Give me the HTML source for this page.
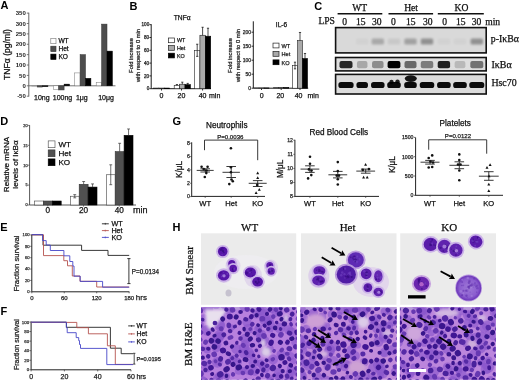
<!DOCTYPE html>
<html><head><meta charset="utf-8"><style>
html,body{margin:0;padding:0;background:#fff;overflow:hidden;}
svg{display:block;will-change:transform;filter:blur(0.3px);}
</style></head><body>
<svg width="520" height="381" viewBox="0 0 520 381" style="font-family:'Liberation Sans',sans-serif">
<rect width="520" height="381" fill="#fff"/>
<text x="0.60" y="9.20" font-size="11" text-anchor="start" font-weight="bold" font-family='"Liberation Sans", sans-serif' fill="#000">A</text>
<text x="129.60" y="10.10" font-size="11" text-anchor="start" font-weight="bold" font-family='"Liberation Sans", sans-serif' fill="#000">B</text>
<text x="314.30" y="9.60" font-size="11" text-anchor="start" font-weight="bold" font-family='"Liberation Sans", sans-serif' fill="#000">C</text>
<text x="0.30" y="125.20" font-size="11" text-anchor="start" font-weight="bold" font-family='"Liberation Sans", sans-serif' fill="#000">D</text>
<text x="0.30" y="230.50" font-size="11" text-anchor="start" font-weight="bold" font-family='"Liberation Sans", sans-serif' fill="#000">E</text>
<text x="0.50" y="315.00" font-size="11" text-anchor="start" font-weight="bold" font-family='"Liberation Sans", sans-serif' fill="#000">F</text>
<text x="172.60" y="124.90" font-size="11" text-anchor="start" font-weight="bold" font-family='"Liberation Sans", sans-serif' fill="#000">G</text>
<text x="172.40" y="231.20" font-size="11" text-anchor="start" font-weight="bold" font-family='"Liberation Sans", sans-serif' fill="#000">H</text>
<line x1="28.80" y1="12.71" x2="28.80" y2="96.59" stroke="#555" stroke-width="0.9"/>
<line x1="26.80" y1="96.19" x2="28.80" y2="96.19" stroke="#555" stroke-width="0.8"/>
<text x="25.80" y="98.39" font-size="6.0" text-anchor="end" font-weight="bold" font-family='"Liberation Sans", sans-serif' fill="#222">-50</text>
<line x1="26.80" y1="85.80" x2="28.80" y2="85.80" stroke="#555" stroke-width="0.8"/>
<text x="25.80" y="88.00" font-size="6.0" text-anchor="end" font-weight="bold" font-family='"Liberation Sans", sans-serif' fill="#222">0</text>
<line x1="26.80" y1="75.41" x2="28.80" y2="75.41" stroke="#555" stroke-width="0.8"/>
<text x="25.80" y="77.61" font-size="6.0" text-anchor="end" font-weight="bold" font-family='"Liberation Sans", sans-serif' fill="#222">50</text>
<line x1="26.80" y1="65.03" x2="28.80" y2="65.03" stroke="#555" stroke-width="0.8"/>
<text x="25.80" y="67.23" font-size="6.0" text-anchor="end" font-weight="bold" font-family='"Liberation Sans", sans-serif' fill="#222">100</text>
<line x1="26.80" y1="54.64" x2="28.80" y2="54.64" stroke="#555" stroke-width="0.8"/>
<text x="25.80" y="56.84" font-size="6.0" text-anchor="end" font-weight="bold" font-family='"Liberation Sans", sans-serif' fill="#222">150</text>
<line x1="26.80" y1="44.26" x2="28.80" y2="44.26" stroke="#555" stroke-width="0.8"/>
<text x="25.80" y="46.46" font-size="6.0" text-anchor="end" font-weight="bold" font-family='"Liberation Sans", sans-serif' fill="#222">200</text>
<line x1="26.80" y1="33.88" x2="28.80" y2="33.88" stroke="#555" stroke-width="0.8"/>
<text x="25.80" y="36.08" font-size="6.0" text-anchor="end" font-weight="bold" font-family='"Liberation Sans", sans-serif' fill="#222">250</text>
<line x1="26.80" y1="23.49" x2="28.80" y2="23.49" stroke="#555" stroke-width="0.8"/>
<text x="25.80" y="25.69" font-size="6.0" text-anchor="end" font-weight="bold" font-family='"Liberation Sans", sans-serif' fill="#222">300</text>
<line x1="26.80" y1="13.11" x2="28.80" y2="13.11" stroke="#555" stroke-width="0.8"/>
<text x="25.80" y="15.31" font-size="6.0" text-anchor="end" font-weight="bold" font-family='"Liberation Sans", sans-serif' fill="#222">350</text>
<line x1="28.80" y1="85.80" x2="115.50" y2="85.80" stroke="#666" stroke-width="0.9"/>
<text x="9.80" y="54.50" font-size="8.6" text-anchor="middle" font-weight="normal" font-family='"Liberation Sans", sans-serif' fill="#111" stroke="#111" stroke-width="0.25" transform="rotate(-90 9.8 54.5)">TNF&#945; (pg/ml)</text>
<rect x="31.80" y="85.80" width="5.40" height="0.21" fill="#fff" stroke="#777" stroke-width="0.5"/>
<rect x="37.20" y="85.80" width="5.40" height="1.25" fill="#4d4d4d" stroke="#333" stroke-width="0.5"/>
<rect x="42.60" y="85.80" width="5.40" height="0.83" fill="#000" stroke="#000" stroke-width="0.5"/>
<rect x="53.30" y="85.80" width="5.40" height="3.53" fill="#fff" stroke="#777" stroke-width="0.5"/>
<rect x="58.70" y="85.80" width="5.40" height="4.15" fill="#4d4d4d" stroke="#333" stroke-width="0.5"/>
<rect x="64.10" y="84.14" width="5.40" height="1.66" fill="#000" stroke="#000" stroke-width="0.5"/>
<rect x="74.70" y="72.92" width="5.40" height="12.88" fill="#fff" stroke="#777" stroke-width="0.5"/>
<rect x="80.10" y="54.64" width="5.40" height="31.16" fill="#4d4d4d" stroke="#333" stroke-width="0.5"/>
<rect x="85.50" y="78.32" width="5.40" height="7.48" fill="#000" stroke="#000" stroke-width="0.5"/>
<rect x="96.20" y="82.27" width="5.40" height="3.53" fill="#fff" stroke="#777" stroke-width="0.5"/>
<rect x="101.60" y="24.11" width="5.40" height="61.69" fill="#4d4d4d" stroke="#333" stroke-width="0.5"/>
<rect x="107.00" y="51.11" width="5.40" height="34.69" fill="#000" stroke="#000" stroke-width="0.5"/>
<rect x="50.80" y="38.30" width="5.20" height="5.40" fill="#fff" stroke="#777" stroke-width="0.6"/>
<text x="58.40" y="43.30" font-size="6.6" text-anchor="start" font-weight="normal" font-family='"Liberation Sans", sans-serif' fill="#111" stroke="#111" stroke-width="0.25">WT</text>
<rect x="50.80" y="46.20" width="5.20" height="5.40" fill="#4d4d4d" stroke="#333" stroke-width="0.6"/>
<text x="58.40" y="51.20" font-size="6.6" text-anchor="start" font-weight="normal" font-family='"Liberation Sans", sans-serif' fill="#111" stroke="#111" stroke-width="0.25">Het</text>
<rect x="50.80" y="54.10" width="5.20" height="5.40" fill="#000" stroke="#000" stroke-width="0.6"/>
<text x="58.40" y="59.10" font-size="6.6" text-anchor="start" font-weight="normal" font-family='"Liberation Sans", sans-serif' fill="#111" stroke="#111" stroke-width="0.25">KO</text>
<text x="41.80" y="100.40" font-size="7.0" text-anchor="middle" font-weight="normal" font-family='"Liberation Sans", sans-serif' fill="#111" stroke="#111" stroke-width="0.25">10ng</text>
<text x="62.50" y="100.40" font-size="7.0" text-anchor="middle" font-weight="normal" font-family='"Liberation Sans", sans-serif' fill="#111" stroke="#111" stroke-width="0.25">100ng</text>
<text x="81.80" y="100.40" font-size="7.0" text-anchor="middle" font-weight="normal" font-family='"Liberation Sans", sans-serif' fill="#111" stroke="#111" stroke-width="0.25">1&#956;g</text>
<text x="106.00" y="100.40" font-size="7.0" text-anchor="middle" font-weight="normal" font-family='"Liberation Sans", sans-serif' fill="#111" stroke="#111" stroke-width="0.25">10&#956;g</text>
<line x1="151.20" y1="24.20" x2="151.20" y2="88.70" stroke="#000" stroke-width="0.9"/>
<line x1="149.40" y1="88.70" x2="151.20" y2="88.70" stroke="#000" stroke-width="0.8"/>
<text x="149.20" y="90.30" font-size="4.6" text-anchor="end" font-weight="normal" font-family='"Liberation Sans", sans-serif' fill="#222" stroke="#222" stroke-width="0.25">0</text>
<line x1="149.40" y1="75.90" x2="151.20" y2="75.90" stroke="#000" stroke-width="0.8"/>
<text x="149.20" y="77.50" font-size="4.6" text-anchor="end" font-weight="normal" font-family='"Liberation Sans", sans-serif' fill="#222" stroke="#222" stroke-width="0.25">20</text>
<line x1="149.40" y1="63.10" x2="151.20" y2="63.10" stroke="#000" stroke-width="0.8"/>
<text x="149.20" y="64.70" font-size="4.6" text-anchor="end" font-weight="normal" font-family='"Liberation Sans", sans-serif' fill="#222" stroke="#222" stroke-width="0.25">40</text>
<line x1="149.40" y1="50.30" x2="151.20" y2="50.30" stroke="#000" stroke-width="0.8"/>
<text x="149.20" y="51.90" font-size="4.6" text-anchor="end" font-weight="normal" font-family='"Liberation Sans", sans-serif' fill="#222" stroke="#222" stroke-width="0.25">60</text>
<line x1="149.40" y1="37.50" x2="151.20" y2="37.50" stroke="#000" stroke-width="0.8"/>
<text x="149.20" y="39.10" font-size="4.6" text-anchor="end" font-weight="normal" font-family='"Liberation Sans", sans-serif' fill="#222" stroke="#222" stroke-width="0.25">80</text>
<line x1="149.40" y1="24.70" x2="151.20" y2="24.70" stroke="#000" stroke-width="0.8"/>
<text x="149.20" y="26.30" font-size="4.6" text-anchor="end" font-weight="normal" font-family='"Liberation Sans", sans-serif' fill="#222" stroke="#222" stroke-width="0.25">100</text>
<line x1="151.20" y1="88.70" x2="211.00" y2="88.70" stroke="#000" stroke-width="0.9"/>
<line x1="161.50" y1="88.70" x2="161.50" y2="90.50" stroke="#000" stroke-width="0.8"/>
<text x="161.50" y="97.70" font-size="7.0" text-anchor="middle" font-weight="normal" font-family='"Liberation Sans", sans-serif' fill="#111" stroke="#111" stroke-width="0.25">0</text>
<line x1="181.50" y1="88.70" x2="181.50" y2="90.50" stroke="#000" stroke-width="0.8"/>
<text x="181.50" y="97.70" font-size="7.0" text-anchor="middle" font-weight="normal" font-family='"Liberation Sans", sans-serif' fill="#111" stroke="#111" stroke-width="0.25">20</text>
<line x1="202.60" y1="88.70" x2="202.60" y2="90.50" stroke="#000" stroke-width="0.8"/>
<text x="202.60" y="97.70" font-size="7.0" text-anchor="middle" font-weight="normal" font-family='"Liberation Sans", sans-serif' fill="#111" stroke="#111" stroke-width="0.25">40</text>
<text x="209.00" y="97.70" font-size="7.0" text-anchor="start" font-weight="normal" font-family='"Liberation Sans", sans-serif' fill="#111" stroke="#111" stroke-width="0.25">min</text>
<text x="132.50" y="55.50" font-size="5.8" text-anchor="middle" font-weight="normal" font-family='"Liberation Sans", sans-serif' fill="#222" stroke="#222" stroke-width="0.25" transform="rotate(-90 132.5 55.5)">Fold increase</text>
<text x="140.30" y="55.50" font-size="5.8" text-anchor="middle" font-weight="normal" font-family='"Liberation Sans", sans-serif' fill="#222" stroke="#222" stroke-width="0.25" transform="rotate(-90 140.3 55.5)">with respect to 0 min</text>
<text x="182.20" y="20.00" font-size="6.7" text-anchor="middle" font-weight="normal" font-family='"Liberation Sans", sans-serif' fill="#111" stroke="#111" stroke-width="0.25">TNF&#945;</text>
<rect x="153.40" y="88.06" width="5.40" height="0.64" fill="#fff" stroke="#222" stroke-width="0.6"/>
<rect x="158.80" y="88.06" width="5.40" height="0.64" fill="#aaa" stroke="#222" stroke-width="0.6"/>
<rect x="164.20" y="88.06" width="5.40" height="0.64" fill="#000" stroke="#000" stroke-width="0.6"/>
<rect x="174.20" y="85.50" width="5.40" height="3.20" fill="#fff" stroke="#222" stroke-width="0.6"/>
<line x1="176.90" y1="84.54" x2="176.90" y2="85.50" stroke="#000" stroke-width="0.7"/>
<line x1="175.80" y1="84.54" x2="178.00" y2="84.54" stroke="#000" stroke-width="0.7"/>
<rect x="179.60" y="84.22" width="5.40" height="4.48" fill="#aaa" stroke="#222" stroke-width="0.6"/>
<line x1="182.30" y1="82.17" x2="182.30" y2="84.22" stroke="#000" stroke-width="0.7"/>
<line x1="181.20" y1="82.17" x2="183.40" y2="82.17" stroke="#000" stroke-width="0.7"/>
<rect x="185.00" y="84.67" width="5.40" height="4.03" fill="#000" stroke="#000" stroke-width="0.6"/>
<line x1="187.70" y1="83.39" x2="187.70" y2="84.67" stroke="#000" stroke-width="0.7"/>
<line x1="186.60" y1="83.39" x2="188.80" y2="83.39" stroke="#000" stroke-width="0.7"/>
<rect x="194.50" y="50.30" width="5.40" height="38.40" fill="#fff" stroke="#222" stroke-width="0.6"/>
<line x1="197.20" y1="44.22" x2="197.20" y2="50.30" stroke="#000" stroke-width="0.7"/>
<line x1="196.10" y1="44.22" x2="198.30" y2="44.22" stroke="#000" stroke-width="0.7"/>
<line x1="197.20" y1="50.30" x2="197.20" y2="56.38" stroke="#000" stroke-width="0.7"/>
<line x1="196.10" y1="56.38" x2="198.30" y2="56.38" stroke="#000" stroke-width="0.7"/>
<rect x="199.90" y="35.26" width="5.40" height="53.44" fill="#aaa" stroke="#222" stroke-width="0.6"/>
<line x1="202.60" y1="27.26" x2="202.60" y2="35.26" stroke="#000" stroke-width="0.7"/>
<line x1="201.50" y1="27.26" x2="203.70" y2="27.26" stroke="#000" stroke-width="0.7"/>
<rect x="205.30" y="36.22" width="5.40" height="52.48" fill="#000" stroke="#000" stroke-width="0.6"/>
<line x1="208.00" y1="28.22" x2="208.00" y2="36.22" stroke="#000" stroke-width="0.7"/>
<line x1="206.90" y1="28.22" x2="209.10" y2="28.22" stroke="#000" stroke-width="0.7"/>
<rect x="168.40" y="38.00" width="6.00" height="4.70" fill="#fff" stroke="#222" stroke-width="0.7"/>
<text x="176.90" y="42.40" font-size="5.4" text-anchor="start" font-weight="normal" font-family='"Liberation Sans", sans-serif' fill="#222" stroke="#222" stroke-width="0.25">WT</text>
<rect x="168.40" y="45.60" width="6.00" height="4.70" fill="#aaa" stroke="#222" stroke-width="0.7"/>
<text x="176.90" y="50.00" font-size="5.4" text-anchor="start" font-weight="normal" font-family='"Liberation Sans", sans-serif' fill="#222" stroke="#222" stroke-width="0.25">Het</text>
<rect x="168.40" y="53.20" width="6.00" height="4.70" fill="#000" stroke="#000" stroke-width="0.7"/>
<text x="176.90" y="57.60" font-size="5.4" text-anchor="start" font-weight="normal" font-family='"Liberation Sans", sans-serif' fill="#222" stroke="#222" stroke-width="0.25">KO</text>
<line x1="253.30" y1="21.30" x2="253.30" y2="88.20" stroke="#000" stroke-width="0.9"/>
<line x1="251.50" y1="88.20" x2="253.30" y2="88.20" stroke="#000" stroke-width="0.8"/>
<text x="251.00" y="89.90" font-size="5.0" text-anchor="end" font-weight="normal" font-family='"Liberation Sans", sans-serif' fill="#222" stroke="#222" stroke-width="0.25">0</text>
<line x1="251.50" y1="74.20" x2="253.30" y2="74.20" stroke="#000" stroke-width="0.8"/>
<text x="251.00" y="75.90" font-size="5.0" text-anchor="end" font-weight="normal" font-family='"Liberation Sans", sans-serif' fill="#222" stroke="#222" stroke-width="0.25">50</text>
<line x1="251.50" y1="60.20" x2="253.30" y2="60.20" stroke="#000" stroke-width="0.8"/>
<text x="251.00" y="61.90" font-size="5.0" text-anchor="end" font-weight="normal" font-family='"Liberation Sans", sans-serif' fill="#222" stroke="#222" stroke-width="0.25">100</text>
<line x1="251.50" y1="46.20" x2="253.30" y2="46.20" stroke="#000" stroke-width="0.8"/>
<text x="251.00" y="47.90" font-size="5.0" text-anchor="end" font-weight="normal" font-family='"Liberation Sans", sans-serif' fill="#222" stroke="#222" stroke-width="0.25">150</text>
<line x1="251.50" y1="32.20" x2="253.30" y2="32.20" stroke="#000" stroke-width="0.8"/>
<text x="251.00" y="33.90" font-size="5.0" text-anchor="end" font-weight="normal" font-family='"Liberation Sans", sans-serif' fill="#222" stroke="#222" stroke-width="0.25">200</text>
<line x1="253.30" y1="88.20" x2="308.20" y2="88.20" stroke="#000" stroke-width="0.9"/>
<line x1="261.50" y1="88.20" x2="261.50" y2="90.00" stroke="#000" stroke-width="0.8"/>
<text x="261.80" y="97.60" font-size="7.0" text-anchor="middle" font-weight="normal" font-family='"Liberation Sans", sans-serif' fill="#111" stroke="#111" stroke-width="0.25">0</text>
<line x1="281.20" y1="88.20" x2="281.20" y2="90.00" stroke="#000" stroke-width="0.8"/>
<text x="280.30" y="97.60" font-size="7.0" text-anchor="middle" font-weight="normal" font-family='"Liberation Sans", sans-serif' fill="#111" stroke="#111" stroke-width="0.25">20</text>
<line x1="300.00" y1="88.20" x2="300.00" y2="90.00" stroke="#000" stroke-width="0.8"/>
<text x="298.60" y="97.60" font-size="7.0" text-anchor="middle" font-weight="normal" font-family='"Liberation Sans", sans-serif' fill="#111" stroke="#111" stroke-width="0.25">40</text>
<text x="307.50" y="97.60" font-size="7.0" text-anchor="start" font-weight="normal" font-family='"Liberation Sans", sans-serif' fill="#111" stroke="#111" stroke-width="0.25">min</text>
<text x="231.90" y="55.50" font-size="5.8" text-anchor="middle" font-weight="normal" font-family='"Liberation Sans", sans-serif' fill="#222" stroke="#222" stroke-width="0.25" transform="rotate(-90 231.9 55.5)">Fold increase</text>
<text x="239.50" y="55.50" font-size="5.8" text-anchor="middle" font-weight="normal" font-family='"Liberation Sans", sans-serif' fill="#222" stroke="#222" stroke-width="0.25" transform="rotate(-90 239.5 55.5)">with respect to 0 min</text>
<text x="281.50" y="26.80" font-size="6.6" text-anchor="middle" font-weight="normal" font-family='"Liberation Sans", sans-serif' fill="#111" stroke="#111" stroke-width="0.25">IL-6</text>
<rect x="254.00" y="87.92" width="5.00" height="0.28" fill="#fff" stroke="#222" stroke-width="0.6"/>
<rect x="259.00" y="87.92" width="5.00" height="0.28" fill="#aaa" stroke="#222" stroke-width="0.6"/>
<rect x="264.00" y="87.92" width="5.00" height="0.28" fill="#000" stroke="#000" stroke-width="0.6"/>
<rect x="273.70" y="87.64" width="5.00" height="0.56" fill="#fff" stroke="#222" stroke-width="0.6"/>
<rect x="278.70" y="87.36" width="5.00" height="0.84" fill="#aaa" stroke="#222" stroke-width="0.6"/>
<rect x="283.70" y="87.64" width="5.00" height="0.56" fill="#000" stroke="#000" stroke-width="0.6"/>
<rect x="292.50" y="65.52" width="5.00" height="22.68" fill="#fff" stroke="#222" stroke-width="0.6"/>
<line x1="295.00" y1="62.16" x2="295.00" y2="65.52" stroke="#000" stroke-width="0.7"/>
<line x1="293.90" y1="62.16" x2="296.10" y2="62.16" stroke="#000" stroke-width="0.7"/>
<line x1="295.00" y1="65.52" x2="295.00" y2="68.88" stroke="#000" stroke-width="0.7"/>
<line x1="293.90" y1="68.88" x2="296.10" y2="68.88" stroke="#000" stroke-width="0.7"/>
<rect x="297.50" y="40.60" width="5.00" height="47.60" fill="#aaa" stroke="#222" stroke-width="0.6"/>
<line x1="300.00" y1="32.48" x2="300.00" y2="40.60" stroke="#000" stroke-width="0.7"/>
<line x1="298.90" y1="32.48" x2="301.10" y2="32.48" stroke="#000" stroke-width="0.7"/>
<rect x="302.50" y="58.52" width="5.00" height="29.68" fill="#000" stroke="#000" stroke-width="0.6"/>
<line x1="305.00" y1="53.48" x2="305.00" y2="58.52" stroke="#000" stroke-width="0.7"/>
<line x1="303.90" y1="53.48" x2="306.10" y2="53.48" stroke="#000" stroke-width="0.7"/>
<rect x="273.00" y="43.10" width="6.00" height="4.80" fill="#fff" stroke="#222" stroke-width="0.7"/>
<text x="281.50" y="47.70" font-size="5.6" text-anchor="start" font-weight="normal" font-family='"Liberation Sans", sans-serif' fill="#222" stroke="#222" stroke-width="0.25">WT</text>
<rect x="273.00" y="51.50" width="6.00" height="4.80" fill="#aaa" stroke="#222" stroke-width="0.7"/>
<text x="281.50" y="56.10" font-size="5.6" text-anchor="start" font-weight="normal" font-family='"Liberation Sans", sans-serif' fill="#222" stroke="#222" stroke-width="0.25">Het</text>
<rect x="273.00" y="59.90" width="6.00" height="4.80" fill="#000" stroke="#000" stroke-width="0.7"/>
<text x="281.50" y="64.50" font-size="5.6" text-anchor="start" font-weight="normal" font-family='"Liberation Sans", sans-serif' fill="#222" stroke="#222" stroke-width="0.25">KO</text>
<text x="359.60" y="11.00" font-size="9.6" text-anchor="middle" font-weight="normal" font-family='"Liberation Serif", serif' fill="#111" stroke="#111" stroke-width="0.25">WT</text>
<text x="411.10" y="11.00" font-size="9.6" text-anchor="middle" font-weight="normal" font-family='"Liberation Serif", serif' fill="#111" stroke="#111" stroke-width="0.25">Het</text>
<text x="461.50" y="11.00" font-size="9.6" text-anchor="middle" font-weight="normal" font-family='"Liberation Serif", serif' fill="#111" stroke="#111" stroke-width="0.25">KO</text>
<line x1="337.60" y1="13.80" x2="382.30" y2="13.80" stroke="#111" stroke-width="1.4"/>
<line x1="388.50" y1="13.80" x2="433.10" y2="13.80" stroke="#111" stroke-width="1.4"/>
<line x1="437.80" y1="13.80" x2="483.80" y2="13.80" stroke="#111" stroke-width="1.4"/>
<text x="318.40" y="24.30" font-size="9.6" text-anchor="start" font-weight="normal" font-family='"Liberation Serif", serif' fill="#111" stroke="#111" stroke-width="0.25">LPS</text>
<text x="344.60" y="24.50" font-size="9.6" text-anchor="middle" font-weight="normal" font-family='"Liberation Serif", serif' fill="#111" stroke="#111" stroke-width="0.25">0</text>
<text x="360.80" y="24.50" font-size="9.6" text-anchor="middle" font-weight="normal" font-family='"Liberation Serif", serif' fill="#111" stroke="#111" stroke-width="0.25">15</text>
<text x="376.80" y="24.50" font-size="9.6" text-anchor="middle" font-weight="normal" font-family='"Liberation Serif", serif' fill="#111" stroke="#111" stroke-width="0.25">30</text>
<text x="393.50" y="24.50" font-size="9.6" text-anchor="middle" font-weight="normal" font-family='"Liberation Serif", serif' fill="#111" stroke="#111" stroke-width="0.25">0</text>
<text x="410.80" y="24.50" font-size="9.6" text-anchor="middle" font-weight="normal" font-family='"Liberation Serif", serif' fill="#111" stroke="#111" stroke-width="0.25">15</text>
<text x="427.70" y="24.50" font-size="9.6" text-anchor="middle" font-weight="normal" font-family='"Liberation Serif", serif' fill="#111" stroke="#111" stroke-width="0.25">30</text>
<text x="444.60" y="24.50" font-size="9.6" text-anchor="middle" font-weight="normal" font-family='"Liberation Serif", serif' fill="#111" stroke="#111" stroke-width="0.25">0</text>
<text x="460.80" y="24.50" font-size="9.6" text-anchor="middle" font-weight="normal" font-family='"Liberation Serif", serif' fill="#111" stroke="#111" stroke-width="0.25">15</text>
<text x="476.50" y="24.50" font-size="9.6" text-anchor="middle" font-weight="normal" font-family='"Liberation Serif", serif' fill="#111" stroke="#111" stroke-width="0.25">30</text>
<text x="485.20" y="24.50" font-size="9.6" text-anchor="start" font-weight="normal" font-family='"Liberation Serif", serif' fill="#111" stroke="#111" stroke-width="0.25">min</text>
<text x="490.80" y="41.60" font-size="9.8" text-anchor="start" font-weight="normal" font-family='"Liberation Serif", serif' fill="#111" stroke="#111" stroke-width="0.25">p-I&#954;B&#945;</text>
<text x="491.40" y="67.60" font-size="10.0" text-anchor="start" font-weight="normal" font-family='"Liberation Serif", serif' fill="#111" stroke="#111" stroke-width="0.25">I&#954;B&#945;</text>
<text x="491.40" y="85.70" font-size="9.9" text-anchor="start" font-weight="normal" font-family='"Liberation Serif", serif' fill="#111" stroke="#111" stroke-width="0.25">Hsc70</text>
<defs><filter id="bb" x="-20%" y="-50%" width="140%" height="200%"><feGaussianBlur stdDeviation="1.0"/></filter><filter id="bs" x="-20%" y="-30%" width="140%" height="160%"><feGaussianBlur stdDeviation="0.55"/></filter><filter id="bm" x="-5%" y="-5%" width="110%" height="110%"><feGaussianBlur stdDeviation="0.55"/></filter></defs>
<rect x="335.60" y="27.60" width="150.60" height="25.30" fill="#d9d9d9" stroke="#111" stroke-width="1.6"/>
<rect x="335.60" y="57.50" width="150.60" height="13.40" fill="#dedede" stroke="#111" stroke-width="1.6"/>
<rect x="335.60" y="74.40" width="150.60" height="19.60" fill="#dcdcdc" stroke="#111" stroke-width="1.6"/>
<rect x="356.00" y="38.6" width="12.4" height="6.0" rx="1.5" fill="#000" opacity="0.03" filter="url(#bb)"/>
<rect x="371.60" y="38.6" width="12.4" height="6.0" rx="1.5" fill="#000" opacity="0.22" filter="url(#bb)"/>
<rect x="387.80" y="38.6" width="12.4" height="6.0" rx="1.5" fill="#000" opacity="0.07" filter="url(#bb)"/>
<rect x="404.30" y="38.6" width="12.4" height="6.0" rx="1.5" fill="#000" opacity="0.25" filter="url(#bb)"/>
<rect x="420.80" y="38.6" width="12.4" height="6.0" rx="1.5" fill="#000" opacity="0.33" filter="url(#bb)"/>
<rect x="437.70" y="38.6" width="12.4" height="6.0" rx="1.5" fill="#000" opacity="0.03" filter="url(#bb)"/>
<rect x="453.80" y="38.6" width="12.4" height="6.0" rx="1.5" fill="#000" opacity="0.03" filter="url(#bb)"/>
<rect x="470.60" y="38.6" width="12.4" height="6.0" rx="1.5" fill="#000" opacity="0.33" filter="url(#bb)"/>
<rect x="339.50" y="61.0" width="13.00" height="7.2" rx="2" fill="#000" opacity="0.82" filter="url(#bs)"/>
<rect x="356.95" y="61.0" width="10.50" height="7.2" rx="2" fill="#000" opacity="0.24" filter="url(#bs)"/>
<rect x="372.05" y="61.0" width="11.50" height="7.2" rx="2" fill="#000" opacity="0.36" filter="url(#bs)"/>
<rect x="387.60" y="61.0" width="12.80" height="7.2" rx="2" fill="#000" opacity="1.00" filter="url(#bs)"/>
<rect x="404.50" y="61.0" width="12.00" height="7.2" rx="2" fill="#000" opacity="0.52" filter="url(#bs)"/>
<rect x="420.75" y="61.0" width="12.50" height="7.2" rx="2" fill="#000" opacity="0.44" filter="url(#bs)"/>
<rect x="437.70" y="61.0" width="12.40" height="7.2" rx="2" fill="#000" opacity="0.85" filter="url(#bs)"/>
<rect x="454.60" y="61.0" width="10.80" height="7.2" rx="2" fill="#000" opacity="0.16" filter="url(#bs)"/>
<rect x="470.30" y="61.0" width="13.00" height="7.2" rx="2" fill="#000" opacity="0.48" filter="url(#bs)"/>
<rect x="338.40" y="82.0" width="15.20" height="6.0" rx="2.6" fill="#000" opacity="0.95" filter="url(#bs)"/>
<rect x="356.45" y="82.0" width="11.50" height="6.0" rx="2.6" fill="#000" opacity="0.95" filter="url(#bs)"/>
<rect x="371.05" y="82.0" width="13.50" height="6.0" rx="2.6" fill="#000" opacity="0.95" filter="url(#bs)"/>
<rect x="387.25" y="82.0" width="13.50" height="6.0" rx="2.6" fill="#000" opacity="0.95" filter="url(#bs)"/>
<rect x="404.25" y="82.0" width="12.50" height="6.0" rx="2.6" fill="#000" opacity="0.95" filter="url(#bs)"/>
<rect x="419.75" y="82.0" width="14.50" height="6.0" rx="2.6" fill="#000" opacity="0.95" filter="url(#bs)"/>
<rect x="437.10" y="82.0" width="13.60" height="6.0" rx="2.6" fill="#000" opacity="0.95" filter="url(#bs)"/>
<rect x="453.20" y="82.0" width="13.60" height="6.0" rx="2.6" fill="#000" opacity="0.95" filter="url(#bs)"/>
<rect x="469.30" y="82.0" width="15.00" height="6.0" rx="2.6" fill="#000" opacity="0.95" filter="url(#bs)"/>
<ellipse cx="410.8" cy="78.6" rx="6" ry="3.4" fill="#000" opacity="0.9" filter="url(#bs)"/>
<ellipse cx="391.5" cy="82.0" rx="2.2" ry="2.2" fill="#000" opacity="0.85" filter="url(#bs)"/>
<ellipse cx="397.5" cy="81.5" rx="2.2" ry="2.0" fill="#000" opacity="0.85" filter="url(#bs)"/>
<line x1="29.60" y1="125.10" x2="29.60" y2="205.00" stroke="#444" stroke-width="0.9"/>
<line x1="28.00" y1="205.00" x2="29.60" y2="205.00" stroke="#444" stroke-width="0.7"/>
<text x="27.60" y="206.30" font-size="3.8" text-anchor="end" font-weight="normal" font-family='"Liberation Sans", sans-serif' fill="#333" stroke="#333" stroke-width="0.25">0</text>
<line x1="28.00" y1="185.10" x2="29.60" y2="185.10" stroke="#444" stroke-width="0.7"/>
<text x="27.60" y="186.40" font-size="3.8" text-anchor="end" font-weight="normal" font-family='"Liberation Sans", sans-serif' fill="#333" stroke="#333" stroke-width="0.25">5</text>
<line x1="28.00" y1="165.20" x2="29.60" y2="165.20" stroke="#444" stroke-width="0.7"/>
<text x="27.60" y="166.50" font-size="3.8" text-anchor="end" font-weight="normal" font-family='"Liberation Sans", sans-serif' fill="#333" stroke="#333" stroke-width="0.25">10</text>
<line x1="28.00" y1="145.30" x2="29.60" y2="145.30" stroke="#444" stroke-width="0.7"/>
<text x="27.60" y="146.60" font-size="3.8" text-anchor="end" font-weight="normal" font-family='"Liberation Sans", sans-serif' fill="#333" stroke="#333" stroke-width="0.25">15</text>
<line x1="28.00" y1="125.40" x2="29.60" y2="125.40" stroke="#444" stroke-width="0.7"/>
<text x="27.60" y="126.70" font-size="3.8" text-anchor="end" font-weight="normal" font-family='"Liberation Sans", sans-serif' fill="#333" stroke="#333" stroke-width="0.25">20</text>
<line x1="29.60" y1="205.00" x2="136.00" y2="205.00" stroke="#444" stroke-width="0.9"/>
<text x="9.00" y="164.50" font-size="8.1" text-anchor="middle" font-weight="normal" font-family='"Liberation Sans", sans-serif' fill="#111" stroke="#111" stroke-width="0.25" transform="rotate(-90 9.0 164.5)">Relative mRNA</text>
<text x="18.00" y="164.50" font-size="8.1" text-anchor="middle" font-weight="normal" font-family='"Liberation Sans", sans-serif' fill="#111" stroke="#111" stroke-width="0.25" transform="rotate(-90 18.0 164.5)">levels of I&#954;B&#945;</text>
<rect x="34.50" y="201.02" width="8.90" height="3.98" fill="#fff" stroke="#444" stroke-width="0.6"/>
<rect x="43.40" y="201.02" width="8.90" height="3.98" fill="#505050" stroke="#333" stroke-width="0.6"/>
<rect x="52.30" y="201.02" width="8.90" height="3.98" fill="#000" stroke="#000" stroke-width="0.6"/>
<rect x="70.30" y="196.24" width="8.90" height="8.76" fill="#fff" stroke="#444" stroke-width="0.6"/>
<line x1="74.75" y1="194.65" x2="74.75" y2="197.84" stroke="#333" stroke-width="0.7"/>
<line x1="73.30" y1="194.65" x2="76.20" y2="194.65" stroke="#333" stroke-width="0.7"/>
<line x1="73.30" y1="197.84" x2="76.20" y2="197.84" stroke="#333" stroke-width="0.7"/>
<rect x="79.20" y="184.30" width="8.90" height="20.70" fill="#505050" stroke="#333" stroke-width="0.6"/>
<line x1="83.65" y1="181.52" x2="83.65" y2="184.30" stroke="#333" stroke-width="0.7"/>
<line x1="82.20" y1="181.52" x2="85.10" y2="181.52" stroke="#333" stroke-width="0.7"/>
<rect x="88.10" y="187.09" width="8.90" height="17.91" fill="#000" stroke="#000" stroke-width="0.6"/>
<line x1="92.55" y1="183.91" x2="92.55" y2="187.09" stroke="#333" stroke-width="0.7"/>
<line x1="91.10" y1="183.91" x2="94.00" y2="183.91" stroke="#333" stroke-width="0.7"/>
<rect x="106.30" y="174.75" width="8.90" height="30.25" fill="#fff" stroke="#444" stroke-width="0.6"/>
<line x1="110.75" y1="164.80" x2="110.75" y2="184.70" stroke="#333" stroke-width="0.7"/>
<line x1="109.30" y1="164.80" x2="112.20" y2="164.80" stroke="#333" stroke-width="0.7"/>
<line x1="109.30" y1="184.70" x2="112.20" y2="184.70" stroke="#333" stroke-width="0.7"/>
<rect x="115.20" y="151.67" width="8.90" height="53.33" fill="#505050" stroke="#333" stroke-width="0.6"/>
<line x1="119.65" y1="143.31" x2="119.65" y2="151.67" stroke="#333" stroke-width="0.7"/>
<line x1="118.20" y1="143.31" x2="121.10" y2="143.31" stroke="#333" stroke-width="0.7"/>
<rect x="124.10" y="135.35" width="8.90" height="69.65" fill="#000" stroke="#000" stroke-width="0.6"/>
<line x1="128.55" y1="128.98" x2="128.55" y2="135.35" stroke="#333" stroke-width="0.7"/>
<line x1="127.10" y1="128.98" x2="130.00" y2="128.98" stroke="#333" stroke-width="0.7"/>
<rect x="48.20" y="140.90" width="6.80" height="6.80" fill="#fff" stroke="#444" stroke-width="0.6"/>
<text x="58.40" y="147.10" font-size="8.1" text-anchor="start" font-weight="normal" font-family='"Liberation Sans", sans-serif' fill="#111" stroke="#111" stroke-width="0.25">WT</text>
<rect x="48.20" y="149.90" width="6.80" height="6.80" fill="#505050" stroke="#333" stroke-width="0.6"/>
<text x="58.40" y="156.10" font-size="8.1" text-anchor="start" font-weight="normal" font-family='"Liberation Sans", sans-serif' fill="#111" stroke="#111" stroke-width="0.25">Het</text>
<rect x="48.20" y="158.90" width="6.80" height="6.80" fill="#000" stroke="#000" stroke-width="0.6"/>
<text x="58.40" y="165.10" font-size="8.1" text-anchor="start" font-weight="normal" font-family='"Liberation Sans", sans-serif' fill="#111" stroke="#111" stroke-width="0.25">KO</text>
<line x1="47.80" y1="205.00" x2="47.80" y2="206.60" stroke="#444" stroke-width="0.7"/>
<text x="47.80" y="213.30" font-size="8.2" text-anchor="middle" font-weight="normal" font-family='"Liberation Sans", sans-serif' fill="#111" stroke="#111" stroke-width="0.25">0</text>
<line x1="83.50" y1="205.00" x2="83.50" y2="206.60" stroke="#444" stroke-width="0.7"/>
<text x="83.50" y="213.30" font-size="8.2" text-anchor="middle" font-weight="normal" font-family='"Liberation Sans", sans-serif' fill="#111" stroke="#111" stroke-width="0.25">20</text>
<line x1="119.20" y1="205.00" x2="119.20" y2="206.60" stroke="#444" stroke-width="0.7"/>
<text x="119.20" y="213.30" font-size="8.2" text-anchor="middle" font-weight="normal" font-family='"Liberation Sans", sans-serif' fill="#111" stroke="#111" stroke-width="0.25">40</text>
<text x="133.00" y="213.30" font-size="9.0" text-anchor="start" font-weight="normal" font-family='"Liberation Sans", sans-serif' fill="#111" stroke="#111" stroke-width="0.25">min</text>
<line x1="31.80" y1="234.65" x2="31.80" y2="291.80" stroke="#222" stroke-width="1.0"/>
<line x1="30.20" y1="291.80" x2="31.80" y2="291.80" stroke="#333" stroke-width="0.7"/>
<text x="29.60" y="293.20" font-size="4.2" text-anchor="end" font-weight="normal" font-family='"Liberation Sans", sans-serif' fill="#333" stroke="#333" stroke-width="0.25">0</text>
<line x1="30.20" y1="280.43" x2="31.80" y2="280.43" stroke="#333" stroke-width="0.7"/>
<text x="29.60" y="281.83" font-size="4.2" text-anchor="end" font-weight="normal" font-family='"Liberation Sans", sans-serif' fill="#333" stroke="#333" stroke-width="0.25">20</text>
<line x1="30.20" y1="269.06" x2="31.80" y2="269.06" stroke="#333" stroke-width="0.7"/>
<text x="29.60" y="270.46" font-size="4.2" text-anchor="end" font-weight="normal" font-family='"Liberation Sans", sans-serif' fill="#333" stroke="#333" stroke-width="0.25">40</text>
<line x1="30.20" y1="257.69" x2="31.80" y2="257.69" stroke="#333" stroke-width="0.7"/>
<text x="29.60" y="259.09" font-size="4.2" text-anchor="end" font-weight="normal" font-family='"Liberation Sans", sans-serif' fill="#333" stroke="#333" stroke-width="0.25">60</text>
<line x1="30.20" y1="246.32" x2="31.80" y2="246.32" stroke="#333" stroke-width="0.7"/>
<text x="29.60" y="247.72" font-size="4.2" text-anchor="end" font-weight="normal" font-family='"Liberation Sans", sans-serif' fill="#333" stroke="#333" stroke-width="0.25">80</text>
<line x1="30.20" y1="234.95" x2="31.80" y2="234.95" stroke="#333" stroke-width="0.7"/>
<text x="29.60" y="236.35" font-size="4.2" text-anchor="end" font-weight="normal" font-family='"Liberation Sans", sans-serif' fill="#333" stroke="#333" stroke-width="0.25">100</text>
<line x1="31.80" y1="291.80" x2="129.40" y2="291.80" stroke="#222" stroke-width="1.0"/>
<line x1="31.80" y1="291.80" x2="31.80" y2="293.30" stroke="#333" stroke-width="0.7"/>
<text x="31.80" y="300.20" font-size="6.0" text-anchor="middle" font-weight="normal" font-family='"Liberation Sans", sans-serif' fill="#222" stroke="#222" stroke-width="0.25">0</text>
<line x1="64.25" y1="291.80" x2="64.25" y2="293.30" stroke="#333" stroke-width="0.7"/>
<text x="64.25" y="300.20" font-size="6.0" text-anchor="middle" font-weight="normal" font-family='"Liberation Sans", sans-serif' fill="#222" stroke="#222" stroke-width="0.25">60</text>
<line x1="96.70" y1="291.80" x2="96.70" y2="293.30" stroke="#333" stroke-width="0.7"/>
<text x="96.70" y="300.20" font-size="6.0" text-anchor="middle" font-weight="normal" font-family='"Liberation Sans", sans-serif' fill="#222" stroke="#222" stroke-width="0.25">120</text>
<line x1="129.14" y1="291.80" x2="129.14" y2="293.30" stroke="#333" stroke-width="0.7"/>
<text x="129.14" y="300.20" font-size="6.0" text-anchor="middle" font-weight="normal" font-family='"Liberation Sans", sans-serif' fill="#222" stroke="#222" stroke-width="0.25">180</text>
<text x="135.80" y="300.40" font-size="8.0" text-anchor="start" font-weight="normal" font-family='"Liberation Sans", sans-serif' fill="#222" stroke="#222" stroke-width="0.25">hrs</text>
<text x="19.20" y="263.40" font-size="7.7" text-anchor="middle" font-weight="normal" font-family='"Liberation Sans", sans-serif' fill="#222" stroke="#222" stroke-width="0.25" transform="rotate(-90 19.2 263.4)">Fraction survival</text>
<polyline points="31.80,234.80 43.00,234.80 43.00,245.20 81.60,245.20 81.60,250.40 108.00,250.40 108.00,255.40 129.20,255.40" fill="none" stroke="#222" stroke-width="0.9"/>
<polyline points="31.80,234.80 43.50,234.80 43.50,255.60 63.80,255.60 63.80,260.70 67.50,260.70 67.50,265.80 72.30,265.80 72.30,276.00 80.00,276.00 80.00,281.30 96.70,281.30 96.70,287.00 129.20,287.00" fill="none" stroke="#b5524f" stroke-width="0.9"/>
<polyline points="31.80,234.60 42.60,234.60 42.60,240.60 46.20,240.60 46.20,245.00 50.30,245.00 50.30,250.50 63.90,250.50 63.90,255.80 69.80,255.80 69.80,261.50 72.80,261.50 72.80,266.00 74.00,266.00 74.00,276.20 80.20,276.20 80.20,281.40 102.60,281.40 102.60,287.20 129.20,287.20" fill="none" stroke="#4646c8" stroke-width="0.9"/>
<line x1="128.90" y1="258.60" x2="128.90" y2="283.60" stroke="#222" stroke-width="0.9"/>
<line x1="127.30" y1="258.60" x2="130.50" y2="258.60" stroke="#222" stroke-width="0.9"/>
<line x1="127.30" y1="283.60" x2="130.50" y2="283.60" stroke="#222" stroke-width="0.9"/>
<text x="131.80" y="273.50" font-size="6.3" text-anchor="start" font-weight="normal" font-family='"Liberation Sans", sans-serif' fill="#222" stroke="#222" stroke-width="0.25">P=0.0134</text>
<line x1="101.90" y1="223.80" x2="108.80" y2="223.80" stroke="#222" stroke-width="0.9"/>
<line x1="105.30" y1="222.90" x2="105.30" y2="224.70" stroke="#222" stroke-width="0.7"/>
<text x="111.40" y="226.40" font-size="7.2" text-anchor="start" font-weight="normal" font-family='"Liberation Sans", sans-serif' fill="#111" stroke="#111" stroke-width="0.25">WT</text>
<line x1="101.90" y1="230.60" x2="108.80" y2="230.60" stroke="#b5524f" stroke-width="0.9"/>
<line x1="105.30" y1="229.70" x2="105.30" y2="231.50" stroke="#b5524f" stroke-width="0.7"/>
<text x="111.40" y="233.20" font-size="7.2" text-anchor="start" font-weight="normal" font-family='"Liberation Sans", sans-serif' fill="#111" stroke="#111" stroke-width="0.25">Het</text>
<line x1="101.90" y1="237.40" x2="108.80" y2="237.40" stroke="#4646c8" stroke-width="0.9"/>
<line x1="105.30" y1="236.50" x2="105.30" y2="238.30" stroke="#4646c8" stroke-width="0.7"/>
<text x="111.40" y="240.00" font-size="7.2" text-anchor="start" font-weight="normal" font-family='"Liberation Sans", sans-serif' fill="#111" stroke="#111" stroke-width="0.25">KO</text>
<line x1="31.10" y1="321.70" x2="31.10" y2="369.80" stroke="#222" stroke-width="1.0"/>
<line x1="29.50" y1="369.80" x2="31.10" y2="369.80" stroke="#333" stroke-width="0.7"/>
<text x="29.20" y="371.30" font-size="4.4" text-anchor="end" font-weight="normal" font-family='"Liberation Sans", sans-serif' fill="#333" stroke="#333" stroke-width="0.25">0</text>
<line x1="29.50" y1="360.24" x2="31.10" y2="360.24" stroke="#333" stroke-width="0.7"/>
<text x="29.20" y="361.74" font-size="4.4" text-anchor="end" font-weight="normal" font-family='"Liberation Sans", sans-serif' fill="#333" stroke="#333" stroke-width="0.25">20</text>
<line x1="29.50" y1="350.68" x2="31.10" y2="350.68" stroke="#333" stroke-width="0.7"/>
<text x="29.20" y="352.18" font-size="4.4" text-anchor="end" font-weight="normal" font-family='"Liberation Sans", sans-serif' fill="#333" stroke="#333" stroke-width="0.25">40</text>
<line x1="29.50" y1="341.12" x2="31.10" y2="341.12" stroke="#333" stroke-width="0.7"/>
<text x="29.20" y="342.62" font-size="4.4" text-anchor="end" font-weight="normal" font-family='"Liberation Sans", sans-serif' fill="#333" stroke="#333" stroke-width="0.25">60</text>
<line x1="29.50" y1="331.56" x2="31.10" y2="331.56" stroke="#333" stroke-width="0.7"/>
<text x="29.20" y="333.06" font-size="4.4" text-anchor="end" font-weight="normal" font-family='"Liberation Sans", sans-serif' fill="#333" stroke="#333" stroke-width="0.25">80</text>
<line x1="29.50" y1="322.00" x2="31.10" y2="322.00" stroke="#333" stroke-width="0.7"/>
<text x="29.20" y="323.50" font-size="4.4" text-anchor="end" font-weight="normal" font-family='"Liberation Sans", sans-serif' fill="#333" stroke="#333" stroke-width="0.25">100</text>
<line x1="31.10" y1="369.80" x2="131.00" y2="369.80" stroke="#222" stroke-width="1.0"/>
<line x1="31.10" y1="369.80" x2="31.10" y2="371.40" stroke="#333" stroke-width="0.7"/>
<text x="31.10" y="378.80" font-size="7.0" text-anchor="middle" font-weight="normal" font-family='"Liberation Sans", sans-serif' fill="#222" stroke="#222" stroke-width="0.25">0</text>
<line x1="64.40" y1="369.80" x2="64.40" y2="371.40" stroke="#333" stroke-width="0.7"/>
<text x="64.40" y="378.80" font-size="7.0" text-anchor="middle" font-weight="normal" font-family='"Liberation Sans", sans-serif' fill="#222" stroke="#222" stroke-width="0.25">20</text>
<line x1="97.70" y1="369.80" x2="97.70" y2="371.40" stroke="#333" stroke-width="0.7"/>
<text x="97.70" y="378.80" font-size="7.0" text-anchor="middle" font-weight="normal" font-family='"Liberation Sans", sans-serif' fill="#222" stroke="#222" stroke-width="0.25">40</text>
<line x1="131.00" y1="369.80" x2="131.00" y2="371.40" stroke="#333" stroke-width="0.7"/>
<text x="131.00" y="378.80" font-size="7.0" text-anchor="middle" font-weight="normal" font-family='"Liberation Sans", sans-serif' fill="#222" stroke="#222" stroke-width="0.25">60</text>
<text x="136.40" y="378.80" font-size="7.0" text-anchor="start" font-weight="normal" font-family='"Liberation Sans", sans-serif' fill="#222" stroke="#222" stroke-width="0.25">hrs</text>
<text x="19.00" y="344.60" font-size="7.0" text-anchor="middle" font-weight="normal" font-family='"Liberation Sans", sans-serif' fill="#222" stroke="#222" stroke-width="0.25" transform="rotate(-90 19.0 344.6)">Fraction survival</text>
<polyline points="31.10,322.20 66.40,322.20 66.40,327.30 110.40,327.30 110.40,348.20 121.20,348.20 121.20,353.70 133.00,353.70" fill="none" stroke="#222" stroke-width="0.9"/>
<polyline points="31.10,322.40 76.80,322.40 76.80,327.70 88.40,327.70 88.40,333.80 107.40,333.80 107.40,345.80 115.30,345.80 115.30,364.40 133.00,364.40" fill="none" stroke="#b5524f" stroke-width="0.9"/>
<polyline points="31.10,322.20 66.40,322.20 66.40,327.70 67.20,327.70 67.20,332.70 76.20,332.70 76.20,337.60 78.70,337.60 78.70,340.60 79.50,340.60 79.50,344.50 80.50,344.50 80.50,348.40 106.80,348.40 106.80,364.60 133.00,364.60" fill="none" stroke="#4646c8" stroke-width="0.9"/>
<line x1="134.20" y1="353.30" x2="134.20" y2="364.10" stroke="#222" stroke-width="0.8"/>
<line x1="133.00" y1="353.30" x2="135.40" y2="353.30" stroke="#222" stroke-width="0.8"/>
<line x1="133.00" y1="364.10" x2="135.40" y2="364.10" stroke="#222" stroke-width="0.8"/>
<text x="136.40" y="361.00" font-size="5.7" text-anchor="start" font-weight="normal" font-family='"Liberation Sans", sans-serif' fill="#222" stroke="#222" stroke-width="0.25">P=0.0195</text>
<line x1="128.20" y1="325.90" x2="134.80" y2="325.90" stroke="#222" stroke-width="0.9"/>
<line x1="131.50" y1="325.00" x2="131.50" y2="326.80" stroke="#222" stroke-width="0.7"/>
<text x="136.60" y="328.40" font-size="6.8" text-anchor="start" font-weight="normal" font-family='"Liberation Sans", sans-serif' fill="#111" stroke="#111" stroke-width="0.25">WT</text>
<line x1="128.20" y1="333.90" x2="134.80" y2="333.90" stroke="#b5524f" stroke-width="0.9"/>
<line x1="131.50" y1="333.00" x2="131.50" y2="334.80" stroke="#b5524f" stroke-width="0.7"/>
<text x="136.60" y="336.40" font-size="6.8" text-anchor="start" font-weight="normal" font-family='"Liberation Sans", sans-serif' fill="#111" stroke="#111" stroke-width="0.25">Het</text>
<line x1="128.20" y1="341.90" x2="134.80" y2="341.90" stroke="#4646c8" stroke-width="0.9"/>
<line x1="131.50" y1="341.00" x2="131.50" y2="342.80" stroke="#4646c8" stroke-width="0.7"/>
<text x="136.60" y="344.40" font-size="6.8" text-anchor="start" font-weight="normal" font-family='"Liberation Sans", sans-serif' fill="#111" stroke="#111" stroke-width="0.25">KO</text>
<line x1="191.70" y1="142.30" x2="191.70" y2="196.40" stroke="#222" stroke-width="1.0"/>
<line x1="191.20" y1="196.40" x2="265.00" y2="196.40" stroke="#222" stroke-width="1.0"/>
<line x1="190.10" y1="196.60" x2="191.70" y2="196.60" stroke="#333" stroke-width="0.7"/>
<text x="190.00" y="198.40" font-size="5.2" text-anchor="end" font-weight="normal" font-family='"Liberation Sans", sans-serif' fill="#222" stroke="#222" stroke-width="0.25">0</text>
<line x1="190.10" y1="183.26" x2="191.70" y2="183.26" stroke="#333" stroke-width="0.7"/>
<text x="190.00" y="185.06" font-size="5.2" text-anchor="end" font-weight="normal" font-family='"Liberation Sans", sans-serif' fill="#222" stroke="#222" stroke-width="0.25">2</text>
<line x1="190.10" y1="169.92" x2="191.70" y2="169.92" stroke="#333" stroke-width="0.7"/>
<text x="190.00" y="171.72" font-size="5.2" text-anchor="end" font-weight="normal" font-family='"Liberation Sans", sans-serif' fill="#222" stroke="#222" stroke-width="0.25">4</text>
<line x1="190.10" y1="156.58" x2="191.70" y2="156.58" stroke="#333" stroke-width="0.7"/>
<text x="190.00" y="158.38" font-size="5.2" text-anchor="end" font-weight="normal" font-family='"Liberation Sans", sans-serif' fill="#222" stroke="#222" stroke-width="0.25">6</text>
<line x1="190.10" y1="143.24" x2="191.70" y2="143.24" stroke="#333" stroke-width="0.7"/>
<text x="190.00" y="145.04" font-size="5.2" text-anchor="end" font-weight="normal" font-family='"Liberation Sans", sans-serif' fill="#222" stroke="#222" stroke-width="0.25">8</text>
<text x="226.80" y="127.60" font-size="8.2" text-anchor="middle" font-weight="normal" font-family='"Liberation Sans", sans-serif' fill="#111" stroke="#111" stroke-width="0.25">Neutrophils</text>
<text x="182.20" y="169.40" font-size="8.2" text-anchor="middle" font-weight="normal" font-family='"Liberation Sans", sans-serif' fill="#111" stroke="#111" stroke-width="0.25" transform="rotate(-90 182.2 169.4)">K/&#956;L</text>
<line x1="205.20" y1="196.40" x2="205.20" y2="197.90" stroke="#333" stroke-width="0.7"/>
<text x="205.20" y="205.70" font-size="7.6" text-anchor="middle" font-weight="normal" font-family='"Liberation Sans", sans-serif' fill="#111" stroke="#111" stroke-width="0.25">WT</text>
<line x1="196.70" y1="170.40" x2="213.70" y2="170.40" stroke="#222" stroke-width="0.9"/>
<line x1="200.40" y1="168.80" x2="210.00" y2="168.80" stroke="#222" stroke-width="0.9"/>
<line x1="200.40" y1="172.00" x2="210.00" y2="172.00" stroke="#222" stroke-width="0.9"/>
<line x1="205.20" y1="168.80" x2="205.20" y2="172.00" stroke="#222" stroke-width="0.9"/>
<circle cx="201.60" cy="166.80" r="1.3" fill="#111"/>
<circle cx="207.60" cy="166.80" r="1.3" fill="#111"/>
<circle cx="203.70" cy="169.10" r="1.3" fill="#111"/>
<circle cx="206.50" cy="170.50" r="1.3" fill="#111"/>
<circle cx="206.30" cy="173.10" r="1.3" fill="#111"/>
<circle cx="204.80" cy="177.00" r="1.3" fill="#111"/>
<line x1="231.20" y1="196.40" x2="231.20" y2="197.90" stroke="#333" stroke-width="0.7"/>
<text x="231.20" y="205.70" font-size="7.6" text-anchor="middle" font-weight="normal" font-family='"Liberation Sans", sans-serif' fill="#111" stroke="#111" stroke-width="0.25">Het</text>
<line x1="222.50" y1="172.30" x2="239.90" y2="172.30" stroke="#222" stroke-width="0.9"/>
<line x1="226.40" y1="166.50" x2="236.00" y2="166.50" stroke="#222" stroke-width="0.9"/>
<line x1="226.40" y1="177.50" x2="236.00" y2="177.50" stroke="#222" stroke-width="0.9"/>
<line x1="231.20" y1="166.50" x2="231.20" y2="177.50" stroke="#222" stroke-width="0.9"/>
<circle cx="230.90" cy="148.20" r="1.3" fill="#111"/>
<circle cx="230.90" cy="167.30" r="1.3" fill="#111"/>
<circle cx="230.90" cy="172.30" r="1.3" fill="#111"/>
<circle cx="232.80" cy="181.30" r="1.3" fill="#111"/>
<circle cx="229.30" cy="184.10" r="1.3" fill="#111"/>
<circle cx="231.50" cy="179.50" r="1.3" fill="#111"/>
<line x1="257.70" y1="196.40" x2="257.70" y2="197.90" stroke="#333" stroke-width="0.7"/>
<text x="257.70" y="205.70" font-size="7.6" text-anchor="middle" font-weight="normal" font-family='"Liberation Sans", sans-serif' fill="#111" stroke="#111" stroke-width="0.25">KO</text>
<line x1="248.70" y1="183.30" x2="266.70" y2="183.30" stroke="#222" stroke-width="0.9"/>
<line x1="252.90" y1="180.60" x2="262.50" y2="180.60" stroke="#222" stroke-width="0.9"/>
<line x1="252.90" y1="186.50" x2="262.50" y2="186.50" stroke="#222" stroke-width="0.9"/>
<line x1="257.70" y1="180.60" x2="257.70" y2="186.50" stroke="#222" stroke-width="0.9"/>
<polygon points="257.70,171.60 259.20,174.30 256.20,174.30" fill="#111"/>
<polygon points="257.70,176.30 259.20,179.00 256.20,179.00" fill="#111"/>
<circle cx="257.20" cy="184.90" r="1.3" fill="#111"/>
<polygon points="259.30,188.10 260.80,190.80 257.80,190.80" fill="#111"/>
<polygon points="256.10,191.30 257.60,194.00 254.60,194.00" fill="#111"/>
<line x1="204.50" y1="140.10" x2="257.70" y2="140.10" stroke="#222" stroke-width="0.9"/>
<line x1="204.50" y1="140.10" x2="204.50" y2="150.20" stroke="#222" stroke-width="0.9"/>
<line x1="257.70" y1="140.10" x2="257.70" y2="160.20" stroke="#222" stroke-width="0.9"/>
<text x="230.30" y="138.60" font-size="6.1" text-anchor="middle" font-weight="normal" font-family='"Liberation Sans", sans-serif' fill="#222" stroke="#222" stroke-width="0.25">P=0.0036</text>
<line x1="294.90" y1="139.80" x2="294.90" y2="196.40" stroke="#222" stroke-width="1.0"/>
<line x1="294.40" y1="196.40" x2="379.00" y2="196.40" stroke="#222" stroke-width="1.0"/>
<line x1="293.30" y1="196.60" x2="294.90" y2="196.60" stroke="#333" stroke-width="0.7"/>
<text x="293.00" y="198.40" font-size="5.2" text-anchor="end" font-weight="normal" font-family='"Liberation Sans", sans-serif' fill="#222" stroke="#222" stroke-width="0.25">8</text>
<line x1="293.30" y1="182.50" x2="294.90" y2="182.50" stroke="#333" stroke-width="0.7"/>
<text x="293.00" y="184.30" font-size="5.2" text-anchor="end" font-weight="normal" font-family='"Liberation Sans", sans-serif' fill="#222" stroke="#222" stroke-width="0.25">9</text>
<line x1="293.30" y1="168.40" x2="294.90" y2="168.40" stroke="#333" stroke-width="0.7"/>
<text x="293.00" y="170.20" font-size="5.2" text-anchor="end" font-weight="normal" font-family='"Liberation Sans", sans-serif' fill="#222" stroke="#222" stroke-width="0.25">10</text>
<line x1="293.30" y1="154.30" x2="294.90" y2="154.30" stroke="#333" stroke-width="0.7"/>
<text x="293.00" y="156.10" font-size="5.2" text-anchor="end" font-weight="normal" font-family='"Liberation Sans", sans-serif' fill="#222" stroke="#222" stroke-width="0.25">11</text>
<line x1="293.30" y1="140.20" x2="294.90" y2="140.20" stroke="#333" stroke-width="0.7"/>
<text x="293.00" y="142.00" font-size="5.2" text-anchor="end" font-weight="normal" font-family='"Liberation Sans", sans-serif' fill="#222" stroke="#222" stroke-width="0.25">12</text>
<text x="338.85" y="134.60" font-size="8.2" text-anchor="middle" font-weight="normal" font-family='"Liberation Sans", sans-serif' fill="#111" stroke="#111" stroke-width="0.25">Red Blood Cells</text>
<text x="283.20" y="168.80" font-size="8.2" text-anchor="middle" font-weight="normal" font-family='"Liberation Sans", sans-serif' fill="#111" stroke="#111" stroke-width="0.25" transform="rotate(-90 283.2 168.8)">M/&#956;L</text>
<line x1="309.90" y1="196.40" x2="309.90" y2="197.90" stroke="#333" stroke-width="0.7"/>
<text x="309.90" y="205.70" font-size="7.6" text-anchor="middle" font-weight="normal" font-family='"Liberation Sans", sans-serif' fill="#111" stroke="#111" stroke-width="0.25">WT</text>
<line x1="300.50" y1="169.10" x2="319.30" y2="169.10" stroke="#222" stroke-width="0.9"/>
<line x1="305.10" y1="165.80" x2="314.70" y2="165.80" stroke="#222" stroke-width="0.9"/>
<line x1="305.10" y1="172.40" x2="314.70" y2="172.40" stroke="#222" stroke-width="0.9"/>
<line x1="309.90" y1="165.80" x2="309.90" y2="172.40" stroke="#222" stroke-width="0.9"/>
<circle cx="310.00" cy="156.70" r="1.3" fill="#111"/>
<circle cx="310.00" cy="163.70" r="1.3" fill="#111"/>
<circle cx="308.90" cy="169.40" r="1.3" fill="#111"/>
<circle cx="311.50" cy="170.60" r="1.3" fill="#111"/>
<circle cx="311.30" cy="175.10" r="1.3" fill="#111"/>
<circle cx="308.10" cy="178.40" r="1.3" fill="#111"/>
<line x1="337.80" y1="196.40" x2="337.80" y2="197.90" stroke="#333" stroke-width="0.7"/>
<text x="337.80" y="205.70" font-size="7.6" text-anchor="middle" font-weight="normal" font-family='"Liberation Sans", sans-serif' fill="#111" stroke="#111" stroke-width="0.25">Het</text>
<line x1="328.40" y1="174.80" x2="347.20" y2="174.80" stroke="#222" stroke-width="0.9"/>
<line x1="333.00" y1="171.40" x2="342.60" y2="171.40" stroke="#222" stroke-width="0.9"/>
<line x1="333.00" y1="177.90" x2="342.60" y2="177.90" stroke="#222" stroke-width="0.9"/>
<line x1="337.80" y1="171.40" x2="337.80" y2="177.90" stroke="#222" stroke-width="0.9"/>
<circle cx="337.80" cy="162.10" r="1.3" fill="#111"/>
<circle cx="337.80" cy="171.10" r="1.3" fill="#111"/>
<circle cx="336.70" cy="175.60" r="1.3" fill="#111"/>
<circle cx="339.00" cy="175.60" r="1.3" fill="#111"/>
<circle cx="337.80" cy="179.20" r="1.3" fill="#111"/>
<circle cx="337.80" cy="184.50" r="1.3" fill="#111"/>
<line x1="365.70" y1="196.40" x2="365.70" y2="197.90" stroke="#333" stroke-width="0.7"/>
<text x="365.70" y="205.70" font-size="7.6" text-anchor="middle" font-weight="normal" font-family='"Liberation Sans", sans-serif' fill="#111" stroke="#111" stroke-width="0.25">KO</text>
<line x1="356.30" y1="171.10" x2="375.10" y2="171.10" stroke="#222" stroke-width="0.9"/>
<line x1="360.90" y1="169.10" x2="370.50" y2="169.10" stroke="#222" stroke-width="0.9"/>
<line x1="360.90" y1="173.20" x2="370.50" y2="173.20" stroke="#222" stroke-width="0.9"/>
<line x1="365.70" y1="169.10" x2="365.70" y2="173.20" stroke="#222" stroke-width="0.9"/>
<polygon points="365.60,163.00 367.10,165.70 364.10,165.70" fill="#111"/>
<circle cx="362.80" cy="169.90" r="1.3" fill="#111"/>
<circle cx="368.90" cy="169.10" r="1.3" fill="#111"/>
<polygon points="363.60,175.80 365.10,178.50 362.10,178.50" fill="#111"/>
<polygon points="367.20,175.80 368.70,178.50 365.70,178.50" fill="#111"/>
<line x1="415.60" y1="137.50" x2="415.60" y2="195.30" stroke="#222" stroke-width="1.0"/>
<line x1="415.10" y1="195.30" x2="503.00" y2="195.30" stroke="#222" stroke-width="1.0"/>
<line x1="414.00" y1="195.30" x2="415.60" y2="195.30" stroke="#333" stroke-width="0.7"/>
<text x="413.50" y="197.10" font-size="5.2" text-anchor="end" font-weight="normal" font-family='"Liberation Sans", sans-serif' fill="#222" stroke="#222" stroke-width="0.25">0</text>
<line x1="414.00" y1="176.00" x2="415.60" y2="176.00" stroke="#333" stroke-width="0.7"/>
<text x="413.50" y="177.80" font-size="5.2" text-anchor="end" font-weight="normal" font-family='"Liberation Sans", sans-serif' fill="#222" stroke="#222" stroke-width="0.25">500</text>
<line x1="414.00" y1="156.70" x2="415.60" y2="156.70" stroke="#333" stroke-width="0.7"/>
<text x="413.50" y="158.50" font-size="5.2" text-anchor="end" font-weight="normal" font-family='"Liberation Sans", sans-serif' fill="#222" stroke="#222" stroke-width="0.25">1000</text>
<line x1="414.00" y1="137.40" x2="415.60" y2="137.40" stroke="#333" stroke-width="0.7"/>
<text x="413.50" y="139.20" font-size="5.2" text-anchor="end" font-weight="normal" font-family='"Liberation Sans", sans-serif' fill="#222" stroke="#222" stroke-width="0.25">1500</text>
<text x="455.25" y="126.20" font-size="8.2" text-anchor="middle" font-weight="normal" font-family='"Liberation Sans", sans-serif' fill="#111" stroke="#111" stroke-width="0.25">Platelets</text>
<text x="395.20" y="164.60" font-size="8.2" text-anchor="middle" font-weight="normal" font-family='"Liberation Sans", sans-serif' fill="#111" stroke="#111" stroke-width="0.25" transform="rotate(-90 395.2 164.6)">K/&#956;L</text>
<line x1="430.00" y1="195.30" x2="430.00" y2="196.80" stroke="#333" stroke-width="0.7"/>
<text x="430.00" y="205.70" font-size="7.6" text-anchor="middle" font-weight="normal" font-family='"Liberation Sans", sans-serif' fill="#111" stroke="#111" stroke-width="0.25">WT</text>
<line x1="420.50" y1="162.20" x2="439.50" y2="162.20" stroke="#222" stroke-width="0.9"/>
<line x1="425.20" y1="160.40" x2="434.80" y2="160.40" stroke="#222" stroke-width="0.9"/>
<line x1="425.20" y1="164.10" x2="434.80" y2="164.10" stroke="#222" stroke-width="0.9"/>
<line x1="430.00" y1="160.40" x2="430.00" y2="164.10" stroke="#222" stroke-width="0.9"/>
<circle cx="432.20" cy="155.40" r="1.3" fill="#111"/>
<circle cx="428.70" cy="158.00" r="1.3" fill="#111"/>
<circle cx="430.50" cy="161.50" r="1.3" fill="#111"/>
<circle cx="433.00" cy="162.50" r="1.3" fill="#111"/>
<circle cx="428.70" cy="167.50" r="1.3" fill="#111"/>
<circle cx="432.20" cy="167.00" r="1.3" fill="#111"/>
<line x1="459.30" y1="195.30" x2="459.30" y2="196.80" stroke="#333" stroke-width="0.7"/>
<text x="459.30" y="205.70" font-size="7.6" text-anchor="middle" font-weight="normal" font-family='"Liberation Sans", sans-serif' fill="#111" stroke="#111" stroke-width="0.25">Het</text>
<line x1="449.40" y1="165.30" x2="469.20" y2="165.30" stroke="#222" stroke-width="0.9"/>
<line x1="454.50" y1="161.80" x2="464.10" y2="161.80" stroke="#222" stroke-width="0.9"/>
<line x1="454.50" y1="168.70" x2="464.10" y2="168.70" stroke="#222" stroke-width="0.9"/>
<line x1="459.30" y1="161.80" x2="459.30" y2="168.70" stroke="#222" stroke-width="0.9"/>
<circle cx="459.30" cy="154.40" r="1.3" fill="#111"/>
<circle cx="459.30" cy="160.10" r="1.3" fill="#111"/>
<circle cx="458.00" cy="164.50" r="1.3" fill="#111"/>
<circle cx="460.50" cy="164.50" r="1.3" fill="#111"/>
<circle cx="459.30" cy="170.50" r="1.3" fill="#111"/>
<circle cx="459.30" cy="180.30" r="1.3" fill="#111"/>
<line x1="488.80" y1="195.30" x2="488.80" y2="196.80" stroke="#333" stroke-width="0.7"/>
<text x="488.80" y="205.70" font-size="7.6" text-anchor="middle" font-weight="normal" font-family='"Liberation Sans", sans-serif' fill="#111" stroke="#111" stroke-width="0.25">KO</text>
<line x1="478.90" y1="176.20" x2="498.70" y2="176.20" stroke="#222" stroke-width="0.9"/>
<line x1="484.00" y1="171.70" x2="493.60" y2="171.70" stroke="#222" stroke-width="0.9"/>
<line x1="484.00" y1="180.30" x2="493.60" y2="180.30" stroke="#222" stroke-width="0.9"/>
<line x1="488.80" y1="171.70" x2="488.80" y2="180.30" stroke="#222" stroke-width="0.9"/>
<polygon points="490.10,163.30 491.60,166.00 488.60,166.00" fill="#111"/>
<polygon points="487.00,166.00 488.50,168.70 485.50,168.70" fill="#111"/>
<polygon points="489.00,174.50 490.50,177.20 487.50,177.20" fill="#111"/>
<polygon points="488.80,182.80 490.30,185.50 487.30,185.50" fill="#111"/>
<polygon points="488.80,189.20 490.30,191.90 487.30,191.90" fill="#111"/>
<line x1="428.70" y1="139.80" x2="486.70" y2="139.80" stroke="#222" stroke-width="0.9"/>
<line x1="428.70" y1="139.80" x2="428.70" y2="149.70" stroke="#222" stroke-width="0.9"/>
<line x1="486.70" y1="139.80" x2="486.70" y2="153.70" stroke="#222" stroke-width="0.9"/>
<text x="458.00" y="137.60" font-size="6.1" text-anchor="middle" font-weight="normal" font-family='"Liberation Sans", sans-serif' fill="#222" stroke="#222" stroke-width="0.25">P=0.0122</text>
<text x="249.60" y="230.60" font-size="11" text-anchor="middle" font-weight="normal" font-family='"Liberation Serif", serif' fill="#111" stroke="#111" stroke-width="0.25">WT</text>
<text x="347.60" y="230.60" font-size="11" text-anchor="middle" font-weight="normal" font-family='"Liberation Serif", serif' fill="#111" stroke="#111" stroke-width="0.25">Het</text>
<text x="449.30" y="230.60" font-size="11" text-anchor="middle" font-weight="normal" font-family='"Liberation Serif", serif' fill="#111" stroke="#111" stroke-width="0.25">KO</text>
<text x="193.20" y="270.40" font-size="11.2" text-anchor="middle" font-weight="normal" font-family='"Liberation Serif", serif' fill="#111" stroke="#111" stroke-width="0.25" transform="rotate(-90 193.2 270.4)">BM Smear</text>
<text x="192.00" y="344.20" font-size="11.2" text-anchor="middle" font-weight="normal" font-family='"Liberation Serif", serif' fill="#111" stroke="#111" stroke-width="0.25" transform="rotate(-90 192.0 344.2)">BM H&amp;E</text>
<defs>
<clipPath id="cs0"><rect x="201.0" y="233.3" width="95.19999999999999" height="71.5"/></clipPath>
<clipPath id="cs1"><rect x="301.0" y="233.3" width="95.5" height="71.5"/></clipPath>
<clipPath id="cs2"><rect x="400.2" y="233.3" width="95.80000000000001" height="71.5"/></clipPath>
<clipPath id="ch0"><rect x="201.0" y="307.2" width="95.80000000000001" height="72.60000000000002"/></clipPath>
<clipPath id="ch1"><rect x="300.4" y="307.2" width="96.30000000000001" height="72.60000000000002"/></clipPath>
<clipPath id="ch2"><rect x="399.9" y="307.2" width="95.90000000000003" height="72.60000000000002"/></clipPath>
<filter id="he" x="0" y="0" width="100%" height="100%"><feGaussianBlur stdDeviation="0.7"/></filter>
<filter id="he2" x="-20%" y="-20%" width="140%" height="140%"><feGaussianBlur stdDeviation="1.4"/></filter>
<filter id="sm" x="-10%" y="-10%" width="120%" height="120%"><feGaussianBlur stdDeviation="0.6"/></filter>
<radialGradient id="kog"><stop offset="0" stop-color="#a07ad8"/><stop offset="0.75" stop-color="#8a5cce"/><stop offset="1" stop-color="#6a34b8"/></radialGradient>
</defs>
<rect x="201.00" y="233.30" width="95.20" height="71.50" fill="#ebebeb"/>
<rect x="301.00" y="233.30" width="95.50" height="71.50" fill="#ebebeb"/>
<rect x="400.20" y="233.30" width="95.80" height="71.50" fill="#ebebeb"/>
<g clip-path="url(#cs0)"><g filter="url(#sm)">
<ellipse cx="246" cy="272" rx="32" ry="17" fill="#efedf1" opacity="0.8"/>
<ellipse cx="233" cy="266" rx="7.5" ry="8.5" fill="#dccdea" opacity="0.7"/>
<ellipse cx="224" cy="275.5" rx="8" ry="7.5" fill="#dccdea" opacity="0.7"/>
<ellipse cx="271" cy="268" rx="7" ry="8.5" fill="#dccdea" opacity="0.7"/>
<ellipse cx="253" cy="276" rx="9" ry="11" fill="#dccdea" opacity="0.7"/>
<ellipse cx="222.7" cy="251.5" rx="6.60" ry="6.60" fill="#cbb2e8" transform="rotate(0 222.7 251.5)"/>
<ellipse cx="222.7" cy="251.5" rx="4.8" ry="4.8" fill="#5716a8" transform="rotate(0 222.7 251.5)"/>
<circle cx="220.79" cy="249.64" r="1.26" fill="#2e0878" opacity="0.55"/>
<circle cx="222.49" cy="248.19" r="1.19" fill="#3e0a8a" opacity="0.55"/>
<circle cx="222.85" cy="250.62" r="1.23" fill="#3e0a8a" opacity="0.55"/>
<circle cx="223.98" cy="252.60" r="0.87" fill="#3e0a8a" opacity="0.55"/>
<circle cx="223.42" cy="252.04" r="0.75" fill="#2e0878" opacity="0.55"/>
<circle cx="222.09" cy="254.74" r="0.71" fill="#7446c4" opacity="0.55"/>
<circle cx="222.85" cy="251.02" r="0.91" fill="#2e0878" opacity="0.55"/>
<ellipse cx="231.8" cy="263.5" rx="5.40" ry="5.40" fill="#cbb2e8" transform="rotate(0 231.8 263.5)"/>
<ellipse cx="231.8" cy="263.5" rx="3.6" ry="3.6" fill="#5a18aa" transform="rotate(0 231.8 263.5)"/>
<circle cx="233.57" cy="265.44" r="0.75" fill="#3e0a8a" opacity="0.55"/>
<circle cx="232.37" cy="266.09" r="0.80" fill="#3e0a8a" opacity="0.55"/>
<circle cx="233.21" cy="263.15" r="1.04" fill="#2e0878" opacity="0.55"/>
<circle cx="232.89" cy="265.88" r="1.28" fill="#3e0a8a" opacity="0.55"/>
<circle cx="232.43" cy="263.00" r="0.89" fill="#7446c4" opacity="0.55"/>
<ellipse cx="233.2" cy="268.5" rx="5.60" ry="5.60" fill="#cbb2e8" transform="rotate(0 233.2 268.5)"/>
<ellipse cx="233.2" cy="268.5" rx="3.8" ry="3.8" fill="#5a18aa" transform="rotate(0 233.2 268.5)"/>
<circle cx="233.89" cy="268.20" r="0.81" fill="#7446c4" opacity="0.55"/>
<circle cx="233.19" cy="268.49" r="1.10" fill="#2e0878" opacity="0.55"/>
<circle cx="234.13" cy="268.91" r="0.94" fill="#7446c4" opacity="0.55"/>
<circle cx="232.65" cy="269.76" r="0.72" fill="#2e0878" opacity="0.55"/>
<circle cx="233.10" cy="271.17" r="0.85" fill="#2e0878" opacity="0.55"/>
<ellipse cx="223.7" cy="275.4" rx="7.60" ry="7.00" fill="#cbb2e8" transform="rotate(0 223.7 275.4)"/>
<ellipse cx="223.7" cy="275.4" rx="5.8" ry="5.2" fill="#5716a8" transform="rotate(0 223.7 275.4)"/>
<circle cx="221.73" cy="276.61" r="0.86" fill="#7446c4" opacity="0.55"/>
<circle cx="223.67" cy="275.38" r="1.10" fill="#3e0a8a" opacity="0.55"/>
<circle cx="220.74" cy="272.79" r="1.13" fill="#3e0a8a" opacity="0.55"/>
<circle cx="227.40" cy="273.83" r="0.96" fill="#7446c4" opacity="0.55"/>
<circle cx="224.55" cy="274.79" r="0.68" fill="#7446c4" opacity="0.55"/>
<circle cx="223.66" cy="272.29" r="0.63" fill="#7446c4" opacity="0.55"/>
<circle cx="224.07" cy="275.28" r="0.96" fill="#7446c4" opacity="0.55"/>
<circle cx="223.28" cy="275.84" r="1.25" fill="#7446c4" opacity="0.55"/>
<circle cx="222.40" cy="275.06" r="0.81" fill="#7446c4" opacity="0.55"/>
<circle cx="224.0" cy="275.79999999999995" r="1.6" fill="#a07ad8"/>
<ellipse cx="250.4" cy="272.5" rx="7.40" ry="6.80" fill="#cbb2e8" transform="rotate(0 250.4 272.5)"/>
<ellipse cx="250.4" cy="272.5" rx="5.6" ry="5.0" fill="#5716a8" transform="rotate(0 250.4 272.5)"/>
<circle cx="251.19" cy="270.26" r="1.08" fill="#2e0878" opacity="0.55"/>
<circle cx="251.08" cy="272.49" r="0.66" fill="#3e0a8a" opacity="0.55"/>
<circle cx="247.27" cy="270.45" r="0.77" fill="#3e0a8a" opacity="0.55"/>
<circle cx="247.52" cy="270.78" r="1.06" fill="#7446c4" opacity="0.55"/>
<circle cx="252.91" cy="275.41" r="0.62" fill="#2e0878" opacity="0.55"/>
<circle cx="246.88" cy="272.63" r="1.29" fill="#3e0a8a" opacity="0.55"/>
<circle cx="249.89" cy="272.31" r="0.67" fill="#7446c4" opacity="0.55"/>
<circle cx="249.83" cy="272.72" r="0.81" fill="#7446c4" opacity="0.55"/>
<circle cx="246.38" cy="273.59" r="1.28" fill="#3e0a8a" opacity="0.55"/>
<ellipse cx="257.6" cy="281.8" rx="7.20" ry="6.60" fill="#cbb2e8" transform="rotate(0 257.6 281.8)"/>
<ellipse cx="257.6" cy="281.8" rx="5.4" ry="4.8" fill="#5716a8" transform="rotate(0 257.6 281.8)"/>
<circle cx="255.71" cy="282.31" r="0.82" fill="#2e0878" opacity="0.55"/>
<circle cx="257.31" cy="283.47" r="0.68" fill="#3e0a8a" opacity="0.55"/>
<circle cx="258.54" cy="280.08" r="1.04" fill="#3e0a8a" opacity="0.55"/>
<circle cx="256.23" cy="281.81" r="0.94" fill="#3e0a8a" opacity="0.55"/>
<circle cx="255.39" cy="281.61" r="0.85" fill="#2e0878" opacity="0.55"/>
<circle cx="258.30" cy="279.08" r="1.01" fill="#2e0878" opacity="0.55"/>
<circle cx="258.81" cy="282.04" r="1.09" fill="#2e0878" opacity="0.55"/>
<circle cx="257.22" cy="283.52" r="1.10" fill="#2e0878" opacity="0.55"/>
<ellipse cx="269.8" cy="265.5" rx="5.30" ry="5.30" fill="#cbb2e8" transform="rotate(0 269.8 265.5)"/>
<ellipse cx="269.8" cy="265.5" rx="3.5" ry="3.5" fill="#5e1eae" transform="rotate(0 269.8 265.5)"/>
<circle cx="270.66" cy="265.26" r="1.01" fill="#3e0a8a" opacity="0.55"/>
<circle cx="271.23" cy="265.60" r="0.83" fill="#7446c4" opacity="0.55"/>
<circle cx="269.69" cy="266.25" r="1.05" fill="#2e0878" opacity="0.55"/>
<circle cx="270.07" cy="264.63" r="0.84" fill="#2e0878" opacity="0.55"/>
<circle cx="270.79" cy="265.09" r="1.21" fill="#3e0a8a" opacity="0.55"/>
<ellipse cx="271.2" cy="271.2" rx="5.40" ry="5.40" fill="#cbb2e8" transform="rotate(0 271.2 271.2)"/>
<ellipse cx="271.2" cy="271.2" rx="3.6" ry="3.6" fill="#5e1eae" transform="rotate(0 271.2 271.2)"/>
<circle cx="270.20" cy="268.76" r="0.96" fill="#7446c4" opacity="0.55"/>
<circle cx="270.76" cy="271.12" r="1.26" fill="#7446c4" opacity="0.55"/>
<circle cx="269.35" cy="271.47" r="1.07" fill="#2e0878" opacity="0.55"/>
<circle cx="269.76" cy="272.03" r="0.96" fill="#2e0878" opacity="0.55"/>
<circle cx="271.95" cy="270.88" r="1.14" fill="#2e0878" opacity="0.55"/>
<ellipse cx="228.5" cy="293" rx="3" ry="3.5" fill="#bdb8c8" opacity="0.8"/>
</g></g>
<g clip-path="url(#cs1)"><g filter="url(#sm)">
<ellipse cx="318.8" cy="276" rx="10.5" ry="12" fill="#ddd0ea"/>
<ellipse cx="371" cy="282" rx="18" ry="15" fill="#e2d6ec"/>
<ellipse cx="355.8" cy="259.9" rx="9.80" ry="9.40" fill="#c0a0e0" transform="rotate(0 355.8 259.9)"/>
<ellipse cx="355.8" cy="259.9" rx="8.0" ry="7.6" fill="#5e2cb4" transform="rotate(0 355.8 259.9)"/>
<circle cx="352.98" cy="256.79" r="0.74" fill="#3e0a8a" opacity="0.55"/>
<circle cx="352.59" cy="258.06" r="0.75" fill="#3e0a8a" opacity="0.55"/>
<circle cx="354.32" cy="256.59" r="1.29" fill="#3e0a8a" opacity="0.55"/>
<circle cx="356.79" cy="259.78" r="0.68" fill="#3e0a8a" opacity="0.55"/>
<circle cx="358.64" cy="259.35" r="0.62" fill="#2e0878" opacity="0.55"/>
<circle cx="353.57" cy="260.37" r="0.65" fill="#2e0878" opacity="0.55"/>
<circle cx="357.02" cy="263.83" r="0.60" fill="#7446c4" opacity="0.55"/>
<circle cx="354.42" cy="260.79" r="1.21" fill="#7446c4" opacity="0.55"/>
<circle cx="354.57" cy="257.01" r="0.98" fill="#3e0a8a" opacity="0.55"/>
<circle cx="355.24" cy="261.50" r="0.84" fill="#2e0878" opacity="0.55"/>
<circle cx="350.78" cy="257.24" r="0.89" fill="#3e0a8a" opacity="0.55"/>
<circle cx="357.29" cy="256.52" r="0.93" fill="#7446c4" opacity="0.55"/>
<circle cx="357.07" cy="261.72" r="1.27" fill="#7446c4" opacity="0.55"/>
<circle cx="359.38" cy="259.21" r="1.17" fill="#7446c4" opacity="0.55"/>
<circle cx="354.59" cy="258.05" r="1.00" fill="#7446c4" opacity="0.55"/>
<circle cx="355.17" cy="259.37" r="1.21" fill="#2e0878" opacity="0.55"/>
<circle cx="353.43" cy="258.94" r="0.95" fill="#3e0a8a" opacity="0.55"/>
<ellipse cx="346.3" cy="274.6" rx="11.40" ry="10.80" fill="#b898dc" transform="rotate(0 346.3 274.6)"/>
<ellipse cx="346.3" cy="274.6" rx="9.6" ry="9.0" fill="#501ca4" transform="rotate(0 346.3 274.6)"/>
<circle cx="341.24" cy="275.21" r="1.27" fill="#7446c4" opacity="0.55"/>
<circle cx="349.97" cy="272.53" r="1.12" fill="#7446c4" opacity="0.55"/>
<circle cx="345.73" cy="276.21" r="0.82" fill="#3e0a8a" opacity="0.55"/>
<circle cx="349.82" cy="274.27" r="0.70" fill="#7446c4" opacity="0.55"/>
<circle cx="351.00" cy="275.26" r="0.77" fill="#7446c4" opacity="0.55"/>
<circle cx="347.25" cy="274.83" r="0.61" fill="#7446c4" opacity="0.55"/>
<circle cx="344.37" cy="274.22" r="1.15" fill="#7446c4" opacity="0.55"/>
<circle cx="346.35" cy="276.41" r="1.11" fill="#3e0a8a" opacity="0.55"/>
<circle cx="345.51" cy="277.84" r="0.96" fill="#7446c4" opacity="0.55"/>
<circle cx="350.45" cy="270.10" r="0.61" fill="#3e0a8a" opacity="0.55"/>
<circle cx="347.73" cy="275.96" r="0.84" fill="#2e0878" opacity="0.55"/>
<circle cx="345.19" cy="278.02" r="0.84" fill="#7446c4" opacity="0.55"/>
<circle cx="343.87" cy="269.61" r="0.63" fill="#3e0a8a" opacity="0.55"/>
<circle cx="346.25" cy="277.68" r="1.22" fill="#3e0a8a" opacity="0.55"/>
<circle cx="346.20" cy="274.57" r="1.02" fill="#7446c4" opacity="0.55"/>
<circle cx="343.73" cy="268.63" r="0.94" fill="#2e0878" opacity="0.55"/>
<circle cx="348.66" cy="273.23" r="1.08" fill="#7446c4" opacity="0.55"/>
<circle cx="345.07" cy="268.64" r="1.18" fill="#7446c4" opacity="0.55"/>
<circle cx="351.81" cy="276.88" r="1.15" fill="#2e0878" opacity="0.55"/>
<circle cx="342.24" cy="272.44" r="1.24" fill="#7446c4" opacity="0.55"/>
<circle cx="348.45" cy="277.12" r="1.22" fill="#2e0878" opacity="0.55"/>
<circle cx="350.12" cy="273.98" r="1.01" fill="#7446c4" opacity="0.55"/>
<circle cx="346.49" cy="274.17" r="0.79" fill="#3e0a8a" opacity="0.55"/>
<ellipse cx="319.4" cy="271.0" rx="7.80" ry="6.60" fill="#cbb2e8" transform="rotate(0 319.4 271.0)"/>
<ellipse cx="319.4" cy="271.0" rx="6.0" ry="4.8" fill="#5e22ae" transform="rotate(0 319.4 271.0)"/>
<circle cx="319.64" cy="271.12" r="0.83" fill="#3e0a8a" opacity="0.55"/>
<circle cx="319.12" cy="271.11" r="1.09" fill="#7446c4" opacity="0.55"/>
<circle cx="323.01" cy="271.92" r="1.03" fill="#3e0a8a" opacity="0.55"/>
<circle cx="319.63" cy="270.64" r="1.30" fill="#3e0a8a" opacity="0.55"/>
<circle cx="318.86" cy="269.48" r="1.03" fill="#3e0a8a" opacity="0.55"/>
<circle cx="318.78" cy="271.30" r="0.75" fill="#2e0878" opacity="0.55"/>
<circle cx="316.61" cy="270.19" r="0.65" fill="#2e0878" opacity="0.55"/>
<circle cx="321.82" cy="271.73" r="0.88" fill="#2e0878" opacity="0.55"/>
<circle cx="319.37" cy="270.97" r="0.82" fill="#3e0a8a" opacity="0.55"/>
<ellipse cx="318.6" cy="280.5" rx="8.20" ry="6.80" fill="#cbb2e8" transform="rotate(0 318.6 280.5)"/>
<ellipse cx="318.6" cy="280.5" rx="6.4" ry="5.0" fill="#5e22ae" transform="rotate(0 318.6 280.5)"/>
<circle cx="316.70" cy="279.42" r="0.86" fill="#2e0878" opacity="0.55"/>
<circle cx="321.74" cy="281.40" r="1.00" fill="#3e0a8a" opacity="0.55"/>
<circle cx="317.99" cy="279.52" r="0.98" fill="#2e0878" opacity="0.55"/>
<circle cx="318.66" cy="280.73" r="0.78" fill="#3e0a8a" opacity="0.55"/>
<circle cx="318.61" cy="278.56" r="1.17" fill="#3e0a8a" opacity="0.55"/>
<circle cx="320.02" cy="279.21" r="0.73" fill="#7446c4" opacity="0.55"/>
<circle cx="317.88" cy="278.11" r="1.00" fill="#3e0a8a" opacity="0.55"/>
<circle cx="322.64" cy="281.23" r="1.02" fill="#2e0878" opacity="0.55"/>
<circle cx="318.90" cy="283.78" r="1.27" fill="#7446c4" opacity="0.55"/>
<circle cx="320.59" cy="281.75" r="1.11" fill="#2e0878" opacity="0.55"/>
<ellipse cx="366.2" cy="273.8" rx="7.20" ry="7.20" fill="#cbb2e8" transform="rotate(0 366.2 273.8)"/>
<ellipse cx="366.2" cy="273.8" rx="5.4" ry="5.4" fill="#5a1eaa" transform="rotate(0 366.2 273.8)"/>
<circle cx="366.78" cy="274.00" r="1.08" fill="#7446c4" opacity="0.55"/>
<circle cx="366.28" cy="274.26" r="0.94" fill="#2e0878" opacity="0.55"/>
<circle cx="366.88" cy="276.56" r="0.85" fill="#7446c4" opacity="0.55"/>
<circle cx="366.33" cy="275.14" r="1.09" fill="#2e0878" opacity="0.55"/>
<circle cx="366.64" cy="272.33" r="1.18" fill="#2e0878" opacity="0.55"/>
<circle cx="364.25" cy="271.19" r="1.27" fill="#7446c4" opacity="0.55"/>
<circle cx="366.10" cy="273.91" r="0.75" fill="#2e0878" opacity="0.55"/>
<circle cx="366.31" cy="274.03" r="0.62" fill="#3e0a8a" opacity="0.55"/>
<circle cx="366.25" cy="273.95" r="1.06" fill="#7446c4" opacity="0.55"/>
<ellipse cx="378.3" cy="276.3" rx="6.00" ry="7.80" fill="#cbb2e8" transform="rotate(0 378.3 276.3)"/>
<ellipse cx="378.3" cy="276.3" rx="4.2" ry="6.0" fill="#6426b0" transform="rotate(0 378.3 276.3)"/>
<circle cx="377.52" cy="277.87" r="1.22" fill="#7446c4" opacity="0.55"/>
<circle cx="377.31" cy="274.98" r="0.92" fill="#7446c4" opacity="0.55"/>
<circle cx="379.04" cy="279.04" r="0.86" fill="#3e0a8a" opacity="0.55"/>
<circle cx="376.21" cy="278.91" r="0.99" fill="#3e0a8a" opacity="0.55"/>
<circle cx="380.28" cy="278.65" r="1.07" fill="#7446c4" opacity="0.55"/>
<circle cx="381.06" cy="277.13" r="1.25" fill="#7446c4" opacity="0.55"/>
<circle cx="376.29" cy="279.40" r="0.62" fill="#2e0878" opacity="0.55"/>
<circle cx="375.72" cy="277.33" r="0.68" fill="#3e0a8a" opacity="0.55"/>
<ellipse cx="367.9" cy="287.6" rx="6.20" ry="6.20" fill="#cbb2e8" transform="rotate(0 367.9 287.6)"/>
<ellipse cx="367.9" cy="287.6" rx="4.4" ry="4.4" fill="#5a1eaa" transform="rotate(0 367.9 287.6)"/>
<circle cx="367.43" cy="286.76" r="0.77" fill="#2e0878" opacity="0.55"/>
<circle cx="368.01" cy="287.60" r="0.62" fill="#2e0878" opacity="0.55"/>
<circle cx="367.93" cy="287.86" r="1.24" fill="#7446c4" opacity="0.55"/>
<circle cx="367.30" cy="285.44" r="0.93" fill="#3e0a8a" opacity="0.55"/>
<circle cx="367.40" cy="289.96" r="0.93" fill="#2e0878" opacity="0.55"/>
<circle cx="367.99" cy="287.03" r="1.26" fill="#3e0a8a" opacity="0.55"/>
<ellipse cx="378.3" cy="292.0" rx="6.60" ry="6.00" fill="#cbb2e8" transform="rotate(0 378.3 292.0)"/>
<ellipse cx="378.3" cy="292.0" rx="4.8" ry="4.2" fill="#6426b0" transform="rotate(0 378.3 292.0)"/>
<circle cx="377.36" cy="290.92" r="0.60" fill="#7446c4" opacity="0.55"/>
<circle cx="380.90" cy="292.92" r="0.72" fill="#7446c4" opacity="0.55"/>
<circle cx="381.24" cy="292.55" r="1.00" fill="#2e0878" opacity="0.55"/>
<circle cx="380.70" cy="291.16" r="1.23" fill="#3e0a8a" opacity="0.55"/>
<circle cx="374.94" cy="292.16" r="1.08" fill="#3e0a8a" opacity="0.55"/>
<circle cx="377.20" cy="290.77" r="0.63" fill="#3e0a8a" opacity="0.55"/>
<circle cx="379.10" cy="290.78" r="0.64" fill="#2e0878" opacity="0.55"/>
<circle cx="378.8" cy="292.3" r="1.5" fill="#a07ad8"/>
</g>
<line x1="331.60" y1="247.80" x2="341.13" y2="253.19" stroke="#000" stroke-width="1.8"/>
<polygon points="345.40,255.60 339.17,255.64 341.40,253.34 342.22,250.24" fill="#000"/>
<line x1="321.70" y1="257.30" x2="331.30" y2="263.07" stroke="#000" stroke-width="1.8"/>
<polygon points="335.50,265.60 329.27,265.47 331.56,263.23 332.47,260.16" fill="#000"/>
</g>
<g clip-path="url(#cs2)"><g filter="url(#sm)">
<ellipse cx="430.7" cy="244.4" rx="8.80" ry="8.40" fill="#cbb2e8" transform="rotate(0 430.7 244.4)"/>
<ellipse cx="430.7" cy="244.4" rx="7.0" ry="6.6" fill="#5a1eaa" transform="rotate(0 430.7 244.4)"/>
<circle cx="435.66" cy="245.53" r="1.09" fill="#3e0a8a" opacity="0.55"/>
<circle cx="430.07" cy="243.68" r="0.66" fill="#3e0a8a" opacity="0.55"/>
<circle cx="430.48" cy="244.89" r="1.29" fill="#2e0878" opacity="0.55"/>
<circle cx="430.91" cy="244.72" r="0.75" fill="#2e0878" opacity="0.55"/>
<circle cx="433.52" cy="244.69" r="0.90" fill="#7446c4" opacity="0.55"/>
<circle cx="431.01" cy="241.83" r="1.11" fill="#3e0a8a" opacity="0.55"/>
<circle cx="432.08" cy="243.61" r="1.22" fill="#7446c4" opacity="0.55"/>
<circle cx="433.61" cy="244.39" r="0.82" fill="#3e0a8a" opacity="0.55"/>
<circle cx="434.16" cy="246.40" r="0.82" fill="#7446c4" opacity="0.55"/>
<circle cx="431.00" cy="244.70" r="1.09" fill="#3e0a8a" opacity="0.55"/>
<circle cx="432.23" cy="239.83" r="0.77" fill="#2e0878" opacity="0.55"/>
<circle cx="434.11" cy="245.71" r="1.09" fill="#3e0a8a" opacity="0.55"/>
<circle cx="432.03" cy="240.21" r="0.65" fill="#3e0a8a" opacity="0.55"/>
<ellipse cx="444.4" cy="246.4" rx="8.40" ry="8.40" fill="#cbb2e8" transform="rotate(0 444.4 246.4)"/>
<ellipse cx="444.4" cy="246.4" rx="6.6" ry="6.6" fill="#6024ae" transform="rotate(0 444.4 246.4)"/>
<circle cx="444.63" cy="244.53" r="0.60" fill="#2e0878" opacity="0.55"/>
<circle cx="443.36" cy="250.94" r="1.00" fill="#3e0a8a" opacity="0.55"/>
<circle cx="440.62" cy="247.84" r="1.15" fill="#2e0878" opacity="0.55"/>
<circle cx="444.63" cy="246.43" r="0.79" fill="#7446c4" opacity="0.55"/>
<circle cx="445.12" cy="244.65" r="0.82" fill="#3e0a8a" opacity="0.55"/>
<circle cx="444.16" cy="247.04" r="1.07" fill="#7446c4" opacity="0.55"/>
<circle cx="444.33" cy="246.71" r="0.99" fill="#2e0878" opacity="0.55"/>
<circle cx="444.65" cy="246.44" r="1.18" fill="#3e0a8a" opacity="0.55"/>
<circle cx="443.22" cy="246.90" r="0.61" fill="#2e0878" opacity="0.55"/>
<circle cx="443.79" cy="246.29" r="0.83" fill="#3e0a8a" opacity="0.55"/>
<circle cx="447.28" cy="246.63" r="1.11" fill="#3e0a8a" opacity="0.55"/>
<circle cx="446.57" cy="247.88" r="1.04" fill="#3e0a8a" opacity="0.55"/>
<circle cx="444.4" cy="246.4" r="2" fill="#a47ad8"/>
<ellipse cx="455.9" cy="250.2" rx="8.40" ry="8.40" fill="#cbb2e8" transform="rotate(0 455.9 250.2)"/>
<ellipse cx="455.9" cy="250.2" rx="6.6" ry="6.6" fill="#6024ae" transform="rotate(0 455.9 250.2)"/>
<circle cx="458.24" cy="253.18" r="1.16" fill="#7446c4" opacity="0.55"/>
<circle cx="457.06" cy="251.26" r="0.92" fill="#3e0a8a" opacity="0.55"/>
<circle cx="453.90" cy="251.08" r="1.26" fill="#2e0878" opacity="0.55"/>
<circle cx="451.20" cy="249.22" r="0.60" fill="#2e0878" opacity="0.55"/>
<circle cx="458.84" cy="253.21" r="0.64" fill="#2e0878" opacity="0.55"/>
<circle cx="456.06" cy="250.18" r="0.77" fill="#2e0878" opacity="0.55"/>
<circle cx="455.41" cy="248.52" r="0.75" fill="#7446c4" opacity="0.55"/>
<circle cx="455.73" cy="251.18" r="0.96" fill="#2e0878" opacity="0.55"/>
<circle cx="456.25" cy="246.33" r="0.85" fill="#7446c4" opacity="0.55"/>
<circle cx="455.95" cy="255.06" r="1.03" fill="#3e0a8a" opacity="0.55"/>
<circle cx="455.32" cy="250.61" r="0.94" fill="#3e0a8a" opacity="0.55"/>
<circle cx="456.72" cy="250.40" r="1.13" fill="#3e0a8a" opacity="0.55"/>
<circle cx="456.4" cy="250.7" r="1.8" fill="#a47ad8"/>
<ellipse cx="476.0" cy="241.6" rx="8.20" ry="7.80" fill="#cbb2e8" transform="rotate(20 476.0 241.6)"/>
<ellipse cx="476.0" cy="241.6" rx="6.4" ry="6.0" fill="#5a1eaa" transform="rotate(20 476.0 241.6)"/>
<circle cx="475.13" cy="245.66" r="0.93" fill="#7446c4" opacity="0.55"/>
<circle cx="473.48" cy="242.05" r="1.16" fill="#3e0a8a" opacity="0.55"/>
<circle cx="475.97" cy="241.63" r="1.02" fill="#2e0878" opacity="0.55"/>
<circle cx="473.17" cy="239.08" r="0.82" fill="#3e0a8a" opacity="0.55"/>
<circle cx="477.48" cy="241.84" r="0.95" fill="#7446c4" opacity="0.55"/>
<circle cx="472.82" cy="240.72" r="1.29" fill="#7446c4" opacity="0.55"/>
<circle cx="477.77" cy="237.79" r="0.99" fill="#2e0878" opacity="0.55"/>
<circle cx="476.65" cy="241.85" r="0.85" fill="#7446c4" opacity="0.55"/>
<circle cx="473.29" cy="239.90" r="0.74" fill="#2e0878" opacity="0.55"/>
<circle cx="475.97" cy="241.72" r="1.03" fill="#7446c4" opacity="0.55"/>
<circle cx="478.94" cy="238.39" r="0.81" fill="#7446c4" opacity="0.55"/>
<ellipse cx="421.5" cy="283.7" rx="9.60" ry="8.80" fill="#c8a4e0" transform="rotate(0 421.5 283.7)"/>
<ellipse cx="421.5" cy="283.7" rx="7.8" ry="7.0" fill="#6a26ae" transform="rotate(0 421.5 283.7)"/>
<circle cx="422.95" cy="283.08" r="0.76" fill="#2e0878" opacity="0.55"/>
<circle cx="422.00" cy="283.81" r="1.23" fill="#7446c4" opacity="0.55"/>
<circle cx="419.63" cy="279.63" r="1.02" fill="#2e0878" opacity="0.55"/>
<circle cx="418.89" cy="282.74" r="1.23" fill="#3e0a8a" opacity="0.55"/>
<circle cx="421.89" cy="288.80" r="0.90" fill="#2e0878" opacity="0.55"/>
<circle cx="425.35" cy="283.02" r="0.72" fill="#7446c4" opacity="0.55"/>
<circle cx="418.49" cy="279.83" r="1.03" fill="#2e0878" opacity="0.55"/>
<circle cx="421.02" cy="284.07" r="1.22" fill="#2e0878" opacity="0.55"/>
<circle cx="419.32" cy="278.92" r="1.22" fill="#3e0a8a" opacity="0.55"/>
<circle cx="421.92" cy="285.26" r="1.16" fill="#7446c4" opacity="0.55"/>
<circle cx="426.41" cy="286.05" r="1.04" fill="#3e0a8a" opacity="0.55"/>
<circle cx="421.64" cy="282.53" r="1.00" fill="#3e0a8a" opacity="0.55"/>
<circle cx="418.88" cy="281.30" r="1.11" fill="#2e0878" opacity="0.55"/>
<circle cx="419.34" cy="284.81" r="1.02" fill="#2e0878" opacity="0.55"/>
<circle cx="421.59" cy="285.89" r="1.02" fill="#3e0a8a" opacity="0.55"/>
<circle cx="421.5" cy="284.2" r="2.2" fill="#b060c8"/>
<circle cx="468.6" cy="288.0" r="13.4" fill="#b898e0"/>
<circle cx="468.6" cy="288.0" r="12.6" fill="url(#kog)"/>
<circle cx="473.25" cy="287.01" r="0.62" fill="#6a3cb8" opacity="0.45"/>
<circle cx="466.28" cy="295.86" r="1.05" fill="#5a2aa8" opacity="0.45"/>
<circle cx="471.71" cy="295.89" r="1.12" fill="#b08ee0" opacity="0.45"/>
<circle cx="467.13" cy="290.66" r="1.36" fill="#6a3cb8" opacity="0.45"/>
<circle cx="474.06" cy="278.72" r="0.85" fill="#5a2aa8" opacity="0.45"/>
<circle cx="462.12" cy="279.63" r="0.78" fill="#b08ee0" opacity="0.45"/>
<circle cx="461.24" cy="281.49" r="1.27" fill="#6a3cb8" opacity="0.45"/>
<circle cx="470.11" cy="292.08" r="0.67" fill="#6a3cb8" opacity="0.45"/>
<circle cx="462.14" cy="295.09" r="1.06" fill="#5a2aa8" opacity="0.45"/>
<circle cx="467.74" cy="278.10" r="1.24" fill="#b08ee0" opacity="0.45"/>
<circle cx="475.00" cy="282.95" r="1.06" fill="#6a3cb8" opacity="0.45"/>
<circle cx="462.02" cy="295.43" r="0.76" fill="#5a2aa8" opacity="0.45"/>
<circle cx="463.35" cy="293.29" r="1.14" fill="#b08ee0" opacity="0.45"/>
<circle cx="469.13" cy="282.57" r="1.35" fill="#5a2aa8" opacity="0.45"/>
<circle cx="465.93" cy="290.66" r="1.08" fill="#5a2aa8" opacity="0.45"/>
<circle cx="469.02" cy="288.47" r="0.90" fill="#5a2aa8" opacity="0.45"/>
<circle cx="471.38" cy="287.00" r="1.21" fill="#b08ee0" opacity="0.45"/>
<circle cx="468.28" cy="286.65" r="1.25" fill="#5a2aa8" opacity="0.45"/>
<circle cx="468.63" cy="283.14" r="0.87" fill="#6a3cb8" opacity="0.45"/>
<circle cx="466.64" cy="295.52" r="1.16" fill="#6a3cb8" opacity="0.45"/>
<circle cx="463.28" cy="285.26" r="0.87" fill="#6a3cb8" opacity="0.45"/>
<circle cx="466.15" cy="287.70" r="0.94" fill="#6a3cb8" opacity="0.45"/>
<circle cx="467.37" cy="297.25" r="0.72" fill="#6a3cb8" opacity="0.45"/>
<circle cx="461.77" cy="285.62" r="0.74" fill="#5a2aa8" opacity="0.45"/>
<circle cx="471.95" cy="283.71" r="0.96" fill="#6a3cb8" opacity="0.45"/>
<circle cx="468.89" cy="287.27" r="1.21" fill="#5a2aa8" opacity="0.45"/>
<circle cx="469.20" cy="286.51" r="1.05" fill="#5a2aa8" opacity="0.45"/>
<circle cx="470.68" cy="285.73" r="1.38" fill="#6a3cb8" opacity="0.45"/>
<circle cx="475.82" cy="286.82" r="0.98" fill="#6a3cb8" opacity="0.45"/>
<circle cx="476.79" cy="285.68" r="1.27" fill="#5a2aa8" opacity="0.45"/>
<circle cx="466.07" cy="287.88" r="0.91" fill="#b08ee0" opacity="0.45"/>
<circle cx="460.83" cy="291.38" r="1.32" fill="#b08ee0" opacity="0.45"/>
<circle cx="462.39" cy="282.30" r="0.77" fill="#5a2aa8" opacity="0.45"/>
<circle cx="469.47" cy="280.98" r="1.30" fill="#5a2aa8" opacity="0.45"/>
<circle cx="474.43" cy="284.57" r="1.40" fill="#6a3cb8" opacity="0.45"/>
<circle cx="471.89" cy="285.34" r="1.22" fill="#5a2aa8" opacity="0.45"/>
<circle cx="470.14" cy="285.37" r="0.90" fill="#5a2aa8" opacity="0.45"/>
<circle cx="463.56" cy="290.71" r="0.98" fill="#5a2aa8" opacity="0.45"/>
<circle cx="477.35" cy="288.13" r="1.22" fill="#5a2aa8" opacity="0.45"/>
<circle cx="476.68" cy="292.24" r="0.63" fill="#5a2aa8" opacity="0.45"/>
</g>
<line x1="440.60" y1="271.20" x2="450.68" y2="276.59" stroke="#000" stroke-width="1.8"/>
<polygon points="455.00,278.90 448.78,279.09 450.94,276.73 451.70,273.62" fill="#000"/>
<rect x="408.00" y="295.20" width="17.60" height="3.30" fill="#000"/>
</g>
<rect x="201.00" y="307.20" width="95.80" height="72.60" fill="#b880de"/>
<g clip-path="url(#ch0)"><g filter="url(#he)">
<rect x="201.0" y="307.2" width="95.80000000000001" height="2.5" fill="#b49ad8"/>
<circle cx="244.1" cy="348.2" r="5.3" fill="#8c58cc" opacity="0.65"/>
<circle cx="245.4" cy="344.1" r="4.5" fill="#8c58cc" opacity="0.65"/>
<circle cx="216.8" cy="344.4" r="4.6" fill="#8c58cc" opacity="0.65"/>
<circle cx="278.7" cy="311.6" r="3.8" fill="#8c58cc" opacity="0.65"/>
<circle cx="207.2" cy="367.8" r="4.7" fill="#8c58cc" opacity="0.65"/>
<circle cx="202.3" cy="381.4" r="5.4" fill="#8c58cc" opacity="0.65"/>
<circle cx="264.6" cy="352.6" r="3.4" fill="#8c58cc" opacity="0.65"/>
<circle cx="199.5" cy="345.7" r="3.1" fill="#8c58cc" opacity="0.65"/>
<circle cx="217.4" cy="323.2" r="3.1" fill="#8c58cc" opacity="0.65"/>
<circle cx="245.2" cy="338.8" r="5.1" fill="#8c58cc" opacity="0.65"/>
<circle cx="250.8" cy="354.5" r="4.2" fill="#8c58cc" opacity="0.65"/>
<circle cx="265.4" cy="340.1" r="3.7" fill="#8c58cc" opacity="0.65"/>
<circle cx="299.6" cy="382.5" r="5.1" fill="#8c58cc" opacity="0.65"/>
<circle cx="270.1" cy="329.0" r="3.6" fill="#8c58cc" opacity="0.65"/>
<circle cx="227.4" cy="309.7" r="4.9" fill="#8c58cc" opacity="0.65"/>
<circle cx="238.8" cy="370.7" r="4.0" fill="#8c58cc" opacity="0.65"/>
<circle cx="295.5" cy="370.8" r="3.0" fill="#8c58cc" opacity="0.65"/>
<circle cx="219.3" cy="375.7" r="4.2" fill="#8c58cc" opacity="0.65"/>
<circle cx="297.8" cy="335.4" r="3.2" fill="#8c58cc" opacity="0.65"/>
<circle cx="262.1" cy="365.4" r="3.7" fill="#8c58cc" opacity="0.65"/>
<circle cx="206.9" cy="330.3" r="5.4" fill="#8c58cc" opacity="0.65"/>
<circle cx="275.2" cy="313.5" r="3.6" fill="#8c58cc" opacity="0.65"/>
<circle cx="208.3" cy="308.9" r="5.0" fill="#8c58cc" opacity="0.65"/>
<circle cx="216.1" cy="348.2" r="4.1" fill="#8c58cc" opacity="0.65"/>
<circle cx="217.4" cy="361.7" r="3.3" fill="#8c58cc" opacity="0.65"/>
<circle cx="263.5" cy="313.4" r="4.1" fill="#8c58cc" opacity="0.65"/>
<circle cx="219.7" cy="325.4" r="5.4" fill="#8c58cc" opacity="0.65"/>
<circle cx="279.8" cy="328.1" r="5.2" fill="#8c58cc" opacity="0.65"/>
<circle cx="219.5" cy="335.2" r="5.1" fill="#8c58cc" opacity="0.65"/>
<circle cx="263.3" cy="312.1" r="5.5" fill="#8c58cc" opacity="0.65"/>
<circle cx="219.7" cy="324.5" r="4.9" fill="#8c58cc" opacity="0.65"/>
<circle cx="231.5" cy="327.5" r="3.2" fill="#8c58cc" opacity="0.65"/>
<circle cx="207.2" cy="350.0" r="3.6" fill="#8c58cc" opacity="0.65"/>
<circle cx="259.2" cy="333.4" r="4.1" fill="#8c58cc" opacity="0.65"/>
<circle cx="295.6" cy="342.2" r="4.4" fill="#8c58cc" opacity="0.65"/>
<circle cx="286.2" cy="318.6" r="3.4" fill="#8c58cc" opacity="0.65"/>
<circle cx="290.5" cy="368.5" r="3.6" fill="#8c58cc" opacity="0.65"/>
<circle cx="217.3" cy="362.3" r="5.4" fill="#8c58cc" opacity="0.65"/>
<circle cx="218.0" cy="378.9" r="5.2" fill="#8c58cc" opacity="0.65"/>
<circle cx="259.4" cy="337.3" r="3.3" fill="#8c58cc" opacity="0.65"/>
<circle cx="201.9" cy="379.9" r="3.6" fill="#8c58cc" opacity="0.65"/>
<circle cx="269.7" cy="324.4" r="5.1" fill="#8c58cc" opacity="0.65"/>
<circle cx="258.7" cy="327.3" r="3.4" fill="#8c58cc" opacity="0.65"/>
<circle cx="271.3" cy="309.6" r="3.6" fill="#8c58cc" opacity="0.65"/>
<circle cx="254.9" cy="371.2" r="4.5" fill="#8c58cc" opacity="0.65"/>
<circle cx="226.5" cy="376.3" r="3.5" fill="#8c58cc" opacity="0.65"/>
<circle cx="199.7" cy="325.4" r="4.1" fill="#8c58cc" opacity="0.65"/>
<circle cx="204.2" cy="318.1" r="3.9" fill="#8c58cc" opacity="0.65"/>
<circle cx="256.2" cy="314.5" r="3.9" fill="#8c58cc" opacity="0.65"/>
<circle cx="288.7" cy="381.3" r="4.6" fill="#8c58cc" opacity="0.65"/>
<circle cx="268.4" cy="350.1" r="3.4" fill="#8c58cc" opacity="0.65"/>
<circle cx="201.6" cy="305.6" r="5.3" fill="#8c58cc" opacity="0.65"/>
<circle cx="269.4" cy="379.9" r="3.1" fill="#8c58cc" opacity="0.65"/>
<circle cx="262.8" cy="342.1" r="4.8" fill="#8c58cc" opacity="0.65"/>
<circle cx="230.5" cy="382.7" r="3.2" fill="#8c58cc" opacity="0.65"/>
<circle cx="253.6" cy="362.1" r="5.3" fill="#8c58cc" opacity="0.65"/>
<circle cx="273.0" cy="359.5" r="5.0" fill="#8c58cc" opacity="0.65"/>
<circle cx="291.1" cy="331.9" r="4.7" fill="#8c58cc" opacity="0.65"/>
<circle cx="289.7" cy="372.7" r="4.0" fill="#8c58cc" opacity="0.65"/>
<circle cx="278.5" cy="372.1" r="4.4" fill="#8c58cc" opacity="0.65"/>
<circle cx="261.6" cy="334.3" r="4.5" fill="#8c58cc" opacity="0.65"/>
<circle cx="260.0" cy="310.5" r="4.6" fill="#8c58cc" opacity="0.65"/>
<circle cx="299.1" cy="373.4" r="4.8" fill="#8c58cc" opacity="0.65"/>
<circle cx="237.5" cy="362.0" r="4.5" fill="#8c58cc" opacity="0.65"/>
<circle cx="242.8" cy="370.1" r="3.2" fill="#8c58cc" opacity="0.65"/>
<circle cx="274.4" cy="306.5" r="4.5" fill="#8c58cc" opacity="0.65"/>
<circle cx="247.0" cy="322.3" r="4.7" fill="#8c58cc" opacity="0.65"/>
<circle cx="248.6" cy="352.5" r="5.3" fill="#8c58cc" opacity="0.65"/>
<circle cx="224.0" cy="305.1" r="3.8" fill="#8c58cc" opacity="0.65"/>
<circle cx="267.0" cy="320.1" r="3.4" fill="#8c58cc" opacity="0.65"/>
<circle cx="290.2" cy="356.1" r="4.1" fill="#8c58cc" opacity="0.65"/>
<circle cx="288.8" cy="329.9" r="4.7" fill="#8c58cc" opacity="0.65"/>
<circle cx="218.2" cy="338.1" r="5.0" fill="#8c58cc" opacity="0.65"/>
<circle cx="291.1" cy="373.4" r="4.0" fill="#8c58cc" opacity="0.65"/>
<circle cx="257.4" cy="329.1" r="3.3" fill="#8c58cc" opacity="0.65"/>
<circle cx="248.5" cy="370.0" r="5.1" fill="#8c58cc" opacity="0.65"/>
<circle cx="270.4" cy="378.9" r="3.7" fill="#8c58cc" opacity="0.65"/>
<circle cx="215.2" cy="339.6" r="3.7" fill="#8c58cc" opacity="0.65"/>
<circle cx="219.8" cy="336.7" r="4.6" fill="#8c58cc" opacity="0.65"/>
<circle cx="248.3" cy="329.0" r="5.1" fill="#8c58cc" opacity="0.65"/>
<circle cx="298.0" cy="339.8" r="3.2" fill="#8c58cc" opacity="0.65"/>
<circle cx="201.2" cy="372.8" r="3.1" fill="#8c58cc" opacity="0.65"/>
<circle cx="270.1" cy="349.0" r="3.8" fill="#8c58cc" opacity="0.65"/>
<circle cx="278.6" cy="305.7" r="3.3" fill="#8c58cc" opacity="0.65"/>
<circle cx="244.3" cy="306.1" r="5.1" fill="#8c58cc" opacity="0.65"/>
<circle cx="222.2" cy="315.3" r="3.1" fill="#8c58cc" opacity="0.65"/>
<circle cx="262.1" cy="339.3" r="4.6" fill="#8c58cc" opacity="0.65"/>
<circle cx="264.7" cy="367.7" r="5.4" fill="#8c58cc" opacity="0.65"/>
<circle cx="267.7" cy="319.9" r="4.2" fill="#8c58cc" opacity="0.65"/>
<circle cx="216.2" cy="305.0" r="4.2" fill="#8c58cc" opacity="0.65"/>
<circle cx="270.7" cy="318.3" r="3.7" fill="#8c58cc" opacity="0.65"/>
<circle cx="233.2" cy="359.0" r="4.3" fill="#8c58cc" opacity="0.65"/>
<circle cx="260.6" cy="363.6" r="4.0" fill="#8c58cc" opacity="0.65"/>
<circle cx="278.6" cy="375.4" r="3.2" fill="#8c58cc" opacity="0.65"/>
<circle cx="292.9" cy="361.0" r="3.3" fill="#8c58cc" opacity="0.65"/>
<circle cx="244.2" cy="353.4" r="5.3" fill="#8c58cc" opacity="0.65"/>
<circle cx="236.4" cy="348.9" r="5.2" fill="#8c58cc" opacity="0.65"/>
<circle cx="279.1" cy="378.4" r="4.2" fill="#8c58cc" opacity="0.65"/>
<circle cx="264.3" cy="320.3" r="4.8" fill="#8c58cc" opacity="0.65"/>
<circle cx="281.3" cy="354.6" r="4.8" fill="#8c58cc" opacity="0.65"/>
<g filter="url(#he2)">
<polygon points="205,309.5 227,309.5 223,316 216,325 210,330 206,324" fill="#e8e0ee"/>
<ellipse cx="266" cy="352" rx="5" ry="5" fill="#dccce8"/>
<ellipse cx="263" cy="343" rx="2.5" ry="4" fill="#dccce8"/>
<ellipse cx="286" cy="318" rx="2.5" ry="4" fill="#d4bce4"/>
</g>
<ellipse cx="220.3" cy="374.4" rx="3.09" ry="3.36" fill="#4a209c" transform="rotate(58 220.3 374.4)"/>
<ellipse cx="289.8" cy="371.2" rx="1.97" ry="2.21" fill="#36128a" transform="rotate(76 289.8 371.2)"/>
<ellipse cx="226.5" cy="375.9" rx="2.14" ry="1.85" fill="#36128a" transform="rotate(96 226.5 375.9)"/>
<ellipse cx="267.5" cy="375.6" rx="2.82" ry="2.49" fill="#562ca6" transform="rotate(122 267.5 375.6)"/>
<ellipse cx="242.9" cy="373.0" rx="2.23" ry="2.35" fill="#6638b2" transform="rotate(95 242.9 373.0)"/>
<ellipse cx="228.0" cy="361.8" rx="2.68" ry="3.04" fill="#562ca6" transform="rotate(46 228.0 361.8)"/>
<ellipse cx="259.8" cy="330.6" rx="2.12" ry="2.16" fill="#562ca6" transform="rotate(36 259.8 330.6)"/>
<ellipse cx="252.5" cy="345.2" rx="2.66" ry="2.22" fill="#36128a" transform="rotate(165 252.5 345.2)"/>
<ellipse cx="253.3" cy="381.0" rx="2.22" ry="1.78" fill="#36128a" transform="rotate(97 253.3 381.0)"/>
<ellipse cx="225.9" cy="343.0" rx="2.38" ry="2.40" fill="#3a168e" transform="rotate(166 225.9 343.0)"/>
<ellipse cx="202.6" cy="319.6" rx="1.84" ry="1.86" fill="#4a209c" transform="rotate(112 202.6 319.6)"/>
<ellipse cx="209.5" cy="362.0" rx="2.17" ry="2.24" fill="#562ca6" transform="rotate(126 209.5 362.0)"/>
<ellipse cx="286.7" cy="309.9" rx="2.77" ry="2.70" fill="#562ca6" transform="rotate(155 286.7 309.9)"/>
<ellipse cx="252.3" cy="324.3" rx="2.27" ry="2.46" fill="#562ca6" transform="rotate(42 252.3 324.3)"/>
<ellipse cx="272.9" cy="367.9" rx="3.07" ry="3.36" fill="#4a209c" transform="rotate(35 272.9 367.9)"/>
<ellipse cx="276.7" cy="322.5" rx="1.80" ry="1.77" fill="#401894" transform="rotate(70 276.7 322.5)"/>
<ellipse cx="269.3" cy="323.0" rx="2.29" ry="2.72" fill="#36128a" transform="rotate(64 269.3 323.0)"/>
<ellipse cx="280.9" cy="334.8" rx="2.98" ry="2.74" fill="#6638b2" transform="rotate(123 280.9 334.8)"/>
<ellipse cx="202.7" cy="348.8" rx="2.51" ry="2.26" fill="#562ca6" transform="rotate(21 202.7 348.8)"/>
<ellipse cx="267.0" cy="313.9" rx="2.03" ry="2.07" fill="#3a168e" transform="rotate(77 267.0 313.9)"/>
<ellipse cx="259.0" cy="309.2" rx="2.44" ry="2.69" fill="#401894" transform="rotate(133 259.0 309.2)"/>
<ellipse cx="200.5" cy="373.9" rx="3.22" ry="3.25" fill="#6638b2" transform="rotate(169 200.5 373.9)"/>
<ellipse cx="233.0" cy="364.3" rx="2.45" ry="2.48" fill="#36128a" transform="rotate(147 233.0 364.3)"/>
<ellipse cx="239.5" cy="361.4" rx="1.89" ry="1.75" fill="#4a209c" transform="rotate(160 239.5 361.4)"/>
<ellipse cx="297.9" cy="374.6" rx="2.31" ry="2.12" fill="#4a209c" transform="rotate(61 297.9 374.6)"/>
<ellipse cx="237.9" cy="381.8" rx="2.32" ry="2.58" fill="#6638b2" transform="rotate(103 237.9 381.8)"/>
<ellipse cx="243.3" cy="345.4" rx="2.69" ry="2.42" fill="#6638b2" transform="rotate(45 243.3 345.4)"/>
<ellipse cx="289.4" cy="348.7" rx="2.58" ry="2.95" fill="#562ca6" transform="rotate(115 289.4 348.7)"/>
<ellipse cx="279.8" cy="313.8" rx="2.52" ry="3.01" fill="#36128a" transform="rotate(69 279.8 313.8)"/>
<ellipse cx="258.5" cy="339.8" rx="2.53" ry="2.59" fill="#4a209c" transform="rotate(66 258.5 339.8)"/>
<ellipse cx="200.4" cy="326.2" rx="1.93" ry="2.12" fill="#401894" transform="rotate(10 200.4 326.2)"/>
<ellipse cx="230.5" cy="337.5" rx="3.00" ry="2.22" fill="#6638b2" transform="rotate(163 230.5 337.5)"/>
<ellipse cx="271.1" cy="342.7" rx="3.16" ry="2.65" fill="#401894" transform="rotate(112 271.1 342.7)"/>
<ellipse cx="211.4" cy="340.8" rx="2.79" ry="2.83" fill="#3a168e" transform="rotate(123 211.4 340.8)"/>
<ellipse cx="212.7" cy="329.6" rx="1.82" ry="2.37" fill="#3a168e" transform="rotate(141 212.7 329.6)"/>
<ellipse cx="262.2" cy="363.6" rx="2.16" ry="2.27" fill="#401894" transform="rotate(35 262.2 363.6)"/>
<ellipse cx="221.2" cy="328.7" rx="2.48" ry="2.55" fill="#6638b2" transform="rotate(177 221.2 328.7)"/>
<ellipse cx="247.3" cy="334.3" rx="2.52" ry="2.60" fill="#3a168e" transform="rotate(13 247.3 334.3)"/>
<ellipse cx="211.0" cy="367.8" rx="2.60" ry="2.87" fill="#401894" transform="rotate(70 211.0 367.8)"/>
<ellipse cx="280.4" cy="342.3" rx="2.46" ry="2.59" fill="#36128a" transform="rotate(119 280.4 342.3)"/>
<ellipse cx="268.3" cy="329.0" rx="2.22" ry="1.98" fill="#4a209c" transform="rotate(163 268.3 329.0)"/>
<ellipse cx="289.1" cy="358.8" rx="2.50" ry="2.11" fill="#562ca6" transform="rotate(57 289.1 358.8)"/>
<ellipse cx="223.8" cy="334.8" rx="2.50" ry="2.43" fill="#4a209c" transform="rotate(143 223.8 334.8)"/>
<ellipse cx="272.7" cy="335.3" rx="2.66" ry="2.44" fill="#401894" transform="rotate(32 272.7 335.3)"/>
<ellipse cx="262.3" cy="318.8" rx="2.71" ry="2.99" fill="#6638b2" transform="rotate(88 262.3 318.8)"/>
<ellipse cx="289.6" cy="333.1" rx="2.33" ry="2.86" fill="#4a209c" transform="rotate(121 289.6 333.1)"/>
<ellipse cx="281.5" cy="357.3" rx="3.24" ry="3.30" fill="#3a168e" transform="rotate(172 281.5 357.3)"/>
<ellipse cx="229.8" cy="316.7" rx="3.06" ry="2.91" fill="#401894" transform="rotate(3 229.8 316.7)"/>
<ellipse cx="247.0" cy="367.1" rx="2.05" ry="2.08" fill="#401894" transform="rotate(42 247.0 367.1)"/>
<ellipse cx="264.6" cy="325.7" rx="2.23" ry="1.93" fill="#3a168e" transform="rotate(44 264.6 325.7)"/>
<ellipse cx="290.4" cy="319.2" rx="1.93" ry="2.25" fill="#4a209c" transform="rotate(17 290.4 319.2)"/>
<ellipse cx="257.5" cy="371.3" rx="2.22" ry="2.62" fill="#401894" transform="rotate(16 257.5 371.3)"/>
<ellipse cx="230.1" cy="331.1" rx="2.38" ry="2.15" fill="#4a209c" transform="rotate(12 230.1 331.1)"/>
<ellipse cx="214.2" cy="354.4" rx="2.80" ry="2.84" fill="#6638b2" transform="rotate(71 214.2 354.4)"/>
<ellipse cx="255.2" cy="361.5" rx="2.00" ry="2.04" fill="#3a168e" transform="rotate(17 255.2 361.5)"/>
<ellipse cx="266.6" cy="360.3" rx="1.81" ry="2.12" fill="#3a168e" transform="rotate(127 266.6 360.3)"/>
<ellipse cx="281.2" cy="376.4" rx="2.30" ry="2.34" fill="#401894" transform="rotate(69 281.2 376.4)"/>
<ellipse cx="200.9" cy="332.6" rx="2.29" ry="2.38" fill="#6638b2" transform="rotate(37 200.9 332.6)"/>
<ellipse cx="228.8" cy="325.4" rx="2.31" ry="2.83" fill="#562ca6" transform="rotate(178 228.8 325.4)"/>
<ellipse cx="211.4" cy="379.9" rx="2.13" ry="2.14" fill="#562ca6" transform="rotate(101 211.4 379.9)"/>
<ellipse cx="223.0" cy="350.4" rx="2.98" ry="3.19" fill="#401894" transform="rotate(82 223.0 350.4)"/>
<ellipse cx="298.7" cy="318.4" rx="3.19" ry="2.91" fill="#6638b2" transform="rotate(115 298.7 318.4)"/>
<ellipse cx="239.5" cy="332.9" rx="2.14" ry="1.98" fill="#401894" transform="rotate(116 239.5 332.9)"/>
<ellipse cx="202.8" cy="357.6" rx="2.18" ry="2.09" fill="#3a168e" transform="rotate(74 202.8 357.6)"/>
<ellipse cx="282.7" cy="371.1" rx="2.09" ry="2.09" fill="#3a168e" transform="rotate(169 282.7 371.1)"/>
<ellipse cx="232.0" cy="346.5" rx="2.27" ry="2.05" fill="#36128a" transform="rotate(131 232.0 346.5)"/>
<ellipse cx="293.9" cy="308.2" rx="1.86" ry="1.97" fill="#4a209c" transform="rotate(79 293.9 308.2)"/>
<ellipse cx="296.4" cy="356.0" rx="2.65" ry="2.12" fill="#4a209c" transform="rotate(76 296.4 356.0)"/>
<ellipse cx="251.3" cy="316.7" rx="2.67" ry="2.34" fill="#401894" transform="rotate(115 251.3 316.7)"/>
<ellipse cx="222.7" cy="319.0" rx="2.45" ry="2.55" fill="#36128a" transform="rotate(133 222.7 319.0)"/>
<ellipse cx="245.6" cy="359.6" rx="2.39" ry="2.98" fill="#36128a" transform="rotate(108 245.6 359.6)"/>
<ellipse cx="291.1" cy="324.3" rx="2.24" ry="1.81" fill="#562ca6" transform="rotate(62 291.1 324.3)"/>
<ellipse cx="287.5" cy="342.2" rx="2.29" ry="2.62" fill="#401894" transform="rotate(39 287.5 342.2)"/>
<ellipse cx="226.4" cy="309.6" rx="2.16" ry="2.20" fill="#4a209c" transform="rotate(117 226.4 309.6)"/>
<ellipse cx="247.2" cy="309.0" rx="2.61" ry="2.97" fill="#6638b2" transform="rotate(165 247.2 309.0)"/>
<ellipse cx="220.6" cy="358.9" rx="2.45" ry="2.82" fill="#4a209c" transform="rotate(16 220.6 358.9)"/>
<ellipse cx="208.3" cy="333.4" rx="2.41" ry="2.22" fill="#401894" transform="rotate(154 208.3 333.4)"/>
<ellipse cx="233.1" cy="374.3" rx="2.28" ry="2.17" fill="#6638b2" transform="rotate(113 233.1 374.3)"/>
<ellipse cx="226.6" cy="369.3" rx="3.41" ry="2.82" fill="#3a168e" transform="rotate(145 226.6 369.3)"/>
<ellipse cx="272.8" cy="359.3" rx="2.04" ry="2.40" fill="#6638b2" transform="rotate(59 272.8 359.3)"/>
<ellipse cx="281.7" cy="350.0" rx="2.11" ry="2.62" fill="#6638b2" transform="rotate(48 281.7 350.0)"/>
<ellipse cx="215.0" cy="323.0" rx="2.40" ry="2.36" fill="#4a209c" transform="rotate(2 215.0 323.0)"/>
<ellipse cx="272.0" cy="381.3" rx="2.37" ry="2.32" fill="#4a209c" transform="rotate(154 272.0 381.3)"/>
<ellipse cx="298.0" cy="338.3" rx="2.19" ry="1.91" fill="#4a209c" transform="rotate(10 298.0 338.3)"/>
<ellipse cx="238.8" cy="367.3" rx="3.31" ry="2.86" fill="#36128a" transform="rotate(151 238.8 367.3)"/>
<ellipse cx="214.5" cy="335.6" rx="1.79" ry="2.15" fill="#36128a" transform="rotate(73 214.5 335.6)"/>
<ellipse cx="236.7" cy="355.6" rx="2.07" ry="2.14" fill="#562ca6" transform="rotate(129 236.7 355.6)"/>
<ellipse cx="244.1" cy="329.1" rx="2.29" ry="1.76" fill="#36128a" transform="rotate(84 244.1 329.1)"/>
<ellipse cx="298.1" cy="362.5" rx="2.28" ry="2.34" fill="#6638b2" transform="rotate(9 298.1 362.5)"/>
<ellipse cx="200.4" cy="339.6" rx="2.28" ry="2.16" fill="#6638b2" transform="rotate(79 200.4 339.6)"/>
<ellipse cx="291.7" cy="378.5" rx="1.91" ry="1.96" fill="#4a209c" transform="rotate(70 291.7 378.5)"/>
<ellipse cx="206.2" cy="380.9" rx="2.04" ry="2.52" fill="#6638b2" transform="rotate(175 206.2 380.9)"/>
<ellipse cx="219.9" cy="364.6" rx="2.12" ry="1.87" fill="#562ca6" transform="rotate(21 219.9 364.6)"/>
<ellipse cx="218.6" cy="381.4" rx="2.93" ry="3.07" fill="#6638b2" transform="rotate(139 218.6 381.4)"/>
<ellipse cx="250.3" cy="339.0" rx="2.32" ry="2.82" fill="#36128a" transform="rotate(52 250.3 339.0)"/>
<ellipse cx="212.2" cy="374.1" rx="2.06" ry="1.93" fill="#3a168e" transform="rotate(158 212.2 374.1)"/>
<ellipse cx="200.6" cy="310.4" rx="2.47" ry="2.97" fill="#6638b2" transform="rotate(171 200.6 310.4)"/>
<ellipse cx="296.5" cy="381.3" rx="2.52" ry="2.56" fill="#401894" transform="rotate(180 296.5 381.3)"/>
<ellipse cx="205.6" cy="342.2" rx="2.75" ry="2.41" fill="#6638b2" transform="rotate(105 205.6 342.2)"/>
<ellipse cx="245.5" cy="381.0" rx="2.66" ry="2.58" fill="#401894" transform="rotate(153 245.5 381.0)"/>
<ellipse cx="295.8" cy="346.8" rx="2.79" ry="2.58" fill="#562ca6" transform="rotate(21 295.8 346.8)"/>
<ellipse cx="228.4" cy="353.7" rx="2.24" ry="2.79" fill="#3a168e" transform="rotate(116 228.4 353.7)"/>
<ellipse cx="258.2" cy="378.9" rx="2.52" ry="2.63" fill="#562ca6" transform="rotate(38 258.2 378.9)"/>
<ellipse cx="284.4" cy="323.9" rx="2.74" ry="2.50" fill="#3a168e" transform="rotate(16 284.4 323.9)"/>
<ellipse cx="227.2" cy="381.8" rx="2.61" ry="2.54" fill="#3a168e" transform="rotate(167 227.2 381.8)"/>
<ellipse cx="274.1" cy="350.9" rx="1.94" ry="1.84" fill="#6638b2" transform="rotate(113 274.1 350.9)"/>
<ellipse cx="264.0" cy="335.9" rx="2.74" ry="2.93" fill="#6638b2" transform="rotate(152 264.0 335.9)"/>
<ellipse cx="296.9" cy="332.3" rx="2.86" ry="2.59" fill="#401894" transform="rotate(74 296.9 332.3)"/>
<ellipse cx="284.9" cy="362.5" rx="2.55" ry="2.40" fill="#401894" transform="rotate(162 284.9 362.5)"/>
<ellipse cx="290.7" cy="365.3" rx="2.18" ry="2.45" fill="#36128a" transform="rotate(117 290.7 365.3)"/>
<ellipse cx="256.3" cy="350.4" rx="1.79" ry="1.84" fill="#4a209c" transform="rotate(59 256.3 350.4)"/>
<ellipse cx="236.2" cy="317.0" rx="2.63" ry="2.43" fill="#36128a" transform="rotate(122 236.2 317.0)"/>
<ellipse cx="208.2" cy="356.3" rx="2.29" ry="2.26" fill="#4a209c" transform="rotate(122 208.2 356.3)"/>
<ellipse cx="285.7" cy="381.5" rx="2.29" ry="2.78" fill="#6638b2" transform="rotate(43 285.7 381.5)"/>
<ellipse cx="232.5" cy="309.8" rx="2.90" ry="2.80" fill="#6638b2" transform="rotate(72 232.5 309.8)"/>
<ellipse cx="270.0" cy="309.4" rx="2.22" ry="2.51" fill="#3a168e" transform="rotate(40 270.0 309.4)"/>
<ellipse cx="297.5" cy="324.6" rx="2.06" ry="2.31" fill="#562ca6" transform="rotate(166 297.5 324.6)"/>
<ellipse cx="246.2" cy="352.7" rx="2.64" ry="2.12" fill="#4a209c" transform="rotate(66 246.2 352.7)"/>
<ellipse cx="234.9" cy="326.5" rx="1.90" ry="2.17" fill="#4a209c" transform="rotate(75 234.9 326.5)"/>
<ellipse cx="240.0" cy="351.5" rx="1.76" ry="1.75" fill="#4a209c" transform="rotate(177 240.0 351.5)"/>
<ellipse cx="281.4" cy="319.1" rx="2.42" ry="1.94" fill="#36128a" transform="rotate(116 281.4 319.1)"/>
<ellipse cx="258.1" cy="325.1" rx="1.87" ry="1.93" fill="#3a168e" transform="rotate(115 258.1 325.1)"/>
<ellipse cx="218.1" cy="341.1" rx="2.68" ry="2.78" fill="#36128a" transform="rotate(125 218.1 341.1)"/>
<ellipse cx="254.6" cy="333.2" rx="2.07" ry="2.03" fill="#36128a" transform="rotate(115 254.6 333.2)"/>
<ellipse cx="296.2" cy="368.3" rx="2.23" ry="2.25" fill="#562ca6" transform="rotate(51 296.2 368.3)"/>
<ellipse cx="250.8" cy="372.3" rx="3.06" ry="3.04" fill="#6638b2" transform="rotate(103 250.8 372.3)"/>
<ellipse cx="199.3" cy="380.9" rx="3.01" ry="2.87" fill="#3a168e" transform="rotate(119 199.3 380.9)"/>
<ellipse cx="214.4" cy="346.9" rx="2.63" ry="2.93" fill="#36128a" transform="rotate(120 214.4 346.9)"/>
<ellipse cx="236.8" cy="342.8" rx="1.73" ry="2.04" fill="#4a209c" transform="rotate(16 236.8 342.8)"/>
<ellipse cx="240.5" cy="338.5" rx="2.27" ry="2.18" fill="#562ca6" transform="rotate(11 240.5 338.5)"/>
<ellipse cx="204.2" cy="363.5" rx="2.70" ry="2.99" fill="#562ca6" transform="rotate(108 204.2 363.5)"/>
<ellipse cx="273.3" cy="316.7" rx="2.22" ry="2.23" fill="#6638b2" transform="rotate(148 273.3 316.7)"/>
<ellipse cx="240.6" cy="311.9" rx="2.35" ry="2.01" fill="#3a168e" transform="rotate(177 240.6 311.9)"/>
<ellipse cx="287.1" cy="376.2" rx="2.29" ry="2.63" fill="#562ca6" transform="rotate(160 287.1 376.2)"/>
<ellipse cx="252.8" cy="366.0" rx="2.23" ry="1.88" fill="#36128a" transform="rotate(3 252.8 366.0)"/>
<ellipse cx="291.8" cy="338.6" rx="2.19" ry="2.68" fill="#36128a" transform="rotate(72 291.8 338.6)"/>
<ellipse cx="279.8" cy="366.0" rx="2.20" ry="2.02" fill="#36128a" transform="rotate(36 279.8 366.0)"/>
<ellipse cx="275.1" cy="327.9" rx="2.36" ry="2.32" fill="#36128a" transform="rotate(102 275.1 327.9)"/>
<ellipse cx="253.6" cy="355.3" rx="1.75" ry="1.89" fill="#401894" transform="rotate(108 253.6 355.3)"/>
<ellipse cx="274.1" cy="375.4" rx="1.92" ry="1.81" fill="#36128a" transform="rotate(97 274.1 375.4)"/>
<ellipse cx="258.8" cy="356.4" rx="1.67" ry="1.99" fill="#4a209c" transform="rotate(171 258.8 356.4)"/>
<ellipse cx="252.5" cy="310.5" rx="2.28" ry="2.23" fill="#401894" transform="rotate(25 252.5 310.5)"/>
<ellipse cx="205.5" cy="370.0" rx="2.11" ry="2.22" fill="#4a209c" transform="rotate(41 205.5 370.0)"/>
<ellipse cx="259.9" cy="345.8" rx="1.95" ry="2.14" fill="#401894" transform="rotate(56 259.9 345.8)"/>
<ellipse cx="199.9" cy="353.6" rx="1.70" ry="2.28" fill="#6638b2" transform="rotate(40 199.9 353.6)"/>
<ellipse cx="208.3" cy="348.8" rx="2.24" ry="2.01" fill="#401894" transform="rotate(6 208.3 348.8)"/>
<ellipse cx="245.8" cy="319.3" rx="2.57" ry="2.16" fill="#4a209c" transform="rotate(14 245.8 319.3)"/>
<ellipse cx="263.4" cy="369.9" rx="2.49" ry="2.23" fill="#4a209c" transform="rotate(111 263.4 369.9)"/>
<ellipse cx="280.8" cy="308.3" rx="2.00" ry="2.03" fill="#36128a" transform="rotate(125 280.8 308.3)"/>
<ellipse cx="232.3" cy="358.2" rx="2.09" ry="2.00" fill="#562ca6" transform="rotate(141 232.3 358.2)"/>
<ellipse cx="239.6" cy="322.6" rx="2.20" ry="2.61" fill="#3a168e" transform="rotate(9 239.6 322.6)"/>
<ellipse cx="261.9" cy="375.0" rx="1.89" ry="2.21" fill="#3a168e" transform="rotate(165 261.9 375.0)"/>
<ellipse cx="256.6" cy="315.2" rx="2.19" ry="2.16" fill="#36128a" transform="rotate(86 256.6 315.2)"/>
<ellipse cx="250.3" cy="329.1" rx="1.96" ry="2.04" fill="#6638b2" transform="rotate(60 250.3 329.1)"/>
<ellipse cx="280.6" cy="329.0" rx="1.86" ry="1.78" fill="#4a209c" transform="rotate(109 280.6 329.0)"/>
<ellipse cx="287.2" cy="353.7" rx="2.44" ry="1.97" fill="#6638b2" transform="rotate(11 287.2 353.7)"/>
<ellipse cx="275.9" cy="309.8" rx="2.49" ry="2.23" fill="#6638b2" transform="rotate(36 275.9 309.8)"/>
<ellipse cx="292.2" cy="314.1" rx="2.54" ry="2.31" fill="#4a209c" transform="rotate(132 292.2 314.1)"/>
<ellipse cx="278.1" cy="381.7" rx="2.90" ry="3.21" fill="#4a209c" transform="rotate(69 278.1 381.7)"/>
<ellipse cx="298.7" cy="311.6" rx="2.47" ry="2.74" fill="#401894" transform="rotate(31 298.7 311.6)"/>
<ellipse cx="215.5" cy="361.3" rx="1.98" ry="1.86" fill="#6638b2" transform="rotate(48 215.5 361.3)"/>
<ellipse cx="199.3" cy="367.4" rx="2.15" ry="2.45" fill="#6638b2" transform="rotate(179 199.3 367.4)"/>
<ellipse cx="267.1" cy="365.8" rx="2.02" ry="2.37" fill="#562ca6" transform="rotate(67 267.1 365.8)"/>
</g>
</g>
<rect x="300.40" y="307.20" width="96.30" height="72.60" fill="#c28cda"/>
<g clip-path="url(#ch1)"><g filter="url(#he)">
<rect x="300.4" y="307.2" width="96.30000000000001" height="2.5" fill="#b49ad8"/>
<circle cx="310.4" cy="344.1" r="5.0" fill="#8c58cc" opacity="0.65"/>
<circle cx="302.4" cy="376.9" r="4.9" fill="#8c58cc" opacity="0.65"/>
<circle cx="326.0" cy="380.6" r="5.2" fill="#8c58cc" opacity="0.65"/>
<circle cx="350.5" cy="329.5" r="5.2" fill="#8c58cc" opacity="0.65"/>
<circle cx="297.8" cy="353.8" r="4.7" fill="#8c58cc" opacity="0.65"/>
<circle cx="355.3" cy="307.9" r="5.0" fill="#8c58cc" opacity="0.65"/>
<circle cx="376.9" cy="318.2" r="4.2" fill="#8c58cc" opacity="0.65"/>
<circle cx="373.8" cy="378.8" r="3.2" fill="#8c58cc" opacity="0.65"/>
<circle cx="299.1" cy="312.6" r="3.8" fill="#8c58cc" opacity="0.65"/>
<circle cx="326.0" cy="342.3" r="4.5" fill="#8c58cc" opacity="0.65"/>
<circle cx="355.1" cy="327.6" r="3.5" fill="#8c58cc" opacity="0.65"/>
<circle cx="341.8" cy="382.6" r="4.9" fill="#8c58cc" opacity="0.65"/>
<circle cx="315.4" cy="380.7" r="3.7" fill="#8c58cc" opacity="0.65"/>
<circle cx="314.6" cy="347.5" r="3.2" fill="#8c58cc" opacity="0.65"/>
<circle cx="398.4" cy="372.3" r="4.8" fill="#8c58cc" opacity="0.65"/>
<circle cx="333.4" cy="360.6" r="4.7" fill="#8c58cc" opacity="0.65"/>
<circle cx="302.5" cy="309.5" r="3.4" fill="#8c58cc" opacity="0.65"/>
<circle cx="321.9" cy="316.9" r="4.3" fill="#8c58cc" opacity="0.65"/>
<circle cx="349.2" cy="311.5" r="4.1" fill="#8c58cc" opacity="0.65"/>
<circle cx="392.6" cy="350.0" r="5.0" fill="#8c58cc" opacity="0.65"/>
<circle cx="358.5" cy="380.4" r="5.3" fill="#8c58cc" opacity="0.65"/>
<circle cx="355.7" cy="372.2" r="3.4" fill="#8c58cc" opacity="0.65"/>
<circle cx="341.8" cy="309.3" r="5.2" fill="#8c58cc" opacity="0.65"/>
<circle cx="327.5" cy="366.5" r="3.9" fill="#8c58cc" opacity="0.65"/>
<circle cx="383.8" cy="335.9" r="5.2" fill="#8c58cc" opacity="0.65"/>
<circle cx="357.9" cy="345.4" r="3.1" fill="#8c58cc" opacity="0.65"/>
<circle cx="354.8" cy="321.0" r="3.8" fill="#8c58cc" opacity="0.65"/>
<circle cx="359.8" cy="322.5" r="4.0" fill="#8c58cc" opacity="0.65"/>
<circle cx="378.8" cy="367.5" r="3.8" fill="#8c58cc" opacity="0.65"/>
<circle cx="354.7" cy="355.9" r="5.2" fill="#8c58cc" opacity="0.65"/>
<circle cx="377.3" cy="365.1" r="4.3" fill="#8c58cc" opacity="0.65"/>
<circle cx="366.8" cy="307.8" r="4.8" fill="#8c58cc" opacity="0.65"/>
<circle cx="365.4" cy="377.1" r="4.5" fill="#8c58cc" opacity="0.65"/>
<circle cx="354.5" cy="342.4" r="4.1" fill="#8c58cc" opacity="0.65"/>
<circle cx="302.1" cy="345.4" r="5.1" fill="#8c58cc" opacity="0.65"/>
<circle cx="356.8" cy="307.2" r="5.1" fill="#8c58cc" opacity="0.65"/>
<circle cx="388.6" cy="311.4" r="3.3" fill="#8c58cc" opacity="0.65"/>
<circle cx="383.8" cy="353.2" r="3.4" fill="#8c58cc" opacity="0.65"/>
<circle cx="384.5" cy="325.5" r="4.7" fill="#8c58cc" opacity="0.65"/>
<circle cx="351.3" cy="350.2" r="5.0" fill="#8c58cc" opacity="0.65"/>
<circle cx="329.8" cy="349.7" r="5.2" fill="#8c58cc" opacity="0.65"/>
<circle cx="384.6" cy="352.5" r="4.8" fill="#8c58cc" opacity="0.65"/>
<circle cx="371.6" cy="376.9" r="4.1" fill="#8c58cc" opacity="0.65"/>
<circle cx="303.6" cy="318.9" r="4.9" fill="#8c58cc" opacity="0.65"/>
<circle cx="331.5" cy="314.4" r="3.8" fill="#8c58cc" opacity="0.65"/>
<circle cx="374.5" cy="322.3" r="3.9" fill="#8c58cc" opacity="0.65"/>
<circle cx="380.5" cy="368.4" r="5.4" fill="#8c58cc" opacity="0.65"/>
<circle cx="348.7" cy="364.9" r="3.7" fill="#8c58cc" opacity="0.65"/>
<circle cx="308.3" cy="366.4" r="4.4" fill="#8c58cc" opacity="0.65"/>
<circle cx="317.3" cy="377.4" r="5.1" fill="#8c58cc" opacity="0.65"/>
<circle cx="380.1" cy="375.8" r="3.8" fill="#8c58cc" opacity="0.65"/>
<circle cx="384.5" cy="311.7" r="3.9" fill="#8c58cc" opacity="0.65"/>
<circle cx="301.7" cy="339.3" r="4.0" fill="#8c58cc" opacity="0.65"/>
<circle cx="317.1" cy="323.8" r="4.0" fill="#8c58cc" opacity="0.65"/>
<circle cx="303.4" cy="350.4" r="3.9" fill="#8c58cc" opacity="0.65"/>
<circle cx="322.4" cy="325.7" r="4.7" fill="#8c58cc" opacity="0.65"/>
<circle cx="393.2" cy="321.1" r="5.1" fill="#8c58cc" opacity="0.65"/>
<circle cx="345.6" cy="363.8" r="4.4" fill="#8c58cc" opacity="0.65"/>
<circle cx="364.1" cy="362.3" r="4.3" fill="#8c58cc" opacity="0.65"/>
<circle cx="316.4" cy="342.8" r="3.2" fill="#8c58cc" opacity="0.65"/>
<circle cx="383.1" cy="373.5" r="4.8" fill="#8c58cc" opacity="0.65"/>
<circle cx="329.4" cy="351.4" r="5.3" fill="#8c58cc" opacity="0.65"/>
<circle cx="303.3" cy="362.5" r="3.1" fill="#8c58cc" opacity="0.65"/>
<circle cx="382.6" cy="333.2" r="3.1" fill="#8c58cc" opacity="0.65"/>
<circle cx="301.4" cy="374.3" r="4.7" fill="#8c58cc" opacity="0.65"/>
<circle cx="312.9" cy="356.5" r="4.4" fill="#8c58cc" opacity="0.65"/>
<circle cx="343.3" cy="330.9" r="3.6" fill="#8c58cc" opacity="0.65"/>
<circle cx="322.0" cy="306.4" r="5.0" fill="#8c58cc" opacity="0.65"/>
<circle cx="380.6" cy="363.2" r="4.1" fill="#8c58cc" opacity="0.65"/>
<circle cx="320.5" cy="325.1" r="5.0" fill="#8c58cc" opacity="0.65"/>
<circle cx="372.3" cy="320.1" r="4.4" fill="#8c58cc" opacity="0.65"/>
<circle cx="306.5" cy="328.4" r="3.7" fill="#8c58cc" opacity="0.65"/>
<circle cx="344.7" cy="367.4" r="3.8" fill="#8c58cc" opacity="0.65"/>
<circle cx="384.1" cy="337.4" r="5.3" fill="#8c58cc" opacity="0.65"/>
<circle cx="380.6" cy="370.9" r="5.1" fill="#8c58cc" opacity="0.65"/>
<circle cx="304.8" cy="364.0" r="3.7" fill="#8c58cc" opacity="0.65"/>
<circle cx="299.0" cy="371.2" r="3.0" fill="#8c58cc" opacity="0.65"/>
<circle cx="389.4" cy="325.8" r="3.7" fill="#8c58cc" opacity="0.65"/>
<circle cx="377.3" cy="328.2" r="5.3" fill="#8c58cc" opacity="0.65"/>
<circle cx="352.6" cy="319.2" r="4.5" fill="#8c58cc" opacity="0.65"/>
<circle cx="311.7" cy="363.4" r="5.1" fill="#8c58cc" opacity="0.65"/>
<circle cx="338.6" cy="382.0" r="4.3" fill="#8c58cc" opacity="0.65"/>
<circle cx="378.4" cy="341.8" r="5.1" fill="#8c58cc" opacity="0.65"/>
<circle cx="348.9" cy="311.5" r="3.0" fill="#8c58cc" opacity="0.65"/>
<circle cx="355.9" cy="322.4" r="4.6" fill="#8c58cc" opacity="0.65"/>
<circle cx="325.0" cy="357.9" r="3.3" fill="#8c58cc" opacity="0.65"/>
<circle cx="361.9" cy="317.2" r="5.1" fill="#8c58cc" opacity="0.65"/>
<circle cx="363.3" cy="310.7" r="5.2" fill="#8c58cc" opacity="0.65"/>
<circle cx="395.5" cy="371.7" r="4.7" fill="#8c58cc" opacity="0.65"/>
<circle cx="332.5" cy="346.5" r="5.4" fill="#8c58cc" opacity="0.65"/>
<circle cx="313.1" cy="313.5" r="4.8" fill="#8c58cc" opacity="0.65"/>
<circle cx="347.5" cy="309.1" r="4.2" fill="#8c58cc" opacity="0.65"/>
<circle cx="299.3" cy="339.0" r="4.7" fill="#8c58cc" opacity="0.65"/>
<circle cx="339.0" cy="314.7" r="3.2" fill="#8c58cc" opacity="0.65"/>
<circle cx="339.0" cy="366.4" r="3.3" fill="#8c58cc" opacity="0.65"/>
<circle cx="300.0" cy="357.7" r="4.8" fill="#8c58cc" opacity="0.65"/>
<circle cx="347.9" cy="380.2" r="5.4" fill="#8c58cc" opacity="0.65"/>
<circle cx="326.3" cy="326.5" r="4.1" fill="#8c58cc" opacity="0.65"/>
<circle cx="373.8" cy="367.6" r="5.5" fill="#8c58cc" opacity="0.65"/>
<circle cx="297.6" cy="367.4" r="4.0" fill="#8c58cc" opacity="0.65"/>
<g filter="url(#he2)">
<ellipse cx="316" cy="321" rx="10" ry="7" fill="#cea0d6"/>
<ellipse cx="363" cy="322" rx="6" ry="6" fill="#dccbe8"/>
<ellipse cx="387" cy="333" rx="5" ry="3" fill="#d2bae2"/>
<ellipse cx="357" cy="367" rx="9" ry="6" fill="#cea2d4"/>
<ellipse cx="324" cy="354" rx="4" ry="3" fill="#d4b6e0"/>
</g>
<ellipse cx="368.3" cy="309.2" rx="2.54" ry="2.22" fill="#6638b2" transform="rotate(40 368.3 309.2)"/>
<ellipse cx="299.0" cy="310.9" rx="1.92" ry="1.90" fill="#401894" transform="rotate(51 299.0 310.9)"/>
<ellipse cx="386.4" cy="372.5" rx="2.42" ry="2.89" fill="#562ca6" transform="rotate(126 386.4 372.5)"/>
<ellipse cx="395.2" cy="344.7" rx="2.37" ry="3.08" fill="#6638b2" transform="rotate(81 395.2 344.7)"/>
<ellipse cx="357.8" cy="338.9" rx="2.12" ry="2.12" fill="#36128a" transform="rotate(130 357.8 338.9)"/>
<ellipse cx="385.6" cy="337.0" rx="2.13" ry="2.18" fill="#3a168e" transform="rotate(21 385.6 337.0)"/>
<ellipse cx="387.9" cy="310.0" rx="2.21" ry="2.64" fill="#562ca6" transform="rotate(131 387.9 310.0)"/>
<ellipse cx="308.2" cy="354.1" rx="2.84" ry="2.82" fill="#562ca6" transform="rotate(16 308.2 354.1)"/>
<ellipse cx="304.4" cy="378.0" rx="1.78" ry="2.15" fill="#3a168e" transform="rotate(160 304.4 378.0)"/>
<ellipse cx="313.7" cy="374.9" rx="2.30" ry="2.18" fill="#36128a" transform="rotate(77 313.7 374.9)"/>
<ellipse cx="393.7" cy="373.5" rx="2.19" ry="2.29" fill="#3a168e" transform="rotate(41 393.7 373.5)"/>
<ellipse cx="323.7" cy="362.8" rx="2.12" ry="2.28" fill="#36128a" transform="rotate(92 323.7 362.8)"/>
<ellipse cx="352.8" cy="321.9" rx="1.98" ry="1.80" fill="#401894" transform="rotate(83 352.8 321.9)"/>
<ellipse cx="336.2" cy="325.1" rx="2.56" ry="2.14" fill="#3a168e" transform="rotate(18 336.2 325.1)"/>
<ellipse cx="346.3" cy="311.3" rx="2.67" ry="2.42" fill="#6638b2" transform="rotate(162 346.3 311.3)"/>
<ellipse cx="389.9" cy="317.5" rx="2.91" ry="2.53" fill="#4a209c" transform="rotate(127 389.9 317.5)"/>
<ellipse cx="390.3" cy="359.9" rx="2.47" ry="2.27" fill="#562ca6" transform="rotate(136 390.3 359.9)"/>
<ellipse cx="373.4" cy="373.6" rx="1.82" ry="2.36" fill="#562ca6" transform="rotate(83 373.4 373.6)"/>
<ellipse cx="319.8" cy="356.6" rx="2.54" ry="3.22" fill="#36128a" transform="rotate(150 319.8 356.6)"/>
<ellipse cx="325.2" cy="312.4" rx="2.06" ry="1.72" fill="#6638b2" transform="rotate(43 325.2 312.4)"/>
<ellipse cx="301.8" cy="370.1" rx="2.84" ry="2.48" fill="#4a209c" transform="rotate(44 301.8 370.1)"/>
<ellipse cx="395.1" cy="322.4" rx="2.00" ry="2.33" fill="#562ca6" transform="rotate(57 395.1 322.4)"/>
<ellipse cx="371.7" cy="344.1" rx="2.73" ry="2.67" fill="#3a168e" transform="rotate(70 371.7 344.1)"/>
<ellipse cx="365.6" cy="331.7" rx="1.94" ry="1.86" fill="#401894" transform="rotate(86 365.6 331.7)"/>
<ellipse cx="343.4" cy="324.3" rx="2.46" ry="2.51" fill="#3a168e" transform="rotate(177 343.4 324.3)"/>
<ellipse cx="322.9" cy="344.2" rx="2.47" ry="2.53" fill="#562ca6" transform="rotate(128 322.9 344.2)"/>
<ellipse cx="322.3" cy="338.4" rx="2.56" ry="2.23" fill="#3a168e" transform="rotate(106 322.3 338.4)"/>
<ellipse cx="386.2" cy="347.1" rx="2.69" ry="3.29" fill="#3a168e" transform="rotate(168 386.2 347.1)"/>
<ellipse cx="398.3" cy="331.9" rx="2.59" ry="2.67" fill="#6638b2" transform="rotate(131 398.3 331.9)"/>
<ellipse cx="302.3" cy="345.2" rx="2.30" ry="2.90" fill="#4a209c" transform="rotate(41 302.3 345.2)"/>
<ellipse cx="360.7" cy="380.1" rx="2.71" ry="2.72" fill="#3a168e" transform="rotate(38 360.7 380.1)"/>
<ellipse cx="336.1" cy="333.0" rx="2.15" ry="2.19" fill="#562ca6" transform="rotate(66 336.1 333.0)"/>
<ellipse cx="338.4" cy="348.4" rx="2.86" ry="2.45" fill="#562ca6" transform="rotate(92 338.4 348.4)"/>
<ellipse cx="314.1" cy="334.3" rx="2.21" ry="2.22" fill="#36128a" transform="rotate(3 314.1 334.3)"/>
<ellipse cx="354.0" cy="358.4" rx="2.34" ry="2.64" fill="#562ca6" transform="rotate(57 354.0 358.4)"/>
<ellipse cx="351.2" cy="333.1" rx="1.92" ry="2.45" fill="#562ca6" transform="rotate(10 351.2 333.1)"/>
<ellipse cx="328.7" cy="335.0" rx="2.42" ry="2.38" fill="#562ca6" transform="rotate(148 328.7 335.0)"/>
<ellipse cx="341.2" cy="361.0" rx="2.86" ry="2.68" fill="#4a209c" transform="rotate(146 341.2 361.0)"/>
<ellipse cx="371.2" cy="361.2" rx="2.41" ry="2.36" fill="#3a168e" transform="rotate(45 371.2 361.2)"/>
<ellipse cx="319.7" cy="349.3" rx="2.40" ry="2.66" fill="#3a168e" transform="rotate(52 319.7 349.3)"/>
<ellipse cx="338.0" cy="308.5" rx="2.63" ry="2.10" fill="#4a209c" transform="rotate(4 338.0 308.5)"/>
<ellipse cx="333.5" cy="372.0" rx="3.21" ry="2.69" fill="#6638b2" transform="rotate(5 333.5 372.0)"/>
<ellipse cx="379.2" cy="317.0" rx="2.15" ry="2.45" fill="#562ca6" transform="rotate(132 379.2 317.0)"/>
<ellipse cx="330.8" cy="354.7" rx="2.08" ry="2.09" fill="#6638b2" transform="rotate(114 330.8 354.7)"/>
<ellipse cx="323.9" cy="375.2" rx="2.31" ry="2.20" fill="#36128a" transform="rotate(37 323.9 375.2)"/>
<ellipse cx="353.5" cy="344.9" rx="3.12" ry="3.15" fill="#3a168e" transform="rotate(63 353.5 344.9)"/>
<ellipse cx="342.8" cy="378.7" rx="2.42" ry="2.40" fill="#3a168e" transform="rotate(48 342.8 378.7)"/>
<ellipse cx="376.0" cy="335.7" rx="1.95" ry="2.27" fill="#6638b2" transform="rotate(162 376.0 335.7)"/>
<ellipse cx="367.3" cy="378.9" rx="1.65" ry="1.63" fill="#6638b2" transform="rotate(21 367.3 378.9)"/>
<ellipse cx="394.9" cy="351.7" rx="2.42" ry="2.15" fill="#4a209c" transform="rotate(146 394.9 351.7)"/>
<ellipse cx="339.7" cy="317.1" rx="2.21" ry="2.42" fill="#6638b2" transform="rotate(124 339.7 317.1)"/>
<ellipse cx="347.4" cy="372.6" rx="1.83" ry="1.77" fill="#3a168e" transform="rotate(121 347.4 372.6)"/>
<ellipse cx="306.5" cy="362.6" rx="3.02" ry="3.30" fill="#4a209c" transform="rotate(164 306.5 362.6)"/>
<ellipse cx="380.1" cy="377.9" rx="2.02" ry="2.12" fill="#4a209c" transform="rotate(41 380.1 377.9)"/>
<ellipse cx="396.1" cy="311.4" rx="2.21" ry="2.44" fill="#3a168e" transform="rotate(53 396.1 311.4)"/>
<ellipse cx="301.9" cy="320.4" rx="2.18" ry="2.48" fill="#3a168e" transform="rotate(35 301.9 320.4)"/>
<ellipse cx="344.5" cy="350.7" rx="2.35" ry="2.51" fill="#401894" transform="rotate(24 344.5 350.7)"/>
<ellipse cx="309.1" cy="343.3" rx="2.51" ry="2.72" fill="#401894" transform="rotate(35 309.1 343.3)"/>
<ellipse cx="309.4" cy="381.3" rx="2.23" ry="2.09" fill="#562ca6" transform="rotate(90 309.4 381.3)"/>
<ellipse cx="379.6" cy="352.8" rx="2.11" ry="2.04" fill="#36128a" transform="rotate(1 379.6 352.8)"/>
<ellipse cx="362.6" cy="373.9" rx="3.24" ry="2.84" fill="#3a168e" transform="rotate(66 362.6 373.9)"/>
<ellipse cx="371.1" cy="350.8" rx="1.83" ry="1.99" fill="#36128a" transform="rotate(102 371.1 350.8)"/>
<ellipse cx="372.1" cy="318.5" rx="2.59" ry="3.01" fill="#401894" transform="rotate(80 372.1 318.5)"/>
<ellipse cx="397.7" cy="338.6" rx="1.79" ry="1.87" fill="#6638b2" transform="rotate(109 397.7 338.6)"/>
<ellipse cx="345.7" cy="317.7" rx="2.41" ry="2.38" fill="#3a168e" transform="rotate(39 345.7 317.7)"/>
<ellipse cx="323.2" cy="329.0" rx="2.56" ry="2.74" fill="#401894" transform="rotate(79 323.2 329.0)"/>
<ellipse cx="386.9" cy="366.4" rx="1.74" ry="1.90" fill="#401894" transform="rotate(72 386.9 366.4)"/>
<ellipse cx="397.8" cy="358.9" rx="3.21" ry="2.91" fill="#6638b2" transform="rotate(91 397.8 358.9)"/>
<ellipse cx="330.1" cy="319.9" rx="2.79" ry="2.23" fill="#36128a" transform="rotate(145 330.1 319.9)"/>
<ellipse cx="331.5" cy="341.9" rx="2.35" ry="2.03" fill="#401894" transform="rotate(116 331.5 341.9)"/>
<ellipse cx="331.1" cy="379.2" rx="2.47" ry="2.15" fill="#3a168e" transform="rotate(171 331.1 379.2)"/>
<ellipse cx="378.5" cy="367.4" rx="2.58" ry="2.77" fill="#401894" transform="rotate(46 378.5 367.4)"/>
<ellipse cx="338.4" cy="355.5" rx="2.53" ry="2.19" fill="#6638b2" transform="rotate(57 338.4 355.5)"/>
<ellipse cx="353.6" cy="316.9" rx="2.21" ry="2.20" fill="#36128a" transform="rotate(64 353.6 316.9)"/>
<ellipse cx="377.7" cy="330.7" rx="1.91" ry="2.33" fill="#4a209c" transform="rotate(4 377.7 330.7)"/>
<ellipse cx="311.8" cy="366.7" rx="2.49" ry="2.95" fill="#6638b2" transform="rotate(22 311.8 366.7)"/>
<ellipse cx="383.6" cy="323.3" rx="3.06" ry="2.85" fill="#3a168e" transform="rotate(75 383.6 323.3)"/>
<ellipse cx="314.7" cy="309.3" rx="1.70" ry="2.24" fill="#401894" transform="rotate(111 314.7 309.3)"/>
<ellipse cx="301.6" cy="329.6" rx="3.09" ry="3.18" fill="#6638b2" transform="rotate(37 301.6 329.6)"/>
<ellipse cx="299.0" cy="363.9" rx="2.55" ry="2.32" fill="#401894" transform="rotate(8 299.0 363.9)"/>
<ellipse cx="350.9" cy="377.0" rx="1.83" ry="2.06" fill="#4a209c" transform="rotate(115 350.9 377.0)"/>
<ellipse cx="389.2" cy="326.8" rx="1.97" ry="1.95" fill="#6638b2" transform="rotate(115 389.2 326.8)"/>
<ellipse cx="309.6" cy="372.2" rx="2.08" ry="2.01" fill="#6638b2" transform="rotate(32 309.6 372.2)"/>
<ellipse cx="322.2" cy="381.8" rx="1.71" ry="1.95" fill="#562ca6" transform="rotate(19 322.2 381.8)"/>
<ellipse cx="371.0" cy="327.0" rx="2.83" ry="3.03" fill="#3a168e" transform="rotate(40 371.0 327.0)"/>
<ellipse cx="362.9" cy="354.0" rx="2.40" ry="2.60" fill="#562ca6" transform="rotate(85 362.9 354.0)"/>
<ellipse cx="383.2" cy="361.0" rx="2.70" ry="2.73" fill="#36128a" transform="rotate(149 383.2 361.0)"/>
<ellipse cx="344.0" cy="334.9" rx="2.45" ry="2.11" fill="#6638b2" transform="rotate(29 344.0 334.9)"/>
<ellipse cx="368.5" cy="371.1" rx="2.40" ry="2.14" fill="#3a168e" transform="rotate(134 368.5 371.1)"/>
<ellipse cx="315.9" cy="345.7" rx="2.28" ry="1.91" fill="#6638b2" transform="rotate(7 315.9 345.7)"/>
<ellipse cx="374.2" cy="379.2" rx="2.34" ry="3.05" fill="#36128a" transform="rotate(73 374.2 379.2)"/>
<ellipse cx="308.4" cy="330.8" rx="2.43" ry="2.71" fill="#562ca6" transform="rotate(80 308.4 330.8)"/>
<ellipse cx="377.1" cy="342.7" rx="2.49" ry="2.54" fill="#3a168e" transform="rotate(61 377.1 342.7)"/>
<ellipse cx="330.6" cy="308.4" rx="2.06" ry="2.27" fill="#36128a" transform="rotate(113 330.6 308.4)"/>
<ellipse cx="362.5" cy="314.2" rx="2.65" ry="2.94" fill="#36128a" transform="rotate(50 362.5 314.2)"/>
<ellipse cx="306.0" cy="337.2" rx="2.46" ry="2.05" fill="#4a209c" transform="rotate(38 306.0 337.2)"/>
<ellipse cx="392.3" cy="330.6" rx="2.15" ry="2.18" fill="#4a209c" transform="rotate(0 392.3 330.6)"/>
<ellipse cx="377.1" cy="308.5" rx="2.30" ry="3.10" fill="#4a209c" transform="rotate(63 377.1 308.5)"/>
<ellipse cx="356.8" cy="332.7" rx="2.12" ry="2.28" fill="#4a209c" transform="rotate(158 356.8 332.7)"/>
<ellipse cx="389.7" cy="380.5" rx="2.31" ry="2.45" fill="#4a209c" transform="rotate(126 389.7 380.5)"/>
<ellipse cx="329.8" cy="328.8" rx="1.78" ry="1.72" fill="#562ca6" transform="rotate(156 329.8 328.8)"/>
<ellipse cx="395.5" cy="366.8" rx="2.91" ry="2.60" fill="#6638b2" transform="rotate(169 395.5 366.8)"/>
<ellipse cx="317.0" cy="363.6" rx="2.26" ry="2.84" fill="#401894" transform="rotate(141 317.0 363.6)"/>
<ellipse cx="313.6" cy="340.1" rx="2.44" ry="2.26" fill="#3a168e" transform="rotate(56 313.6 340.1)"/>
<ellipse cx="336.2" cy="377.8" rx="2.36" ry="2.05" fill="#3a168e" transform="rotate(43 336.2 377.8)"/>
<ellipse cx="364.7" cy="361.3" rx="3.09" ry="2.86" fill="#401894" transform="rotate(103 364.7 361.3)"/>
<ellipse cx="320.7" cy="309.7" rx="2.25" ry="2.29" fill="#4a209c" transform="rotate(27 320.7 309.7)"/>
<ellipse cx="343.4" cy="344.6" rx="3.19" ry="3.20" fill="#401894" transform="rotate(73 343.4 344.6)"/>
<ellipse cx="298.8" cy="335.3" rx="2.23" ry="2.11" fill="#3a168e" transform="rotate(110 298.8 335.3)"/>
<ellipse cx="329.3" cy="348.6" rx="2.42" ry="2.57" fill="#6638b2" transform="rotate(75 329.3 348.6)"/>
<ellipse cx="336.3" cy="363.9" rx="2.44" ry="1.87" fill="#3a168e" transform="rotate(0 336.3 363.9)"/>
<ellipse cx="391.2" cy="335.9" rx="2.11" ry="1.79" fill="#6638b2" transform="rotate(30 391.2 335.9)"/>
<ellipse cx="300.8" cy="351.3" rx="2.11" ry="2.36" fill="#562ca6" transform="rotate(26 300.8 351.3)"/>
<ellipse cx="314.6" cy="351.6" rx="2.01" ry="2.19" fill="#562ca6" transform="rotate(137 314.6 351.6)"/>
<ellipse cx="397.5" cy="379.7" rx="2.34" ry="1.87" fill="#36128a" transform="rotate(94 397.5 379.7)"/>
<ellipse cx="353.2" cy="352.0" rx="2.91" ry="2.55" fill="#562ca6" transform="rotate(137 353.2 352.0)"/>
<ellipse cx="365.5" cy="346.9" rx="3.30" ry="2.77" fill="#401894" transform="rotate(24 365.5 346.9)"/>
<ellipse cx="365.0" cy="337.6" rx="1.99" ry="2.53" fill="#3a168e" transform="rotate(125 365.0 337.6)"/>
<ellipse cx="300.4" cy="357.0" rx="3.24" ry="2.94" fill="#401894" transform="rotate(53 300.4 357.0)"/>
<ellipse cx="314.9" cy="329.0" rx="2.08" ry="2.22" fill="#6638b2" transform="rotate(47 314.9 329.0)"/>
<ellipse cx="348.5" cy="328.4" rx="2.24" ry="2.36" fill="#401894" transform="rotate(98 348.5 328.4)"/>
<ellipse cx="355.0" cy="310.1" rx="3.21" ry="2.71" fill="#6638b2" transform="rotate(173 355.0 310.1)"/>
<ellipse cx="318.4" cy="370.0" rx="3.35" ry="2.87" fill="#6638b2" transform="rotate(148 318.4 370.0)"/>
<ellipse cx="339.0" cy="370.0" rx="1.95" ry="2.25" fill="#562ca6" transform="rotate(84 339.0 370.0)"/>
<ellipse cx="313.5" cy="357.5" rx="1.67" ry="1.85" fill="#36128a" transform="rotate(16 313.5 357.5)"/>
<ellipse cx="370.7" cy="335.6" rx="2.32" ry="1.71" fill="#4a209c" transform="rotate(114 370.7 335.6)"/>
<ellipse cx="346.0" cy="366.1" rx="2.25" ry="2.16" fill="#401894" transform="rotate(138 346.0 366.1)"/>
<ellipse cx="306.7" cy="312.2" rx="2.79" ry="2.43" fill="#3a168e" transform="rotate(137 306.7 312.2)"/>
<ellipse cx="347.2" cy="356.2" rx="2.79" ry="2.55" fill="#401894" transform="rotate(58 347.2 356.2)"/>
<ellipse cx="398.3" cy="326.8" rx="1.97" ry="2.03" fill="#3a168e" transform="rotate(150 398.3 326.8)"/>
<ellipse cx="298.8" cy="381.0" rx="3.35" ry="3.20" fill="#6638b2" transform="rotate(168 298.8 381.0)"/>
<ellipse cx="316.9" cy="379.8" rx="2.48" ry="2.19" fill="#4a209c" transform="rotate(15 316.9 379.8)"/>
<ellipse cx="389.4" cy="353.3" rx="2.10" ry="2.16" fill="#36128a" transform="rotate(135 389.4 353.3)"/>
<ellipse cx="327.8" cy="367.4" rx="3.43" ry="2.64" fill="#562ca6" transform="rotate(111 327.8 367.4)"/>
<ellipse cx="372.3" cy="312.4" rx="1.79" ry="2.11" fill="#401894" transform="rotate(62 372.3 312.4)"/>
<ellipse cx="329.1" cy="360.4" rx="2.82" ry="2.39" fill="#6638b2" transform="rotate(18 329.1 360.4)"/>
<ellipse cx="383.9" cy="314.9" rx="2.04" ry="1.91" fill="#4a209c" transform="rotate(27 383.9 314.9)"/>
<ellipse cx="350.2" cy="339.1" rx="2.79" ry="2.61" fill="#6638b2" transform="rotate(165 350.2 339.1)"/>
<ellipse cx="301.2" cy="315.3" rx="1.89" ry="2.18" fill="#36128a" transform="rotate(98 301.2 315.3)"/>
<ellipse cx="337.9" cy="342.2" rx="2.41" ry="2.16" fill="#3a168e" transform="rotate(110 337.9 342.2)"/>
<ellipse cx="355.1" cy="381.2" rx="1.92" ry="2.29" fill="#6638b2" transform="rotate(42 355.1 381.2)"/>
<ellipse cx="334.1" cy="314.5" rx="2.81" ry="2.96" fill="#36128a" transform="rotate(173 334.1 314.5)"/>
<ellipse cx="354.1" cy="328.0" rx="2.44" ry="1.97" fill="#562ca6" transform="rotate(111 354.1 328.0)"/>
<ellipse cx="383.3" cy="329.6" rx="2.28" ry="2.14" fill="#3a168e" transform="rotate(88 383.3 329.6)"/>
<ellipse cx="340.5" cy="329.7" rx="2.74" ry="2.52" fill="#562ca6" transform="rotate(15 340.5 329.7)"/>
<ellipse cx="376.7" cy="360.0" rx="2.44" ry="2.41" fill="#401894" transform="rotate(21 376.7 360.0)"/>
<ellipse cx="376.3" cy="323.6" rx="2.14" ry="2.00" fill="#3a168e" transform="rotate(8 376.3 323.6)"/>
<ellipse cx="389.3" cy="341.3" rx="2.53" ry="2.61" fill="#4a209c" transform="rotate(23 389.3 341.3)"/>
<ellipse cx="397.3" cy="317.6" rx="2.18" ry="2.37" fill="#4a209c" transform="rotate(119 397.3 317.6)"/>
<ellipse cx="355.4" cy="374.0" rx="2.82" ry="2.61" fill="#6638b2" transform="rotate(133 355.4 374.0)"/>
</g>
<line x1="343.90" y1="312.00" x2="353.65" y2="317.57" stroke="#000" stroke-width="1.8"/>
<polygon points="357.90,320.00 351.67,320.01 353.91,317.72 354.75,314.63" fill="#000"/>
<line x1="318.00" y1="330.00" x2="326.81" y2="335.36" stroke="#000" stroke-width="1.8"/>
<polygon points="331.00,337.90 324.78,337.74 327.07,335.51 328.00,332.45" fill="#000"/>
<line x1="314.00" y1="335.00" x2="321.91" y2="340.21" stroke="#000" stroke-width="1.8"/>
<polygon points="326.00,342.90 319.79,342.52 322.16,340.37 323.19,337.34" fill="#000"/>
<line x1="309.00" y1="339.90" x2="316.92" y2="345.18" stroke="#000" stroke-width="1.8"/>
<polygon points="321.00,347.90 314.79,347.48 317.17,345.35 318.23,342.33" fill="#000"/>
<line x1="342.90" y1="335.90" x2="352.52" y2="340.71" stroke="#000" stroke-width="1.8"/>
<polygon points="356.90,342.90 350.68,343.26 352.79,340.84 353.46,337.71" fill="#000"/>
<line x1="332.90" y1="364.90" x2="342.52" y2="360.09" stroke="#000" stroke-width="1.8"/>
<polygon points="346.90,357.90 343.46,363.09 342.79,359.96 340.68,357.54" fill="#000"/>
</g>
<rect x="399.90" y="307.20" width="95.90" height="72.60" fill="#bc86dc"/>
<g clip-path="url(#ch2)"><g filter="url(#he)">
<rect x="399.9" y="307.2" width="95.90000000000003" height="2.5" fill="#b49ad8"/>
<circle cx="488.7" cy="367.2" r="5.4" fill="#8c58cc" opacity="0.65"/>
<circle cx="454.2" cy="310.8" r="4.3" fill="#8c58cc" opacity="0.65"/>
<circle cx="428.8" cy="325.9" r="4.3" fill="#8c58cc" opacity="0.65"/>
<circle cx="422.8" cy="311.3" r="3.4" fill="#8c58cc" opacity="0.65"/>
<circle cx="461.2" cy="373.2" r="5.3" fill="#8c58cc" opacity="0.65"/>
<circle cx="470.4" cy="367.4" r="4.4" fill="#8c58cc" opacity="0.65"/>
<circle cx="429.6" cy="379.6" r="4.7" fill="#8c58cc" opacity="0.65"/>
<circle cx="427.7" cy="325.8" r="3.7" fill="#8c58cc" opacity="0.65"/>
<circle cx="423.3" cy="310.4" r="4.1" fill="#8c58cc" opacity="0.65"/>
<circle cx="488.8" cy="360.3" r="3.7" fill="#8c58cc" opacity="0.65"/>
<circle cx="441.2" cy="345.2" r="3.3" fill="#8c58cc" opacity="0.65"/>
<circle cx="492.9" cy="336.2" r="4.1" fill="#8c58cc" opacity="0.65"/>
<circle cx="415.5" cy="305.2" r="3.6" fill="#8c58cc" opacity="0.65"/>
<circle cx="403.9" cy="364.9" r="3.3" fill="#8c58cc" opacity="0.65"/>
<circle cx="460.1" cy="311.6" r="4.0" fill="#8c58cc" opacity="0.65"/>
<circle cx="474.3" cy="354.0" r="4.9" fill="#8c58cc" opacity="0.65"/>
<circle cx="420.3" cy="310.1" r="4.5" fill="#8c58cc" opacity="0.65"/>
<circle cx="432.7" cy="349.5" r="4.5" fill="#8c58cc" opacity="0.65"/>
<circle cx="411.2" cy="339.2" r="4.5" fill="#8c58cc" opacity="0.65"/>
<circle cx="398.7" cy="342.8" r="4.2" fill="#8c58cc" opacity="0.65"/>
<circle cx="410.5" cy="374.3" r="3.8" fill="#8c58cc" opacity="0.65"/>
<circle cx="480.5" cy="347.9" r="5.5" fill="#8c58cc" opacity="0.65"/>
<circle cx="437.8" cy="354.9" r="4.7" fill="#8c58cc" opacity="0.65"/>
<circle cx="469.8" cy="336.9" r="3.8" fill="#8c58cc" opacity="0.65"/>
<circle cx="441.9" cy="334.8" r="4.8" fill="#8c58cc" opacity="0.65"/>
<circle cx="486.0" cy="368.7" r="5.4" fill="#8c58cc" opacity="0.65"/>
<circle cx="415.9" cy="327.5" r="4.0" fill="#8c58cc" opacity="0.65"/>
<circle cx="459.2" cy="306.5" r="4.6" fill="#8c58cc" opacity="0.65"/>
<circle cx="481.0" cy="362.4" r="4.0" fill="#8c58cc" opacity="0.65"/>
<circle cx="481.8" cy="337.3" r="5.5" fill="#8c58cc" opacity="0.65"/>
<circle cx="453.9" cy="381.2" r="3.9" fill="#8c58cc" opacity="0.65"/>
<circle cx="437.9" cy="306.1" r="5.2" fill="#8c58cc" opacity="0.65"/>
<circle cx="487.7" cy="333.9" r="3.1" fill="#8c58cc" opacity="0.65"/>
<circle cx="482.8" cy="306.1" r="4.3" fill="#8c58cc" opacity="0.65"/>
<circle cx="434.8" cy="323.0" r="4.7" fill="#8c58cc" opacity="0.65"/>
<circle cx="422.0" cy="316.2" r="5.4" fill="#8c58cc" opacity="0.65"/>
<circle cx="465.8" cy="343.4" r="3.5" fill="#8c58cc" opacity="0.65"/>
<circle cx="446.3" cy="304.5" r="3.9" fill="#8c58cc" opacity="0.65"/>
<circle cx="449.3" cy="371.5" r="4.6" fill="#8c58cc" opacity="0.65"/>
<circle cx="424.2" cy="343.4" r="3.4" fill="#8c58cc" opacity="0.65"/>
<circle cx="486.9" cy="325.7" r="5.1" fill="#8c58cc" opacity="0.65"/>
<circle cx="404.7" cy="335.2" r="3.2" fill="#8c58cc" opacity="0.65"/>
<circle cx="484.0" cy="327.9" r="4.8" fill="#8c58cc" opacity="0.65"/>
<circle cx="494.2" cy="304.2" r="4.0" fill="#8c58cc" opacity="0.65"/>
<circle cx="408.1" cy="318.7" r="3.7" fill="#8c58cc" opacity="0.65"/>
<circle cx="414.3" cy="330.3" r="4.5" fill="#8c58cc" opacity="0.65"/>
<circle cx="437.8" cy="340.4" r="5.0" fill="#8c58cc" opacity="0.65"/>
<circle cx="459.2" cy="370.8" r="3.2" fill="#8c58cc" opacity="0.65"/>
<circle cx="431.3" cy="332.9" r="3.3" fill="#8c58cc" opacity="0.65"/>
<circle cx="438.2" cy="380.2" r="3.7" fill="#8c58cc" opacity="0.65"/>
<circle cx="487.2" cy="369.8" r="3.8" fill="#8c58cc" opacity="0.65"/>
<circle cx="409.2" cy="376.0" r="3.0" fill="#8c58cc" opacity="0.65"/>
<circle cx="455.1" cy="378.6" r="4.9" fill="#8c58cc" opacity="0.65"/>
<circle cx="433.6" cy="371.9" r="5.4" fill="#8c58cc" opacity="0.65"/>
<circle cx="429.6" cy="353.7" r="5.0" fill="#8c58cc" opacity="0.65"/>
<circle cx="409.7" cy="331.1" r="4.0" fill="#8c58cc" opacity="0.65"/>
<circle cx="407.0" cy="370.6" r="3.4" fill="#8c58cc" opacity="0.65"/>
<circle cx="447.7" cy="367.3" r="4.9" fill="#8c58cc" opacity="0.65"/>
<circle cx="430.2" cy="340.9" r="3.1" fill="#8c58cc" opacity="0.65"/>
<circle cx="468.3" cy="315.3" r="5.4" fill="#8c58cc" opacity="0.65"/>
<circle cx="414.1" cy="344.1" r="5.1" fill="#8c58cc" opacity="0.65"/>
<circle cx="486.3" cy="347.1" r="3.1" fill="#8c58cc" opacity="0.65"/>
<circle cx="422.7" cy="311.5" r="3.7" fill="#8c58cc" opacity="0.65"/>
<circle cx="438.3" cy="323.9" r="4.4" fill="#8c58cc" opacity="0.65"/>
<circle cx="467.7" cy="322.7" r="4.0" fill="#8c58cc" opacity="0.65"/>
<circle cx="493.8" cy="312.6" r="4.1" fill="#8c58cc" opacity="0.65"/>
<circle cx="484.8" cy="363.4" r="4.2" fill="#8c58cc" opacity="0.65"/>
<circle cx="457.5" cy="367.6" r="5.0" fill="#8c58cc" opacity="0.65"/>
<circle cx="428.2" cy="311.8" r="3.2" fill="#8c58cc" opacity="0.65"/>
<circle cx="450.2" cy="314.2" r="3.1" fill="#8c58cc" opacity="0.65"/>
<circle cx="413.8" cy="367.1" r="3.6" fill="#8c58cc" opacity="0.65"/>
<circle cx="447.2" cy="349.1" r="4.9" fill="#8c58cc" opacity="0.65"/>
<circle cx="475.9" cy="307.7" r="4.0" fill="#8c58cc" opacity="0.65"/>
<circle cx="443.8" cy="310.3" r="4.9" fill="#8c58cc" opacity="0.65"/>
<circle cx="457.5" cy="315.8" r="3.7" fill="#8c58cc" opacity="0.65"/>
<circle cx="437.9" cy="381.3" r="3.4" fill="#8c58cc" opacity="0.65"/>
<circle cx="400.3" cy="330.4" r="3.2" fill="#8c58cc" opacity="0.65"/>
<circle cx="401.9" cy="364.0" r="4.3" fill="#8c58cc" opacity="0.65"/>
<circle cx="398.5" cy="319.4" r="4.1" fill="#8c58cc" opacity="0.65"/>
<circle cx="484.8" cy="365.9" r="3.0" fill="#8c58cc" opacity="0.65"/>
<circle cx="468.9" cy="376.6" r="3.4" fill="#8c58cc" opacity="0.65"/>
<circle cx="467.5" cy="360.7" r="3.4" fill="#8c58cc" opacity="0.65"/>
<circle cx="466.7" cy="361.8" r="4.8" fill="#8c58cc" opacity="0.65"/>
<circle cx="490.5" cy="379.2" r="3.1" fill="#8c58cc" opacity="0.65"/>
<circle cx="427.4" cy="378.9" r="5.0" fill="#8c58cc" opacity="0.65"/>
<circle cx="468.4" cy="314.8" r="3.3" fill="#8c58cc" opacity="0.65"/>
<circle cx="474.0" cy="319.7" r="4.2" fill="#8c58cc" opacity="0.65"/>
<circle cx="452.0" cy="380.5" r="4.4" fill="#8c58cc" opacity="0.65"/>
<circle cx="498.8" cy="381.8" r="4.0" fill="#8c58cc" opacity="0.65"/>
<circle cx="427.2" cy="329.7" r="3.6" fill="#8c58cc" opacity="0.65"/>
<circle cx="496.2" cy="321.5" r="5.4" fill="#8c58cc" opacity="0.65"/>
<circle cx="466.8" cy="362.7" r="4.3" fill="#8c58cc" opacity="0.65"/>
<circle cx="475.6" cy="338.2" r="5.5" fill="#8c58cc" opacity="0.65"/>
<circle cx="474.1" cy="322.3" r="5.5" fill="#8c58cc" opacity="0.65"/>
<circle cx="415.6" cy="348.7" r="3.3" fill="#8c58cc" opacity="0.65"/>
<circle cx="412.5" cy="372.3" r="3.1" fill="#8c58cc" opacity="0.65"/>
<circle cx="448.6" cy="327.0" r="4.1" fill="#8c58cc" opacity="0.65"/>
<circle cx="423.1" cy="355.2" r="4.3" fill="#8c58cc" opacity="0.65"/>
<circle cx="496.3" cy="313.4" r="4.1" fill="#8c58cc" opacity="0.65"/>
<circle cx="430.2" cy="357.3" r="4.1" fill="#8c58cc" opacity="0.65"/>
<g filter="url(#he2)">
<ellipse cx="414" cy="333" rx="8" ry="8" fill="#ceA6dc"/>
<ellipse cx="447" cy="313" rx="12" ry="4" fill="#d2b8e2"/>
<ellipse cx="472" cy="344" rx="5" ry="4" fill="#ceaedc"/>
<ellipse cx="482" cy="318" rx="4" ry="3" fill="#d2b8e2"/>
</g>
<ellipse cx="430.6" cy="370.5" rx="2.80" ry="2.87" fill="#4a209c" transform="rotate(77 430.6 370.5)"/>
<ellipse cx="448.8" cy="341.4" rx="2.42" ry="2.57" fill="#36128a" transform="rotate(22 448.8 341.4)"/>
<ellipse cx="453.7" cy="357.8" rx="2.48" ry="2.39" fill="#3a168e" transform="rotate(80 453.7 357.8)"/>
<ellipse cx="411.4" cy="358.7" rx="2.49" ry="2.69" fill="#4a209c" transform="rotate(56 411.4 358.7)"/>
<ellipse cx="422.7" cy="370.1" rx="2.13" ry="2.25" fill="#6638b2" transform="rotate(86 422.7 370.1)"/>
<ellipse cx="472.4" cy="311.5" rx="2.25" ry="2.62" fill="#36128a" transform="rotate(29 472.4 311.5)"/>
<ellipse cx="496.4" cy="355.8" rx="2.25" ry="2.13" fill="#4a209c" transform="rotate(42 496.4 355.8)"/>
<ellipse cx="398.1" cy="317.0" rx="3.38" ry="2.58" fill="#562ca6" transform="rotate(47 398.1 317.0)"/>
<ellipse cx="483.3" cy="372.9" rx="2.29" ry="1.84" fill="#36128a" transform="rotate(84 483.3 372.9)"/>
<ellipse cx="454.9" cy="329.1" rx="2.95" ry="2.51" fill="#4a209c" transform="rotate(143 454.9 329.1)"/>
<ellipse cx="408.0" cy="364.9" rx="1.93" ry="2.32" fill="#401894" transform="rotate(177 408.0 364.9)"/>
<ellipse cx="477.7" cy="374.1" rx="2.68" ry="3.31" fill="#6638b2" transform="rotate(26 477.7 374.1)"/>
<ellipse cx="488.3" cy="327.7" rx="2.85" ry="2.63" fill="#562ca6" transform="rotate(67 488.3 327.7)"/>
<ellipse cx="465.7" cy="368.9" rx="2.70" ry="2.94" fill="#401894" transform="rotate(97 465.7 368.9)"/>
<ellipse cx="405.9" cy="310.7" rx="2.93" ry="3.09" fill="#4a209c" transform="rotate(122 405.9 310.7)"/>
<ellipse cx="453.8" cy="335.4" rx="2.96" ry="3.29" fill="#401894" transform="rotate(100 453.8 335.4)"/>
<ellipse cx="494.7" cy="374.3" rx="2.32" ry="1.90" fill="#4a209c" transform="rotate(44 494.7 374.3)"/>
<ellipse cx="431.5" cy="357.3" rx="2.67" ry="2.39" fill="#4a209c" transform="rotate(100 431.5 357.3)"/>
<ellipse cx="497.0" cy="315.9" rx="2.75" ry="2.63" fill="#3a168e" transform="rotate(14 497.0 315.9)"/>
<ellipse cx="489.2" cy="367.7" rx="2.45" ry="1.98" fill="#401894" transform="rotate(83 489.2 367.7)"/>
<ellipse cx="403.9" cy="377.4" rx="2.60" ry="2.15" fill="#3a168e" transform="rotate(103 403.9 377.4)"/>
<ellipse cx="456.1" cy="368.7" rx="2.64" ry="2.34" fill="#36128a" transform="rotate(104 456.1 368.7)"/>
<ellipse cx="426.9" cy="352.4" rx="2.35" ry="2.90" fill="#401894" transform="rotate(104 426.9 352.4)"/>
<ellipse cx="439.1" cy="341.3" rx="2.99" ry="2.87" fill="#3a168e" transform="rotate(45 439.1 341.3)"/>
<ellipse cx="443.2" cy="346.7" rx="3.10" ry="3.03" fill="#3a168e" transform="rotate(50 443.2 346.7)"/>
<ellipse cx="425.2" cy="321.2" rx="2.03" ry="1.74" fill="#36128a" transform="rotate(116 425.2 321.2)"/>
<ellipse cx="469.8" cy="356.3" rx="3.04" ry="2.96" fill="#3a168e" transform="rotate(12 469.8 356.3)"/>
<ellipse cx="404.0" cy="351.9" rx="2.86" ry="2.55" fill="#562ca6" transform="rotate(123 404.0 351.9)"/>
<ellipse cx="401.3" cy="339.4" rx="2.79" ry="3.32" fill="#6638b2" transform="rotate(18 401.3 339.4)"/>
<ellipse cx="442.1" cy="326.1" rx="3.17" ry="3.26" fill="#3a168e" transform="rotate(94 442.1 326.1)"/>
<ellipse cx="433.2" cy="322.4" rx="2.34" ry="2.78" fill="#4a209c" transform="rotate(123 433.2 322.4)"/>
<ellipse cx="445.6" cy="373.5" rx="3.06" ry="2.62" fill="#4a209c" transform="rotate(8 445.6 373.5)"/>
<ellipse cx="436.0" cy="361.1" rx="2.54" ry="2.20" fill="#562ca6" transform="rotate(144 436.0 361.1)"/>
<ellipse cx="494.8" cy="349.2" rx="2.10" ry="2.47" fill="#6638b2" transform="rotate(28 494.8 349.2)"/>
<ellipse cx="457.9" cy="353.2" rx="3.21" ry="3.13" fill="#3a168e" transform="rotate(55 457.9 353.2)"/>
<ellipse cx="497.8" cy="339.6" rx="3.27" ry="2.74" fill="#6638b2" transform="rotate(168 497.8 339.6)"/>
<ellipse cx="435.9" cy="352.9" rx="2.48" ry="2.74" fill="#3a168e" transform="rotate(121 435.9 352.9)"/>
<ellipse cx="409.0" cy="344.5" rx="2.26" ry="2.18" fill="#6638b2" transform="rotate(30 409.0 344.5)"/>
<ellipse cx="452.7" cy="348.6" rx="3.13" ry="2.96" fill="#3a168e" transform="rotate(145 452.7 348.6)"/>
<ellipse cx="477.7" cy="328.5" rx="1.95" ry="1.90" fill="#562ca6" transform="rotate(137 477.7 328.5)"/>
<ellipse cx="493.3" cy="380.5" rx="2.41" ry="2.42" fill="#3a168e" transform="rotate(150 493.3 380.5)"/>
<ellipse cx="422.7" cy="358.9" rx="2.18" ry="2.55" fill="#36128a" transform="rotate(124 422.7 358.9)"/>
<ellipse cx="429.4" cy="346.5" rx="2.40" ry="2.47" fill="#401894" transform="rotate(158 429.4 346.5)"/>
<ellipse cx="416.7" cy="353.9" rx="2.94" ry="2.76" fill="#6638b2" transform="rotate(66 416.7 353.9)"/>
<ellipse cx="492.0" cy="308.7" rx="2.58" ry="2.88" fill="#401894" transform="rotate(158 492.0 308.7)"/>
<ellipse cx="442.7" cy="379.4" rx="2.24" ry="2.58" fill="#6638b2" transform="rotate(155 442.7 379.4)"/>
<ellipse cx="460.8" cy="320.9" rx="2.79" ry="2.73" fill="#4a209c" transform="rotate(156 460.8 320.9)"/>
<ellipse cx="478.3" cy="353.3" rx="2.97" ry="2.57" fill="#6638b2" transform="rotate(93 478.3 353.3)"/>
<ellipse cx="398.9" cy="368.0" rx="2.96" ry="2.22" fill="#4a209c" transform="rotate(17 398.9 368.0)"/>
<ellipse cx="413.5" cy="311.6" rx="2.32" ry="2.39" fill="#6638b2" transform="rotate(156 413.5 311.6)"/>
<ellipse cx="447.9" cy="366.3" rx="2.65" ry="2.33" fill="#401894" transform="rotate(41 447.9 366.3)"/>
<ellipse cx="488.0" cy="380.0" rx="2.20" ry="2.19" fill="#401894" transform="rotate(122 488.0 380.0)"/>
<ellipse cx="462.2" cy="342.0" rx="2.85" ry="3.41" fill="#562ca6" transform="rotate(101 462.2 342.0)"/>
<ellipse cx="442.5" cy="359.1" rx="2.32" ry="2.28" fill="#6638b2" transform="rotate(171 442.5 359.1)"/>
<ellipse cx="408.5" cy="370.2" rx="2.00" ry="1.97" fill="#562ca6" transform="rotate(68 408.5 370.2)"/>
<ellipse cx="399.0" cy="329.8" rx="3.41" ry="3.31" fill="#401894" transform="rotate(134 399.0 329.8)"/>
<ellipse cx="441.4" cy="353.3" rx="2.42" ry="2.02" fill="#6638b2" transform="rotate(55 441.4 353.3)"/>
<ellipse cx="450.3" cy="380.8" rx="2.10" ry="1.82" fill="#4a209c" transform="rotate(89 450.3 380.8)"/>
<ellipse cx="418.1" cy="373.5" rx="2.52" ry="2.37" fill="#401894" transform="rotate(103 418.1 373.5)"/>
<ellipse cx="434.6" cy="376.9" rx="2.54" ry="3.10" fill="#6638b2" transform="rotate(166 434.6 376.9)"/>
<ellipse cx="485.7" cy="343.2" rx="2.73" ry="1.99" fill="#6638b2" transform="rotate(135 485.7 343.2)"/>
<ellipse cx="417.3" cy="365.5" rx="2.37" ry="2.22" fill="#36128a" transform="rotate(148 417.3 365.5)"/>
<ellipse cx="486.7" cy="354.4" rx="1.89" ry="1.70" fill="#401894" transform="rotate(48 486.7 354.4)"/>
<ellipse cx="464.2" cy="327.8" rx="2.43" ry="2.85" fill="#36128a" transform="rotate(21 464.2 327.8)"/>
<ellipse cx="436.8" cy="309.0" rx="2.84" ry="2.80" fill="#6638b2" transform="rotate(147 436.8 309.0)"/>
<ellipse cx="468.7" cy="315.8" rx="2.00" ry="2.04" fill="#562ca6" transform="rotate(16 468.7 315.8)"/>
<ellipse cx="465.5" cy="378.0" rx="2.97" ry="2.73" fill="#562ca6" transform="rotate(173 465.5 378.0)"/>
<ellipse cx="439.9" cy="369.4" rx="3.06" ry="2.84" fill="#562ca6" transform="rotate(15 439.9 369.4)"/>
<ellipse cx="478.1" cy="335.1" rx="2.47" ry="2.70" fill="#4a209c" transform="rotate(21 478.1 335.1)"/>
<ellipse cx="426.3" cy="377.7" rx="2.79" ry="3.10" fill="#3a168e" transform="rotate(130 426.3 377.7)"/>
<ellipse cx="412.6" cy="320.4" rx="2.74" ry="2.37" fill="#6638b2" transform="rotate(144 412.6 320.4)"/>
<ellipse cx="435.2" cy="346.4" rx="2.59" ry="2.54" fill="#3a168e" transform="rotate(19 435.2 346.4)"/>
<ellipse cx="456.5" cy="381.2" rx="2.24" ry="2.29" fill="#36128a" transform="rotate(36 456.5 381.2)"/>
<ellipse cx="480.1" cy="363.2" rx="2.00" ry="2.22" fill="#36128a" transform="rotate(86 480.1 363.2)"/>
<ellipse cx="466.1" cy="334.6" rx="2.49" ry="2.86" fill="#36128a" transform="rotate(172 466.1 334.6)"/>
<ellipse cx="429.4" cy="310.6" rx="2.62" ry="2.41" fill="#4a209c" transform="rotate(120 429.4 310.6)"/>
<ellipse cx="495.4" cy="363.4" rx="2.70" ry="2.05" fill="#36128a" transform="rotate(11 495.4 363.4)"/>
<ellipse cx="427.3" cy="336.3" rx="2.27" ry="2.31" fill="#6638b2" transform="rotate(114 427.3 336.3)"/>
<ellipse cx="465.0" cy="311.5" rx="1.74" ry="2.21" fill="#401894" transform="rotate(95 465.0 311.5)"/>
<ellipse cx="488.7" cy="347.5" rx="1.85" ry="2.19" fill="#4a209c" transform="rotate(74 488.7 347.5)"/>
<ellipse cx="448.0" cy="329.1" rx="2.81" ry="2.82" fill="#401894" transform="rotate(17 448.0 329.1)"/>
<ellipse cx="398.2" cy="375.8" rx="2.45" ry="2.47" fill="#3a168e" transform="rotate(46 398.2 375.8)"/>
<ellipse cx="404.2" cy="326.3" rx="2.53" ry="2.46" fill="#401894" transform="rotate(122 404.2 326.3)"/>
<ellipse cx="480.8" cy="322.1" rx="2.99" ry="2.61" fill="#4a209c" transform="rotate(56 480.8 322.1)"/>
<ellipse cx="419.3" cy="344.7" rx="2.23" ry="2.46" fill="#562ca6" transform="rotate(14 419.3 344.7)"/>
<ellipse cx="490.5" cy="318.4" rx="2.46" ry="2.79" fill="#3a168e" transform="rotate(98 490.5 318.4)"/>
<ellipse cx="435.8" cy="330.8" rx="2.69" ry="2.87" fill="#6638b2" transform="rotate(48 435.8 330.8)"/>
<ellipse cx="492.8" cy="324.6" rx="2.06" ry="2.07" fill="#6638b2" transform="rotate(15 492.8 324.6)"/>
<ellipse cx="455.6" cy="342.8" rx="2.30" ry="2.67" fill="#4a209c" transform="rotate(23 455.6 342.8)"/>
<ellipse cx="481.2" cy="313.2" rx="2.07" ry="1.98" fill="#6638b2" transform="rotate(166 481.2 313.2)"/>
<ellipse cx="464.1" cy="356.6" rx="1.92" ry="1.75" fill="#6638b2" transform="rotate(143 464.1 356.6)"/>
<ellipse cx="474.1" cy="364.1" rx="3.44" ry="2.54" fill="#4a209c" transform="rotate(94 474.1 364.1)"/>
<ellipse cx="432.4" cy="339.8" rx="2.57" ry="2.25" fill="#6638b2" transform="rotate(134 432.4 339.8)"/>
<ellipse cx="471.9" cy="370.0" rx="2.19" ry="2.13" fill="#6638b2" transform="rotate(114 471.9 370.0)"/>
<ellipse cx="471.0" cy="331.3" rx="2.31" ry="2.29" fill="#4a209c" transform="rotate(86 471.0 331.3)"/>
<ellipse cx="445.1" cy="318.4" rx="3.26" ry="3.18" fill="#562ca6" transform="rotate(66 445.1 318.4)"/>
<ellipse cx="472.5" cy="338.4" rx="2.13" ry="2.64" fill="#36128a" transform="rotate(168 472.5 338.4)"/>
<ellipse cx="468.0" cy="348.3" rx="2.52" ry="3.06" fill="#401894" transform="rotate(61 468.0 348.3)"/>
<ellipse cx="403.0" cy="362.1" rx="1.97" ry="2.27" fill="#562ca6" transform="rotate(114 403.0 362.1)"/>
<ellipse cx="488.4" cy="361.5" rx="2.36" ry="2.81" fill="#6638b2" transform="rotate(7 488.4 361.5)"/>
<ellipse cx="405.6" cy="316.3" rx="2.38" ry="2.33" fill="#36128a" transform="rotate(96 405.6 316.3)"/>
<ellipse cx="420.1" cy="316.4" rx="2.61" ry="2.07" fill="#3a168e" transform="rotate(162 420.1 316.4)"/>
<ellipse cx="450.9" cy="322.1" rx="3.27" ry="2.96" fill="#3a168e" transform="rotate(61 450.9 322.1)"/>
<ellipse cx="398.0" cy="358.8" rx="2.48" ry="3.41" fill="#401894" transform="rotate(99 398.0 358.8)"/>
<ellipse cx="429.0" cy="317.3" rx="1.97" ry="2.47" fill="#6638b2" transform="rotate(124 429.0 317.3)"/>
<ellipse cx="410.2" cy="381.2" rx="2.23" ry="1.91" fill="#3a168e" transform="rotate(173 410.2 381.2)"/>
<ellipse cx="470.2" cy="325.6" rx="2.07" ry="1.85" fill="#401894" transform="rotate(12 470.2 325.6)"/>
<ellipse cx="473.6" cy="321.8" rx="2.18" ry="1.88" fill="#36128a" transform="rotate(14 473.6 321.8)"/>
<ellipse cx="485.9" cy="309.2" rx="2.30" ry="2.59" fill="#4a209c" transform="rotate(88 485.9 309.2)"/>
<ellipse cx="481.6" cy="347.3" rx="2.10" ry="2.46" fill="#562ca6" transform="rotate(63 481.6 347.3)"/>
<ellipse cx="474.4" cy="379.6" rx="2.88" ry="2.96" fill="#401894" transform="rotate(113 474.4 379.6)"/>
<ellipse cx="486.9" cy="336.7" rx="2.60" ry="2.32" fill="#36128a" transform="rotate(26 486.9 336.7)"/>
<ellipse cx="423.1" cy="333.4" rx="2.27" ry="2.36" fill="#36128a" transform="rotate(57 423.1 333.4)"/>
<ellipse cx="459.7" cy="336.4" rx="2.54" ry="2.07" fill="#401894" transform="rotate(11 459.7 336.4)"/>
<ellipse cx="481.8" cy="379.3" rx="2.96" ry="3.10" fill="#401894" transform="rotate(128 481.8 379.3)"/>
<ellipse cx="492.6" cy="332.4" rx="2.74" ry="2.52" fill="#36128a" transform="rotate(93 492.6 332.4)"/>
<ellipse cx="398.2" cy="309.2" rx="2.56" ry="2.55" fill="#4a209c" transform="rotate(8 398.2 309.2)"/>
<ellipse cx="466.1" cy="361.5" rx="2.08" ry="2.36" fill="#562ca6" transform="rotate(127 466.1 361.5)"/>
<ellipse cx="453.1" cy="363.0" rx="2.34" ry="1.83" fill="#3a168e" transform="rotate(93 453.1 363.0)"/>
<ellipse cx="414.1" cy="346.7" rx="2.64" ry="2.45" fill="#3a168e" transform="rotate(137 414.1 346.7)"/>
<ellipse cx="475.0" cy="316.2" rx="1.95" ry="2.17" fill="#562ca6" transform="rotate(68 475.0 316.2)"/>
<ellipse cx="417.3" cy="381.6" rx="2.63" ry="2.64" fill="#562ca6" transform="rotate(79 417.3 381.6)"/>
<ellipse cx="459.8" cy="363.2" rx="2.14" ry="2.30" fill="#3a168e" transform="rotate(164 459.8 363.2)"/>
<ellipse cx="419.4" cy="324.9" rx="3.17" ry="2.98" fill="#4a209c" transform="rotate(34 419.4 324.9)"/>
<ellipse cx="448.9" cy="354.3" rx="2.30" ry="2.47" fill="#3a168e" transform="rotate(93 448.9 354.3)"/>
<ellipse cx="429.9" cy="364.8" rx="2.20" ry="2.26" fill="#6638b2" transform="rotate(35 429.9 364.8)"/>
<ellipse cx="425.7" cy="328.6" rx="2.26" ry="2.67" fill="#562ca6" transform="rotate(28 425.7 328.6)"/>
<ellipse cx="408.9" cy="375.8" rx="1.93" ry="2.12" fill="#3a168e" transform="rotate(57 408.9 375.8)"/>
<ellipse cx="398.4" cy="349.5" rx="2.25" ry="2.63" fill="#6638b2" transform="rotate(124 398.4 349.5)"/>
<ellipse cx="419.3" cy="310.6" rx="2.74" ry="2.88" fill="#562ca6" transform="rotate(73 419.3 310.6)"/>
<ellipse cx="459.4" cy="309.2" rx="1.66" ry="1.65" fill="#401894" transform="rotate(143 459.4 309.2)"/>
<ellipse cx="492.7" cy="344.0" rx="2.14" ry="2.11" fill="#36128a" transform="rotate(137 492.7 344.0)"/>
<ellipse cx="458.5" cy="375.0" rx="2.21" ry="2.26" fill="#6638b2" transform="rotate(144 458.5 375.0)"/>
<ellipse cx="445.1" cy="336.1" rx="2.11" ry="2.11" fill="#401894" transform="rotate(129 445.1 336.1)"/>
<ellipse cx="400.3" cy="322.7" rx="1.80" ry="2.06" fill="#3a168e" transform="rotate(155 400.3 322.7)"/>
<ellipse cx="451.9" cy="372.9" rx="2.19" ry="2.06" fill="#401894" transform="rotate(1 451.9 372.9)"/>
<ellipse cx="441.7" cy="332.7" rx="2.09" ry="1.76" fill="#3a168e" transform="rotate(124 441.7 332.7)"/>
<ellipse cx="475.4" cy="348.5" rx="2.37" ry="1.92" fill="#401894" transform="rotate(14 475.4 348.5)"/>
<ellipse cx="482.7" cy="358.1" rx="2.16" ry="2.28" fill="#401894" transform="rotate(67 482.7 358.1)"/>
<ellipse cx="497.4" cy="329.0" rx="2.37" ry="2.54" fill="#562ca6" transform="rotate(104 497.4 329.0)"/>
<ellipse cx="434.6" cy="316.9" rx="1.96" ry="1.90" fill="#4a209c" transform="rotate(11 434.6 316.9)"/>
<ellipse cx="477.6" cy="308.4" rx="2.75" ry="2.10" fill="#6638b2" transform="rotate(150 477.6 308.4)"/>
<ellipse cx="452.4" cy="308.3" rx="2.32" ry="1.99" fill="#401894" transform="rotate(129 452.4 308.3)"/>
<ellipse cx="425.0" cy="341.1" rx="2.67" ry="2.83" fill="#401894" transform="rotate(147 425.0 341.1)"/>
<ellipse cx="479.4" cy="341.5" rx="3.22" ry="2.47" fill="#3a168e" transform="rotate(123 479.4 341.5)"/>
<ellipse cx="421.1" cy="350.5" rx="1.84" ry="2.22" fill="#562ca6" transform="rotate(60 421.1 350.5)"/>
<ellipse cx="455.3" cy="317.8" rx="1.68" ry="1.67" fill="#6638b2" transform="rotate(111 455.3 317.8)"/>
<ellipse cx="411.2" cy="352.0" rx="2.69" ry="2.54" fill="#401894" transform="rotate(47 411.2 352.0)"/>
<ellipse cx="403.5" cy="370.6" rx="1.76" ry="1.83" fill="#36128a" transform="rotate(16 403.5 370.6)"/>
<ellipse cx="497.8" cy="310.7" rx="1.91" ry="1.97" fill="#4a209c" transform="rotate(59 497.8 310.7)"/>
<ellipse cx="439.8" cy="320.6" rx="1.74" ry="1.92" fill="#401894" transform="rotate(60 439.8 320.6)"/>
<ellipse cx="475.6" cy="358.2" rx="2.24" ry="1.77" fill="#4a209c" transform="rotate(97 475.6 358.2)"/>
<ellipse cx="399.6" cy="381.6" rx="2.82" ry="2.89" fill="#401894" transform="rotate(149 399.6 381.6)"/>
<ellipse cx="470.6" cy="374.9" rx="1.85" ry="2.07" fill="#401894" transform="rotate(122 470.6 374.9)"/>
<ellipse cx="404.1" cy="333.6" rx="2.37" ry="2.29" fill="#6638b2" transform="rotate(125 404.1 333.6)"/>
</g>
<line x1="403.00" y1="319.00" x2="412.75" y2="324.57" stroke="#000" stroke-width="1.8"/>
<polygon points="417.00,327.00 410.77,327.01 413.01,324.72 413.85,321.63" fill="#000"/>
<line x1="420.00" y1="318.00" x2="429.62" y2="322.81" stroke="#000" stroke-width="1.8"/>
<polygon points="434.00,325.00 427.78,325.36 429.89,322.94 430.56,319.81" fill="#000"/>
<line x1="458.00" y1="326.00" x2="465.77" y2="330.53" stroke="#000" stroke-width="1.8"/>
<polygon points="470.00,333.00 463.77,332.96 466.03,330.68 466.90,327.60" fill="#000"/>
<line x1="401.00" y1="335.00" x2="409.97" y2="341.21" stroke="#000" stroke-width="1.8"/>
<polygon points="414.00,344.00 407.80,343.48 410.22,341.38 411.32,338.38" fill="#000"/>
<line x1="439.00" y1="337.00" x2="448.88" y2="343.35" stroke="#000" stroke-width="1.8"/>
<polygon points="453.00,346.00 446.78,345.69 449.13,343.51 450.13,340.47" fill="#000"/>
<rect x="409.00" y="369.00" width="17.00" height="3.00" fill="#fff"/>
</g>
</svg></body></html>
